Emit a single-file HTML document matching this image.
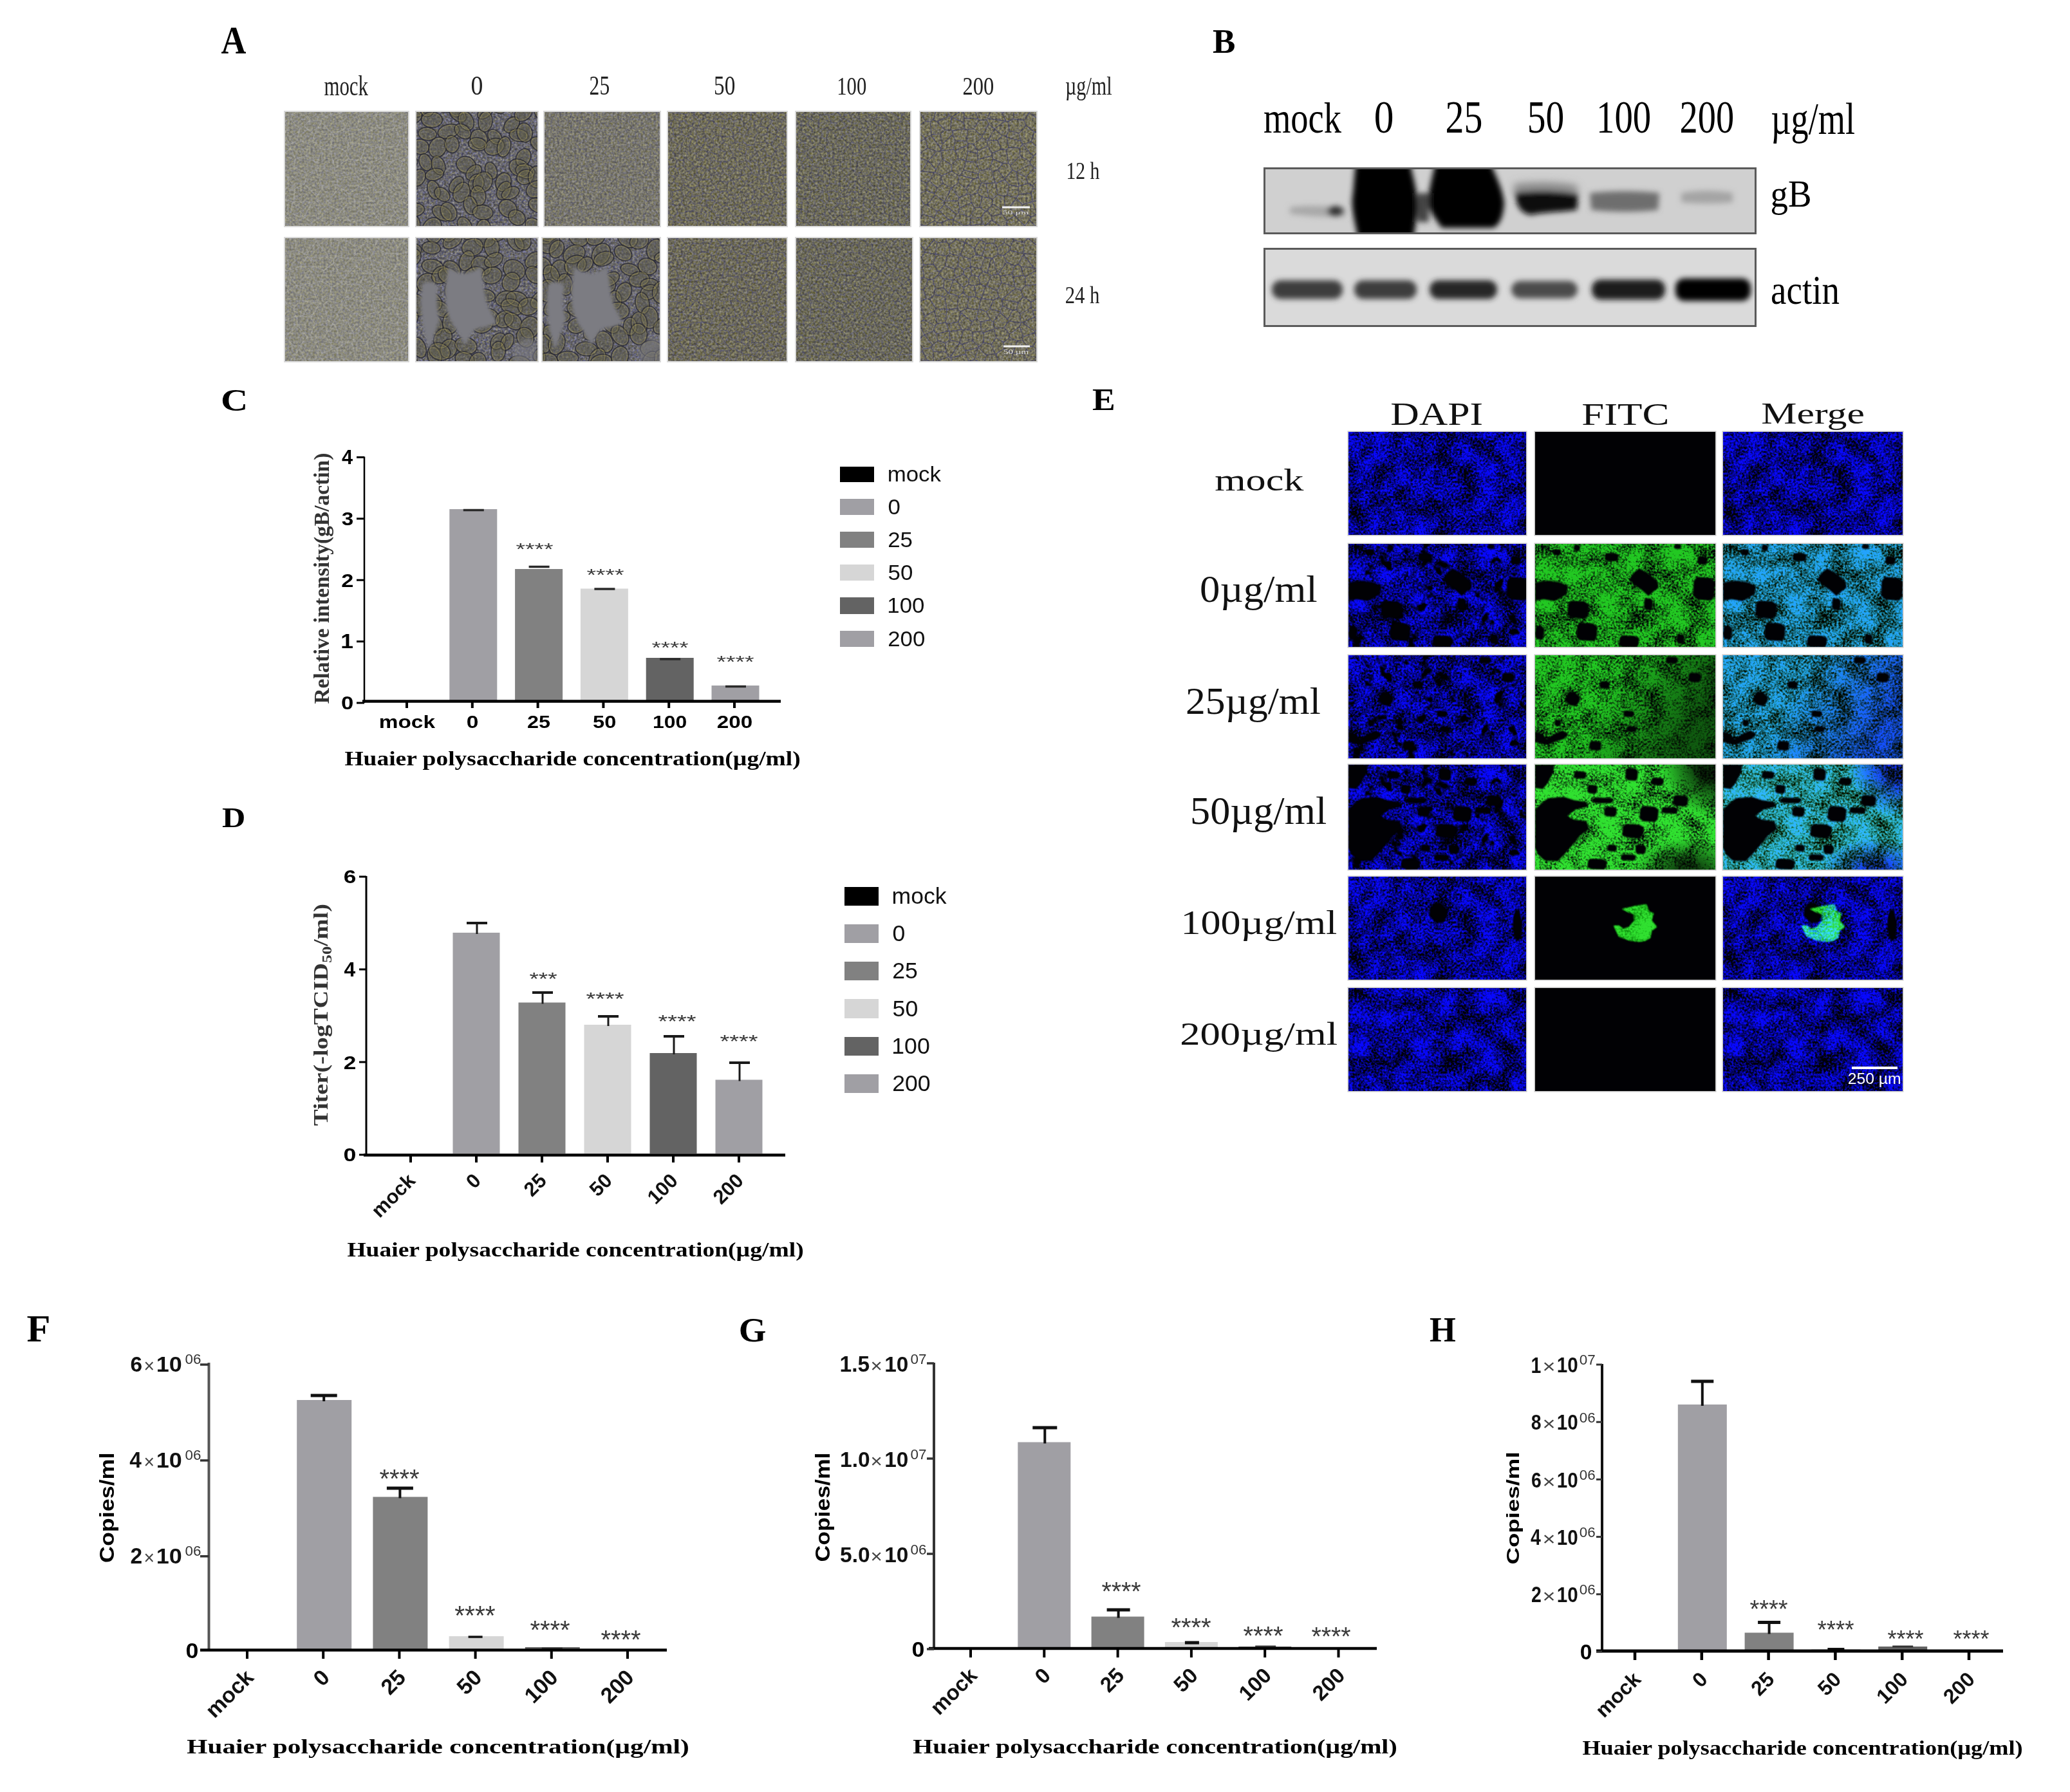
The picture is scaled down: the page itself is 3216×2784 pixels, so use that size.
<!DOCTYPE html><html><head><meta charset="utf-8"><title>Figure</title><style>html,body{margin:0;padding:0;background:#fff;overflow:hidden;width:3216px;height:2784px;}svg{display:block}</style></head><body>
<svg width="3216" height="2784" viewBox="0 0 3216 2784">
<defs><filter id="blur6" x="-20%" y="-50%" width="140%" height="200%"><feGaussianBlur stdDeviation="6"/></filter><filter id="blur2" x="-20%" y="-20%" width="140%" height="140%"><feGaussianBlur stdDeviation="2"/></filter>
<filter id="nz" x="0" y="0" width="1" height="1" color-interpolation-filters="sRGB"><feTurbulence type="fractalNoise" baseFrequency="0.3" numOctaves="2" seed="3" result="n"/><feColorMatrix in="n" type="matrix" values="1 0.32 0 0 -0.16  1 0.27 0 0 -0.135  1 -0.5 0 0 0.25  0 0 0 0 1" result="nc"/><feComposite in="SourceGraphic" in2="nc" operator="arithmetic" k1="0" k2="1" k3="0.5" k4="-0.25"/></filter>
<filter id="pa00" x="0" y="0" width="1" height="1" color-interpolation-filters="sRGB">
<feTurbulence type="fractalNoise" baseFrequency="0.3" numOctaves="2" seed="11" result="n"/>
<feColorMatrix in="n" type="matrix" values="1 0.32 0 0 -0.16  1 0.27 0 0 -0.135  1 -0.5 0 0 0.25  0 0 0 0 1" result="nc"/>
<feComposite in="SourceGraphic" in2="nc" operator="arithmetic" k1="0" k2="1" k3="0.32" k4="-0.160"/>
</filter>
<filter id="pa01" x="0" y="0" width="1" height="1" color-interpolation-filters="sRGB">
<feTurbulence type="fractalNoise" baseFrequency="0.3" numOctaves="2" seed="12" result="n"/>
<feColorMatrix in="n" type="matrix" values="1 0.32 0 0 -0.16  1 0.27 0 0 -0.135  1 -0.5 0 0 0.25  0 0 0 0 1" result="nc"/>
<feComposite in="SourceGraphic" in2="nc" operator="arithmetic" k1="0" k2="1" k3="0.5" k4="-0.250"/>
</filter>
<filter id="pa02" x="0" y="0" width="1" height="1" color-interpolation-filters="sRGB">
<feTurbulence type="fractalNoise" baseFrequency="0.3" numOctaves="2" seed="13" result="n"/>
<feColorMatrix in="n" type="matrix" values="1 0.32 0 0 -0.16  1 0.27 0 0 -0.135  1 -0.5 0 0 0.25  0 0 0 0 1" result="nc"/>
<feComposite in="SourceGraphic" in2="nc" operator="arithmetic" k1="0" k2="1" k3="0.4" k4="-0.200"/>
</filter>
<filter id="pa03" x="0" y="0" width="1" height="1" color-interpolation-filters="sRGB">
<feTurbulence type="fractalNoise" baseFrequency="0.3" numOctaves="2" seed="14" result="n"/>
<feColorMatrix in="n" type="matrix" values="1 0.32 0 0 -0.16  1 0.27 0 0 -0.135  1 -0.5 0 0 0.25  0 0 0 0 1" result="nc"/>
<feComposite in="SourceGraphic" in2="nc" operator="arithmetic" k1="0" k2="1" k3="0.45" k4="-0.225"/>
</filter>
<filter id="pa04" x="0" y="0" width="1" height="1" color-interpolation-filters="sRGB">
<feTurbulence type="fractalNoise" baseFrequency="0.3" numOctaves="2" seed="15" result="n"/>
<feColorMatrix in="n" type="matrix" values="1 0.32 0 0 -0.16  1 0.27 0 0 -0.135  1 -0.5 0 0 0.25  0 0 0 0 1" result="nc"/>
<feComposite in="SourceGraphic" in2="nc" operator="arithmetic" k1="0" k2="1" k3="0.45" k4="-0.225"/>
</filter>
<filter id="pa05" x="0" y="0" width="1" height="1" color-interpolation-filters="sRGB">
<feTurbulence type="fractalNoise" baseFrequency="0.3" numOctaves="2" seed="16" result="n"/>
<feColorMatrix in="n" type="matrix" values="1 0.32 0 0 -0.16  1 0.27 0 0 -0.135  1 -0.5 0 0 0.25  0 0 0 0 1" result="nc"/>
<feComposite in="SourceGraphic" in2="nc" operator="arithmetic" k1="0" k2="1" k3="0.45" k4="-0.225"/>
</filter>
<filter id="pa10" x="0" y="0" width="1" height="1" color-interpolation-filters="sRGB">
<feTurbulence type="fractalNoise" baseFrequency="0.3" numOctaves="2" seed="17" result="n"/>
<feColorMatrix in="n" type="matrix" values="1 0.32 0 0 -0.16  1 0.27 0 0 -0.135  1 -0.5 0 0 0.25  0 0 0 0 1" result="nc"/>
<feComposite in="SourceGraphic" in2="nc" operator="arithmetic" k1="0" k2="1" k3="0.32" k4="-0.160"/>
</filter>
<filter id="pa11" x="0" y="0" width="1" height="1" color-interpolation-filters="sRGB">
<feTurbulence type="fractalNoise" baseFrequency="0.3" numOctaves="2" seed="18" result="n"/>
<feColorMatrix in="n" type="matrix" values="1 0.32 0 0 -0.16  1 0.27 0 0 -0.135  1 -0.5 0 0 0.25  0 0 0 0 1" result="nc"/>
<feComposite in="SourceGraphic" in2="nc" operator="arithmetic" k1="0" k2="1" k3="0.5" k4="-0.250"/>
</filter>
<filter id="pa12" x="0" y="0" width="1" height="1" color-interpolation-filters="sRGB">
<feTurbulence type="fractalNoise" baseFrequency="0.3" numOctaves="2" seed="19" result="n"/>
<feColorMatrix in="n" type="matrix" values="1 0.32 0 0 -0.16  1 0.27 0 0 -0.135  1 -0.5 0 0 0.25  0 0 0 0 1" result="nc"/>
<feComposite in="SourceGraphic" in2="nc" operator="arithmetic" k1="0" k2="1" k3="0.5" k4="-0.250"/>
</filter>
<filter id="pa13" x="0" y="0" width="1" height="1" color-interpolation-filters="sRGB">
<feTurbulence type="fractalNoise" baseFrequency="0.3" numOctaves="2" seed="20" result="n"/>
<feColorMatrix in="n" type="matrix" values="1 0.32 0 0 -0.16  1 0.27 0 0 -0.135  1 -0.5 0 0 0.25  0 0 0 0 1" result="nc"/>
<feComposite in="SourceGraphic" in2="nc" operator="arithmetic" k1="0" k2="1" k3="0.45" k4="-0.225"/>
</filter>
<filter id="pa14" x="0" y="0" width="1" height="1" color-interpolation-filters="sRGB">
<feTurbulence type="fractalNoise" baseFrequency="0.3" numOctaves="2" seed="21" result="n"/>
<feColorMatrix in="n" type="matrix" values="1 0.32 0 0 -0.16  1 0.27 0 0 -0.135  1 -0.5 0 0 0.25  0 0 0 0 1" result="nc"/>
<feComposite in="SourceGraphic" in2="nc" operator="arithmetic" k1="0" k2="1" k3="0.45" k4="-0.225"/>
</filter>
<filter id="pa15" x="0" y="0" width="1" height="1" color-interpolation-filters="sRGB">
<feTurbulence type="fractalNoise" baseFrequency="0.3" numOctaves="2" seed="22" result="n"/>
<feColorMatrix in="n" type="matrix" values="1 0.32 0 0 -0.16  1 0.27 0 0 -0.135  1 -0.5 0 0 0.25  0 0 0 0 1" result="nc"/>
<feComposite in="SourceGraphic" in2="nc" operator="arithmetic" k1="0" k2="1" k3="0.45" k4="-0.225"/>
</filter>
<clipPath id="cgb"><rect x="1966" y="263" width="760" height="98"/></clipPath><clipPath id="cac"><rect x="1966" y="388" width="760" height="117"/></clipPath>
<filter id="blur4" x="-20%" y="-50%" width="140%" height="200%"><feGaussianBlur stdDeviation="4"/></filter>
<filter id="hb" x="-10%" y="-10%" width="120%" height="120%"><feGaussianBlur stdDeviation="1.2"/></filter>
<filter id="sblue" x="0" y="0" width="1" height="1" color-interpolation-filters="sRGB">
<feTurbulence type="fractalNoise" baseFrequency="0.3" numOctaves="2" seed="5" result="sp00"/>
<feColorMatrix in="sp00" type="matrix" values="1 0 0 0 0  0 1 0 0 0  0 0 1 0 0  0 0 0 0 1" result="sp0"/>
<feTurbulence type="fractalNoise" baseFrequency="0.03" numOctaves="2" seed="55" result="lo0"/>
<feColorMatrix in="lo0" type="matrix" values="1 0 0 0 0  0 1 0 0 0  0 0 1 0 0  0 0 0 0 1" result="lo"/>
<feComposite in="sp0" in2="lo" operator="arithmetic" k1="0" k2="1" k3="0.8" k4="-0.4" result="sp"/>
<feColorMatrix in="sp" type="matrix" values="0 0 0 0 0  0 0 0 0 0  0 0 0 0 0  2.0 0 0 0 -0.48" result="spA"/>
<feFlood flood-color="#0808ff"/>
<feComposite in2="spA" operator="in"/>
</filter>
<filter id="sblue2" x="0" y="0" width="1" height="1" color-interpolation-filters="sRGB">
<feTurbulence type="fractalNoise" baseFrequency="0.3" numOctaves="2" seed="6" result="sp00"/>
<feColorMatrix in="sp00" type="matrix" values="1 0 0 0 0  0 1 0 0 0  0 0 1 0 0  0 0 0 0 1" result="sp0"/>
<feTurbulence type="fractalNoise" baseFrequency="0.03" numOctaves="2" seed="56" result="lo0"/>
<feColorMatrix in="lo0" type="matrix" values="1 0 0 0 0  0 1 0 0 0  0 0 1 0 0  0 0 0 0 1" result="lo"/>
<feComposite in="sp0" in2="lo" operator="arithmetic" k1="0" k2="1" k3="0.8" k4="-0.4" result="sp"/>
<feColorMatrix in="sp" type="matrix" values="0 0 0 0 0  0 0 0 0 0  0 0 0 0 0  2.0 0 0 0 -0.48" result="spA"/>
<feFlood flood-color="#0808ff"/>
<feComposite in2="spA" operator="in"/>
</filter>
<filter id="sgreen1" x="0" y="0" width="1" height="1" color-interpolation-filters="sRGB">
<feTurbulence type="fractalNoise" baseFrequency="0.3" numOctaves="2" seed="6" result="sp00"/>
<feColorMatrix in="sp00" type="matrix" values="1 0 0 0 0  0 1 0 0 0  0 0 1 0 0  0 0 0 0 1" result="sp0"/>
<feTurbulence type="fractalNoise" baseFrequency="0.03" numOctaves="2" seed="56" result="lo0"/>
<feColorMatrix in="lo0" type="matrix" values="1 0 0 0 0  0 1 0 0 0  0 0 1 0 0  0 0 0 0 1" result="lo"/>
<feComposite in="sp0" in2="lo" operator="arithmetic" k1="0" k2="1" k3="0.8" k4="-0.4" result="sp"/>
<feColorMatrix in="sp" type="matrix" values="0 0 0 0 0  0 0 0 0 0  0 0 0 0 0  2.0 0 0 0 -0.3" result="spA"/>
<feFlood flood-color="#22c822"/>
<feComposite in2="spA" operator="in"/>
</filter>
<filter id="sgreen2" x="0" y="0" width="1" height="1" color-interpolation-filters="sRGB">
<feTurbulence type="fractalNoise" baseFrequency="0.3" numOctaves="2" seed="5" result="sp00"/>
<feColorMatrix in="sp00" type="matrix" values="1 0 0 0 0  0 1 0 0 0  0 0 1 0 0  0 0 0 0 1" result="sp0"/>
<feTurbulence type="fractalNoise" baseFrequency="0.03" numOctaves="2" seed="55" result="lo0"/>
<feColorMatrix in="lo0" type="matrix" values="1 0 0 0 0  0 1 0 0 0  0 0 1 0 0  0 0 0 0 1" result="lo"/>
<feComposite in="sp0" in2="lo" operator="arithmetic" k1="0" k2="1" k3="0.8" k4="-0.4" result="sp"/>
<feColorMatrix in="sp" type="matrix" values="0 0 0 0 0  0 0 0 0 0  0 0 0 0 0  2.0 0 0 0 -0.3" result="spA"/>
<feFlood flood-color="#22c822"/>
<feComposite in2="spA" operator="in"/>
</filter>
<filter id="sgreen3" x="0" y="0" width="1" height="1" color-interpolation-filters="sRGB">
<feTurbulence type="fractalNoise" baseFrequency="0.3" numOctaves="2" seed="6" result="sp00"/>
<feColorMatrix in="sp00" type="matrix" values="1 0 0 0 0  0 1 0 0 0  0 0 1 0 0  0 0 0 0 1" result="sp0"/>
<feTurbulence type="fractalNoise" baseFrequency="0.03" numOctaves="2" seed="56" result="lo0"/>
<feColorMatrix in="lo0" type="matrix" values="1 0 0 0 0  0 1 0 0 0  0 0 1 0 0  0 0 0 0 1" result="lo"/>
<feComposite in="sp0" in2="lo" operator="arithmetic" k1="0" k2="1" k3="0.8" k4="-0.4" result="sp"/>
<feColorMatrix in="sp" type="matrix" values="0 0 0 0 0  0 0 0 0 0  0 0 0 0 0  2.0 0 0 0 -0.2" result="spA"/>
<feFlood flood-color="#30e030"/>
<feComposite in2="spA" operator="in"/>
</filter>
<filter id="scyan" x="0" y="0" width="1" height="1" color-interpolation-filters="sRGB">
<feTurbulence type="fractalNoise" baseFrequency="0.22" numOctaves="2" seed="10" result="sp00"/>
<feColorMatrix in="sp00" type="matrix" values="1 0 0 0 0  0 1 0 0 0  0 0 1 0 0  0 0 0 0 1" result="sp0"/>
<feTurbulence type="fractalNoise" baseFrequency="0.03" numOctaves="2" seed="60" result="lo0"/>
<feColorMatrix in="lo0" type="matrix" values="1 0 0 0 0  0 1 0 0 0  0 0 1 0 0  0 0 0 0 1" result="lo"/>
<feComposite in="sp0" in2="lo" operator="arithmetic" k1="0" k2="1" k3="0.0" k4="-0.0" result="sp"/>
<feColorMatrix in="sp" type="matrix" values="0 0 0 0 0  0 0 0 0 0  0 0 0 0 0  2.6 0 0 0 -0.75" result="spA"/>
<feFlood flood-color="#00d0d0"/>
<feComposite in2="spA" operator="in"/>
</filter>
<filter id="dpatch" x="0" y="0" width="1" height="1" color-interpolation-filters="sRGB"><feTurbulence type="fractalNoise" baseFrequency="0.045" numOctaves="3" seed="21" result="h"/><feColorMatrix in="h" type="matrix" values="0 0 0 0 0  0 0 0 0 0  0 0 0 0 0.01  -7 0 0 0 2.9"/></filter>
<linearGradient id="g25" x1="0" y1="0" x2="1" y2="0.3"><stop offset="0.45" stop-color="#000" stop-opacity="0"/><stop offset="1" stop-color="#000" stop-opacity="0.55"/></linearGradient>
<radialGradient id="g50a" cx="1" cy="0" r="0.5" gradientTransform="scale(0.6,1) translate(0.66,0)"><stop offset="0.3" stop-color="#000" stop-opacity="0.8"/><stop offset="1" stop-color="#000" stop-opacity="0"/></radialGradient>
<radialGradient id="g50b" cx="0.85" cy="1" r="0.3"><stop offset="0.2" stop-color="#000" stop-opacity="0.7"/><stop offset="1" stop-color="#000" stop-opacity="0"/></radialGradient>
<mask id="blobm" maskUnits="userSpaceOnUse" x="0" y="0" width="290" height="170"><path d="M135,50 L150,47 L157,45 L173,43 L177,54 L184,57 L181,68 L189,78 L181,84 L179,95 L170,100 L160,101 L146,99 L130,93 L122,76 L130,76 L137,81 L146,78 L154,68 L153,58 L142,54 Z" fill="#fff" filter="url(#hb)"/></mask>
<mask id="hm1" maskUnits="userSpaceOnUse" x="0" y="0" width="280" height="164"><rect width="280" height="164" fill="#fff"/><g fill="#000" filter="url(#hb)"><path d="M0,60 L20,57 L40,60 L51,66 L49,78 L40,84 L30,89 L14,86 L0,88 Z"/><path d="M162,38 L176,46 L190,58 L192,68 L184,74 L176,81 L166,72 L155,64 L146,56 L152,46 Z"/><path d="M251.3,51 L272.44,52.85 L280,59.658 L278.25,81.34 L273.7,88 L251.93,86.52 L245,80.008 L246.4,57.66 Z"/><path d="M56.12,88 L76.656,89.4 L84,94.552 L82.3,110.96 L77.88,116 L56.732,114.88 L50,109.952 L51.36,93.04 Z"/><path d="M69.94,122 L89.872,123.45 L97,128.786 L95.35,145.78 L91.06,151 L70.534,149.84 L64,144.736 L65.32,127.22 Z"/><path d="M135.76,142 L155.088,142.95 L162,146.446 L160.4,157.58 L156.24,161 L136.336,160.24 L130,156.896 L131.28,145.42 Z"/><path d="M111.96,14 L125.248,14.65 L130,17.042 L128.9,24.66 L126.04,27 L112.356,26.48 L108,24.192 L108.88,16.34 Z"/><path d="M171.52,84 L179.976,84.95 L183,88.446 L182.3,99.58 L180.48,103 L171.772,102.24 L169,98.896 L169.56,87.42 Z"/><path d="M61.8,1 L67.84,1.5 L70,3.34 L69.5,9.2 L68.2,11 L61.98,10.6 L60,8.84 L60.4,2.8 Z"/><path d="M2.52,127 L10.975999999999999,128.1 L14,132.148 L13.3,145.04 L11.48,149 L2.7720000000000002,148.12 L0,144.248 L0.56,130.96 Z"/><path d="M217.98,0 L224.624,0.4 L227,1.8719999999999999 L226.45,6.5600000000000005 L225.02,8 L218.178,7.68 L216,6.272 L216.44,1.44 Z"/><path d="M254.88,19 L264.544,19.65 L268,22.042 L267.2,29.66 L265.12,32 L255.168,31.48 L252,29.192 L252.64,21.34 Z"/><path d="M30.16,8 L37.408,8.5 L40,10.34 L39.4,16.2 L37.84,18 L30.376,17.6 L28,15.84 L28.48,9.8 Z"/><path d="M222.16,140 L229.408,140.75 L232,143.51 L231.4,152.3 L229.84,155 L222.376,154.4 L220,151.76 L220.48,142.7 Z"/></g></mask>
<mask id="hm2" maskUnits="userSpaceOnUse" x="0" y="0" width="280" height="164"><rect width="280" height="164" fill="#fff"/><g fill="#000" filter="url(#hb)"><path d="M53.9,56 L61.72,57.15 L70,64.97 L68.85,72.1 L63.1,79 L54.59,78.08 L47,70.72 L47.92,62.9 Z"/><path d="M0,118 L10,122 L18,130 L30,122 L42,117 L52,122 L45,130 L32,134 L20,139 L8,137 L0,134 Z"/><path d="M87.42,133 L98.896,133.75 L103,136.51 L102.05,145.3 L99.58,148 L87.762,147.4 L84,144.76 L84.76,135.7 Z"/><path d="M140.06,86 L150.328,86.5 L154,88.34 L153.15,94.2 L150.94,96 L140.366,95.6 L137,93.84 L137.68,87.8 Z"/><path d="M241.6,27 L253.68,27.75 L258,30.509999999999998 L257.0,39.3 L254.4,42 L241.96,41.4 L238,38.76 L238.8,29.7 Z"/><path d="M206.42,2 L217.896,2.55 L222,4.574 L221.05,11.02 L218.58,13 L206.762,12.56 L203,10.624 L203.76,3.98 Z"/><path d="M144.88,110 L154.544,110.45 L158,112.106 L157.2,117.38 L155.12,119 L145.168,118.64 L142,117.056 L142.64,111.62 Z"/><path d="M102.88,40 L112.544,40.6 L116,42.808 L115.2,49.84 L113.12,52 L103.168,51.52 L100,49.408 L100.64,42.16 Z"/><path d="M31.8,100 L37.84,100.5 L40,102.34 L39.5,108.2 L38.2,110 L31.98,109.6 L30,107.84 L30.4,101.8 Z"/></g></mask>
<mask id="hm3" maskUnits="userSpaceOnUse" x="0" y="0" width="280" height="167"><rect width="280" height="167" fill="#fff"/><g fill="#000" filter="url(#hb)"><path d="M0,0 L30,0 L28,12 L20,28 L12,38 L0,36 Z"/><path d="M20,52 L45,50 L60,55 L80,58 L82,65 L62,70 L50,80 L60,85 L80,88 L84,100 L70,110 L58,125 L45,140 L35,150 L15,149 L5,140 L0,130 L0,70 L10,60 Z"/><path d="M83.88,31 L93.544,31.7 L97,34.276 L96.2,42.48 L94.12,45 L84.168,44.44 L81,41.976 L81.64,33.52 Z"/><path d="M94.12,51 L114.656,51.45 L122,53.106 L120.3,58.38 L115.88,60 L94.732,59.64 L88,58.056 L89.36,52.62 Z"/><path d="M110.6,65 L122.68,65.8 L127,68.744 L126.0,78.12 L123.4,81 L110.96,80.36 L107,77.544 L107.8,67.88 Z"/><path d="M141.12,92 L161.656,93.1 L169,97.148 L167.3,110.04 L162.88,114 L141.732,113.12 L135,109.248 L136.36,95.96 Z"/><path d="M167.4,64 L185.52,65.25 L192,69.85 L190.5,84.5 L186.6,89 L167.94,88.0 L162,83.6 L163.2,68.5 Z"/><path d="M200.68,66 L216.38400000000001,66.5 L222,68.34 L220.7,74.2 L217.32,76 L201.148,75.6 L196,73.84 L197.04,67.8 Z"/><path d="M218.32,47 L232.816,47.9 L238,51.212 L236.8,61.76 L233.68,65 L218.752,64.28 L214,61.112 L214.96,50.24 Z"/><path d="M158.88,124 L168.544,124.75 L172,127.51 L171.2,136.3 L169.12,139 L159.168,138.4 L156,135.76 L156.64,126.7 Z"/><path d="M114.7,124 L123.76,124.55 L127,126.574 L126.25,133.02 L124.3,135 L114.97,134.56 L112,132.624 L112.6,125.98 Z"/><path d="M86.58,146 L105.304,146.85 L112,149.978 L110.45,159.94 L106.42,163 L87.138,162.32 L81,159.328 L82.24,149.06 Z"/><path d="M137.32,139 L151.816,139.5 L157,141.34 L155.8,147.2 L152.68,149 L137.752,148.6 L133,146.84 L133.96,140.8 Z"/><path d="M143.6,5 L155.68,6.0 L160,9.68 L159.0,21.4 L156.4,25 L143.96,24.2 L140,20.68 L140.8,8.6 Z"/><path d="M63.6,10 L75.68,10.6 L80,12.808 L79.0,19.84 L76.4,22 L63.96,21.52 L60,19.408 L60.8,12.16 Z"/><path d="M183.6,20 L195.68,20.6 L200,22.808 L199.0,29.84 L196.4,32 L183.96,31.52 L180,29.408 L180.8,22.16 Z"/></g></mask>
<mask id="hm4" maskUnits="userSpaceOnUse" x="0" y="0" width="280" height="164"><rect width="280" height="164" fill="#fff"/><g fill="#000" filter="url(#hb)"><path d="M134.0,40 L144.2,41.6 L155,52.480000000000004 L153.5,62.4 L146.0,72 L134.9,70.72 L125,60.480000000000004 L126.2,49.6 Z"/><path d="M259.5,50 L264.6,52.5 L270,69.5 L269.25,85.0 L265.5,100 L259.95,98.0 L255,82.0 L255.6,65.0 Z"/></g></mask></defs>
<rect width="3216" height="2784" fill="#fff"/>
<text x="343.5" y="83.0" font-family='"Liberation Serif", serif' font-weight="bold" font-size="60.59" textLength="38.9" lengthAdjust="spacingAndGlyphs" fill="#000" >A</text>
<text x="1884.1" y="81.8" font-family='"Liberation Serif", serif' font-weight="bold" font-size="53.21" textLength="35.4" lengthAdjust="spacingAndGlyphs" fill="#000" >B</text>
<text x="343.1" y="637.5" font-family='"Liberation Serif", serif' font-weight="bold" font-size="47.63" textLength="42.3" lengthAdjust="spacingAndGlyphs" fill="#000" >C</text>
<text x="345.1" y="1284.9" font-family='"Liberation Serif", serif' font-weight="bold" font-size="44.16" textLength="36.3" lengthAdjust="spacingAndGlyphs" fill="#000" >D</text>
<text x="1697.1" y="637.0" font-family='"Liberation Serif", serif' font-weight="bold" font-size="48.87" textLength="35.7" lengthAdjust="spacingAndGlyphs" fill="#000" >E</text>
<text x="41.5" y="2084.0" font-family='"Liberation Serif", serif' font-weight="bold" font-size="58.80" textLength="36.9" lengthAdjust="spacingAndGlyphs" fill="#000" >F</text>
<text x="1147.8" y="2083.5" font-family='"Liberation Serif", serif' font-weight="bold" font-size="52.09" textLength="42.7" lengthAdjust="spacingAndGlyphs" fill="#000" >G</text>
<text x="2221.1" y="2084.0" font-family='"Liberation Serif", serif' font-weight="bold" font-size="54.98" textLength="40.8" lengthAdjust="spacingAndGlyphs" fill="#000" >H</text>
<rect x="441.0" y="172.0" width="195.0" height="181.0" fill="#dadada" />
<svg x="443" y="174" width="191" height="177" overflow="hidden"><rect width="191" height="177" fill="#8b8a80" filter="url(#pa00)"/>
<path d="M137,192L152,181M171,191L152,181M200,149L179,138M179,138L188,127M208,124L188,127M186,163L198,174M186,163L178,163M178,163L174,191M198,178L180,193M200,149L186,163M167,145L156,138M167,145L171,157M171,157L152,176M152,176L135,154M156,138L141,144M141,144L135,154M179,138L167,145M178,163L171,157M152,181L152,176M-1,34L-18,25M-1,34L8,12M8,12L-9,14M-1,34L6,49M6,49L-14,51M125,159L122,167M125,159L135,154M126,185L122,167M49,79L33,68M49,79L59,55M33,68L36,48M59,55L43,46M36,48L43,46M125,159L99,140M99,140L99,140M141,144L135,138M99,140L135,138M99,140L99,127M99,127L114,117M135,138L119,117M119,117L114,117M188,127L174,111M156,138L156,122M156,122L174,111M119,117L144,107M156,122L144,107M8,50L9,56M8,50L19,44M33,68L16,73M19,44L36,48M16,73L9,56M8,50L6,49M9,56L-12,74M-2,164L-30,175M-2,164L4,181M4,181L-17,200M9,185L4,181M63,142L52,141M63,142L85,117M49,131L58,118M49,131L49,138M52,141L49,138M58,118L81,112M85,117L81,112M99,140L86,154M86,154L63,142M99,127L85,117M8,12L9,12M19,44L22,26M22,26L9,12M-11,-14L11,5M9,12L11,5M113,101L114,117M113,101L109,95M81,112L81,100M109,95L81,100M51,87L48,90M51,87L76,89M48,90L58,118M76,89L81,100M159,79L149,72M159,79L158,88M158,88L144,106M149,72L132,79M144,106L132,91M132,91L132,79M144,107L144,106M174,111L176,106M176,106L158,88M125,50L118,73M125,50L147,56M118,73L132,79M147,56L149,72M113,101L132,91M118,73L108,76M109,95L108,76M147,56L148,55M174,73L174,53M174,73L159,79M174,53L148,55M-2,164L-2,164M-2,164L-23,140M9,185L21,179M38,186L21,179M63,186L68,175M68,175L52,165M52,165L41,172M38,186L41,172M52,165L52,141M49,138L42,140M41,172L29,163M42,140L29,163M-2,164L8,156M21,179L22,163M8,156L22,163M22,163L29,163M102,171L101,178M102,171L86,155M101,178L89,190M89,190L75,173M75,173L86,155M122,167L102,171M115,189L101,178M86,154L86,155M68,175L75,173M85,2L100,-9M85,2L79,0M79,0L72,-23M43,46L45,35M22,26L29,22M45,35L29,22M94,61L98,72M94,61L72,50M98,72L77,88M77,88L69,52M69,52L72,50M125,50L125,49M125,49L102,50M102,50L94,61M108,76L98,72M75,35L72,50M75,35L94,25M94,25L98,26M102,50L98,26M76,89L77,88M51,87L49,79M59,55L69,52M75,35L56,16M45,35L56,16M176,106L177,105M174,73L182,77M182,77L177,105M208,123L189,104M189,104L177,105M202,52L184,77M184,77L201,87M201,49L180,43M180,43L174,53M182,77L184,77M189,104L201,87M168,5L170,25M168,5L169,0M169,0L192,-1M172,26L170,25M172,26L191,17M191,17L192,-1M165,-15L169,0M143,3L147,-15M143,3L168,5M180,43L172,26M148,55L154,28M154,28L170,25M214,23L191,17M200,-12L192,-1M100,-9L118,0M118,0L128,-15M144,24L140,9M144,24L125,33M140,9L118,2M118,2L111,24M125,33L111,24M154,28L144,24M143,3L140,9M125,49L125,33M118,0L118,2M94,25L85,2M98,26L111,24M48,90L34,96M49,131L30,112M30,112L34,96M16,73L14,85M34,96L14,85M-5,93L-1,93M14,85L-1,93M13,139L12,140M13,139L15,119M12,140L-6,133M15,119L15,118M15,118L-8,119M42,140L13,139M8,156L12,140M30,112L15,119M-1,93L15,118M29,22L39,12M56,16L56,14M39,12L56,14M11,5L25,-6M39,12L25,-6M79,0L59,8M59,8L56,14M59,8L53,-9" fill="none" stroke="#d0d0d8" stroke-opacity="0.2" stroke-width="1.6"/>
</svg>
<rect x="645.0" y="172.0" width="192.0" height="181.0" fill="#dadada" />
<svg x="647" y="174" width="188" height="177" overflow="hidden"><rect width="188" height="177" fill="#74737a" filter="url(#pa01)"/>
<g fill="#66634f" fill-opacity="0.5" stroke="#2a2a36" stroke-width="1.7" stroke-opacity="0.7"><ellipse cx="1" cy="-9" rx="17.2" ry="12.8" transform="rotate(88 1 -9)"/><ellipse cx="17" cy="-8" rx="15.7" ry="12.2" transform="rotate(94 17 -8)"/><ellipse cx="48" cy="-10" rx="14.1" ry="10.5" transform="rotate(160 48 -10)"/><ellipse cx="63" cy="-9" rx="17.1" ry="12.6" transform="rotate(101 63 -9)"/><ellipse cx="107" cy="0" rx="14.1" ry="8.7" transform="rotate(141 107 0)"/><ellipse cx="125" cy="-9" rx="14.5" ry="9.3" transform="rotate(38 125 -9)"/><ellipse cx="144" cy="-21" rx="14.4" ry="10.3" transform="rotate(145 144 -21)"/><ellipse cx="185" cy="-16" rx="13.7" ry="9.1" transform="rotate(91 185 -16)"/><ellipse cx="-6" cy="7" rx="14.7" ry="11.1" transform="rotate(166 -6 7)"/><ellipse cx="24" cy="12" rx="16.4" ry="12.2" transform="rotate(1 24 12)"/><ellipse cx="64" cy="3" rx="15.8" ry="9.9" transform="rotate(42 64 3)"/><ellipse cx="77" cy="14" rx="15.7" ry="11.5" transform="rotate(66 77 14)"/><ellipse cx="107" cy="15" rx="16.3" ry="10.9" transform="rotate(98 107 15)"/><ellipse cx="148" cy="20" rx="14.2" ry="10.3" transform="rotate(132 148 20)"/><ellipse cx="166" cy="2" rx="14.9" ry="11.3" transform="rotate(143 166 2)"/><ellipse cx="195" cy="3" rx="15.3" ry="9.6" transform="rotate(50 195 3)"/><ellipse cx="-16" cy="39" rx="15.8" ry="10.6" transform="rotate(107 -16 39)"/><ellipse cx="17" cy="34" rx="14.4" ry="10.2" transform="rotate(7 17 34)"/><ellipse cx="50" cy="30" rx="17.1" ry="10.8" transform="rotate(165 50 30)"/><ellipse cx="72" cy="30" rx="14.4" ry="10.1" transform="rotate(38 72 30)"/><ellipse cx="97" cy="42" rx="15.5" ry="13.1" transform="rotate(68 97 42)"/><ellipse cx="122" cy="39" rx="13.6" ry="9.6" transform="rotate(49 122 39)"/><ellipse cx="159" cy="36" rx="14.8" ry="10.0" transform="rotate(9 159 36)"/><ellipse cx="168" cy="32" rx="15.2" ry="12.1" transform="rotate(78 168 32)"/><ellipse cx="6" cy="54" rx="13.9" ry="11.7" transform="rotate(16 6 54)"/><ellipse cx="33" cy="55" rx="16.5" ry="13.4" transform="rotate(114 33 55)"/><ellipse cx="55" cy="50" rx="13.7" ry="11.3" transform="rotate(84 55 50)"/><ellipse cx="95" cy="50" rx="14.5" ry="10.3" transform="rotate(10 95 50)"/><ellipse cx="121" cy="54" rx="16.2" ry="12.9" transform="rotate(157 121 54)"/><ellipse cx="136" cy="54" rx="16.1" ry="10.5" transform="rotate(102 136 54)"/><ellipse cx="166" cy="71" rx="14.8" ry="11.1" transform="rotate(116 166 71)"/><ellipse cx="190" cy="50" rx="14.3" ry="9.7" transform="rotate(37 190 50)"/><ellipse cx="-13" cy="79" rx="14.9" ry="10.4" transform="rotate(168 -13 79)"/><ellipse cx="14" cy="78" rx="13.7" ry="9.6" transform="rotate(68 14 78)"/><ellipse cx="34" cy="83" rx="15.2" ry="10.3" transform="rotate(71 34 83)"/><ellipse cx="77" cy="82" rx="15.3" ry="12.9" transform="rotate(18 77 82)"/><ellipse cx="89" cy="94" rx="14.4" ry="9.9" transform="rotate(135 89 94)"/><ellipse cx="116" cy="91" rx="13.6" ry="9.0" transform="rotate(72 116 91)"/><ellipse cx="160" cy="87" rx="17.0" ry="13.0" transform="rotate(31 160 87)"/><ellipse cx="169" cy="92" rx="15.4" ry="11.2" transform="rotate(18 169 92)"/><ellipse cx="3" cy="102" rx="14.0" ry="10.5" transform="rotate(118 3 102)"/><ellipse cx="28" cy="97" rx="14.6" ry="9.3" transform="rotate(167 28 97)"/><ellipse cx="62" cy="113" rx="14.6" ry="9.3" transform="rotate(128 62 113)"/><ellipse cx="93" cy="111" rx="14.9" ry="12.1" transform="rotate(104 93 111)"/><ellipse cx="103" cy="109" rx="17.0" ry="14.4" transform="rotate(125 103 109)"/><ellipse cx="135" cy="109" rx="15.0" ry="12.0" transform="rotate(107 135 109)"/><ellipse cx="169" cy="101" rx="13.6" ry="11.5" transform="rotate(154 169 101)"/><ellipse cx="187" cy="101" rx="17.2" ry="13.3" transform="rotate(92 187 101)"/><ellipse cx="-13" cy="127" rx="13.7" ry="8.7" transform="rotate(72 -13 127)"/><ellipse cx="27" cy="121" rx="15.3" ry="9.6" transform="rotate(71 27 121)"/><ellipse cx="40" cy="128" rx="13.6" ry="9.5" transform="rotate(39 40 128)"/><ellipse cx="70" cy="125" rx="16.5" ry="12.4" transform="rotate(118 70 125)"/><ellipse cx="96" cy="130" rx="15.8" ry="11.7" transform="rotate(80 96 130)"/><ellipse cx="136" cy="122" rx="15.4" ry="10.3" transform="rotate(118 136 122)"/><ellipse cx="146" cy="126" rx="14.6" ry="9.3" transform="rotate(156 146 126)"/><ellipse cx="185" cy="120" rx="15.4" ry="12.5" transform="rotate(146 185 120)"/><ellipse cx="-4" cy="152" rx="16.6" ry="10.6" transform="rotate(174 -4 152)"/><ellipse cx="40" cy="157" rx="16.7" ry="11.0" transform="rotate(30 40 157)"/><ellipse cx="50" cy="155" rx="15.4" ry="12.0" transform="rotate(61 50 155)"/><ellipse cx="84" cy="145" rx="15.0" ry="10.5" transform="rotate(75 84 145)"/><ellipse cx="103" cy="156" rx="16.0" ry="11.6" transform="rotate(6 103 156)"/><ellipse cx="142" cy="150" rx="15.3" ry="12.9" transform="rotate(42 142 150)"/><ellipse cx="156" cy="164" rx="13.9" ry="11.4" transform="rotate(33 156 164)"/><ellipse cx="188" cy="145" rx="14.7" ry="10.7" transform="rotate(25 188 145)"/><ellipse cx="-5" cy="175" rx="14.2" ry="10.8" transform="rotate(97 -5 175)"/><ellipse cx="24" cy="180" rx="17.2" ry="13.8" transform="rotate(126 24 180)"/><ellipse cx="54" cy="189" rx="14.9" ry="11.8" transform="rotate(158 54 189)"/><ellipse cx="75" cy="176" rx="14.3" ry="10.1" transform="rotate(59 75 176)"/><ellipse cx="104" cy="180" rx="13.7" ry="11.0" transform="rotate(96 104 180)"/><ellipse cx="114" cy="189" rx="14.4" ry="9.1" transform="rotate(14 114 189)"/><ellipse cx="160" cy="189" rx="13.5" ry="10.5" transform="rotate(29 160 189)"/><ellipse cx="183" cy="178" rx="15.9" ry="11.4" transform="rotate(43 183 178)"/></g>
<g fill="none" stroke="#bcae64" stroke-width="1.2" stroke-opacity="0.35"><ellipse cx="1" cy="-9" rx="15.2" ry="10.8" transform="rotate(88 1 -9)"/><ellipse cx="17" cy="-8" rx="13.7" ry="10.2" transform="rotate(94 17 -8)"/><ellipse cx="48" cy="-10" rx="12.1" ry="8.5" transform="rotate(160 48 -10)"/><ellipse cx="63" cy="-9" rx="15.1" ry="10.6" transform="rotate(101 63 -9)"/><ellipse cx="107" cy="0" rx="12.1" ry="6.7" transform="rotate(141 107 0)"/><ellipse cx="125" cy="-9" rx="12.5" ry="7.3" transform="rotate(38 125 -9)"/><ellipse cx="144" cy="-21" rx="12.4" ry="8.3" transform="rotate(145 144 -21)"/><ellipse cx="185" cy="-16" rx="11.7" ry="7.1" transform="rotate(91 185 -16)"/><ellipse cx="-6" cy="7" rx="12.7" ry="9.1" transform="rotate(166 -6 7)"/><ellipse cx="24" cy="12" rx="14.4" ry="10.2" transform="rotate(1 24 12)"/><ellipse cx="64" cy="3" rx="13.8" ry="7.9" transform="rotate(42 64 3)"/><ellipse cx="77" cy="14" rx="13.7" ry="9.5" transform="rotate(66 77 14)"/><ellipse cx="107" cy="15" rx="14.3" ry="8.9" transform="rotate(98 107 15)"/><ellipse cx="148" cy="20" rx="12.2" ry="8.3" transform="rotate(132 148 20)"/><ellipse cx="166" cy="2" rx="12.9" ry="9.3" transform="rotate(143 166 2)"/><ellipse cx="195" cy="3" rx="13.3" ry="7.6" transform="rotate(50 195 3)"/><ellipse cx="-16" cy="39" rx="13.8" ry="8.6" transform="rotate(107 -16 39)"/><ellipse cx="17" cy="34" rx="12.4" ry="8.2" transform="rotate(7 17 34)"/><ellipse cx="50" cy="30" rx="15.1" ry="8.8" transform="rotate(165 50 30)"/><ellipse cx="72" cy="30" rx="12.4" ry="8.1" transform="rotate(38 72 30)"/><ellipse cx="97" cy="42" rx="13.5" ry="11.1" transform="rotate(68 97 42)"/><ellipse cx="122" cy="39" rx="11.6" ry="7.6" transform="rotate(49 122 39)"/><ellipse cx="159" cy="36" rx="12.8" ry="8.0" transform="rotate(9 159 36)"/><ellipse cx="168" cy="32" rx="13.2" ry="10.1" transform="rotate(78 168 32)"/><ellipse cx="6" cy="54" rx="11.9" ry="9.7" transform="rotate(16 6 54)"/><ellipse cx="33" cy="55" rx="14.5" ry="11.4" transform="rotate(114 33 55)"/><ellipse cx="55" cy="50" rx="11.7" ry="9.3" transform="rotate(84 55 50)"/><ellipse cx="95" cy="50" rx="12.5" ry="8.3" transform="rotate(10 95 50)"/><ellipse cx="121" cy="54" rx="14.2" ry="10.9" transform="rotate(157 121 54)"/><ellipse cx="136" cy="54" rx="14.1" ry="8.5" transform="rotate(102 136 54)"/><ellipse cx="166" cy="71" rx="12.8" ry="9.1" transform="rotate(116 166 71)"/><ellipse cx="190" cy="50" rx="12.3" ry="7.7" transform="rotate(37 190 50)"/><ellipse cx="-13" cy="79" rx="12.9" ry="8.4" transform="rotate(168 -13 79)"/><ellipse cx="14" cy="78" rx="11.7" ry="7.6" transform="rotate(68 14 78)"/><ellipse cx="34" cy="83" rx="13.2" ry="8.3" transform="rotate(71 34 83)"/><ellipse cx="77" cy="82" rx="13.3" ry="10.9" transform="rotate(18 77 82)"/><ellipse cx="89" cy="94" rx="12.4" ry="7.9" transform="rotate(135 89 94)"/><ellipse cx="116" cy="91" rx="11.6" ry="7.0" transform="rotate(72 116 91)"/><ellipse cx="160" cy="87" rx="15.0" ry="11.0" transform="rotate(31 160 87)"/><ellipse cx="169" cy="92" rx="13.4" ry="9.2" transform="rotate(18 169 92)"/><ellipse cx="3" cy="102" rx="12.0" ry="8.5" transform="rotate(118 3 102)"/><ellipse cx="28" cy="97" rx="12.6" ry="7.3" transform="rotate(167 28 97)"/><ellipse cx="62" cy="113" rx="12.6" ry="7.3" transform="rotate(128 62 113)"/><ellipse cx="93" cy="111" rx="12.9" ry="10.1" transform="rotate(104 93 111)"/><ellipse cx="103" cy="109" rx="15.0" ry="12.4" transform="rotate(125 103 109)"/><ellipse cx="135" cy="109" rx="13.0" ry="10.0" transform="rotate(107 135 109)"/><ellipse cx="169" cy="101" rx="11.6" ry="9.5" transform="rotate(154 169 101)"/><ellipse cx="187" cy="101" rx="15.2" ry="11.3" transform="rotate(92 187 101)"/><ellipse cx="-13" cy="127" rx="11.7" ry="6.7" transform="rotate(72 -13 127)"/><ellipse cx="27" cy="121" rx="13.3" ry="7.6" transform="rotate(71 27 121)"/><ellipse cx="40" cy="128" rx="11.6" ry="7.5" transform="rotate(39 40 128)"/><ellipse cx="70" cy="125" rx="14.5" ry="10.4" transform="rotate(118 70 125)"/><ellipse cx="96" cy="130" rx="13.8" ry="9.7" transform="rotate(80 96 130)"/><ellipse cx="136" cy="122" rx="13.4" ry="8.3" transform="rotate(118 136 122)"/><ellipse cx="146" cy="126" rx="12.6" ry="7.3" transform="rotate(156 146 126)"/><ellipse cx="185" cy="120" rx="13.4" ry="10.5" transform="rotate(146 185 120)"/><ellipse cx="-4" cy="152" rx="14.6" ry="8.6" transform="rotate(174 -4 152)"/><ellipse cx="40" cy="157" rx="14.7" ry="9.0" transform="rotate(30 40 157)"/><ellipse cx="50" cy="155" rx="13.4" ry="10.0" transform="rotate(61 50 155)"/><ellipse cx="84" cy="145" rx="13.0" ry="8.5" transform="rotate(75 84 145)"/><ellipse cx="103" cy="156" rx="14.0" ry="9.6" transform="rotate(6 103 156)"/><ellipse cx="142" cy="150" rx="13.3" ry="10.9" transform="rotate(42 142 150)"/><ellipse cx="156" cy="164" rx="11.9" ry="9.4" transform="rotate(33 156 164)"/><ellipse cx="188" cy="145" rx="12.7" ry="8.7" transform="rotate(25 188 145)"/><ellipse cx="-5" cy="175" rx="12.2" ry="8.8" transform="rotate(97 -5 175)"/><ellipse cx="24" cy="180" rx="15.2" ry="11.8" transform="rotate(126 24 180)"/><ellipse cx="54" cy="189" rx="12.9" ry="9.8" transform="rotate(158 54 189)"/><ellipse cx="75" cy="176" rx="12.3" ry="8.1" transform="rotate(59 75 176)"/><ellipse cx="104" cy="180" rx="11.7" ry="9.0" transform="rotate(96 104 180)"/><ellipse cx="114" cy="189" rx="12.4" ry="7.1" transform="rotate(14 114 189)"/><ellipse cx="160" cy="189" rx="11.5" ry="8.5" transform="rotate(29 160 189)"/><ellipse cx="183" cy="178" rx="13.9" ry="9.4" transform="rotate(43 183 178)"/></g>
<rect width="188" height="177" fill="#000" fill-opacity="0.0001" filter="url(#nz)" style="mix-blend-mode:overlay" opacity="0.5"/>
</svg>
<rect x="844.0" y="172.0" width="183.0" height="181.0" fill="#dadada" />
<svg x="846" y="174" width="179" height="177" overflow="hidden"><rect width="179" height="177" fill="#7a786e" filter="url(#pa02)"/>
<path d="M-2,67L-9,81M-2,67L-18,61M3,58L-1,66M3,58L-10,47M-1,66L-2,67M22,72L20,66M22,72L22,74M20,66L5,71M5,71L13,79M22,74L13,79M4,87L12,81M4,87L-9,81M5,71L-1,66M13,79L12,81M184,174L190,177M184,174L173,178M184,189L173,179M173,178L173,179M184,174L186,162M181,66L184,62M181,66L194,79M204,76L184,62M184,62L184,62M191,55L184,62M-9,-0L-2,-12M21,92L12,81M21,92L24,94M22,74L33,82M24,94L31,88M31,88L33,82M22,72L33,66M33,66L39,72M39,72L33,82M33,82L33,82M4,87L5,93M-14,92L-1,99M-1,99L5,93M21,92L8,95M8,95L5,93M-17,186L-4,182M-4,182L-6,176M63,185L68,177M68,177L79,175M79,175L81,190M98,187L97,177M97,177L81,190M173,178L169,173M172,156L186,162M172,156L170,160M170,160L169,173M173,179L170,182M172,156L170,149M190,149L181,141M181,141L170,149M91,13L100,-0M91,13L94,17M100,-0L106,1M106,1L108,13M94,17L108,13M78,80L65,83M78,80L81,77M65,83L66,69M66,69L80,74M81,77L80,74M91,13L88,12M93,29L81,31M93,29L96,22M94,17L96,22M81,31L79,18M88,12L79,18M88,12L79,-1M79,18L70,17M70,17L74,1M79,-1L74,1M184,-4L193,11M184,-4L187,-11M19,60L6,57M19,60L22,57M22,57L21,46M21,46L9,44M6,57L9,44M20,66L19,60M3,58L6,57M33,66L34,56M34,56L22,57M44,59L49,49M44,59L49,67M49,49L59,65M49,67L52,68M52,68L59,65M39,72L49,67M34,56L34,56M34,56L44,59M52,82L52,68M52,82L49,86M49,86L33,82M93,29L98,39M98,39L81,41M81,31L78,36M81,41L78,36M87,57L88,65M87,57L99,51M107,68L105,57M107,68L96,70M96,70L88,65M99,51L105,57M-9,-0L-1,9M-2,-12L5,-3M5,-3L-1,9M-8,17L-1,11M-1,9L-1,11M34,134L30,148M34,134L23,131M20,146L17,139M20,146L28,148M23,131L17,139M28,148L30,148M78,80L74,91M74,91L69,94M64,84L65,83M64,84L67,92M67,92L69,94M-5,121L-1,137M-1,137L-1,137M-1,137L-19,131M11,154L20,146M11,154L4,152M4,152L-3,146M-3,146L-1,137M17,139L8,134M8,134L-1,137M-17,146L-4,147M-4,147L-10,162M-3,146L-4,147M-1,166L-2,166M-1,166L4,152M-2,166L-10,162M-2,166L-6,176M-4,182L4,185M-1,166L8,169M8,169L5,185M128,83L132,90M128,83L141,72M132,90L144,89M141,72L144,89M142,71L135,63M142,71L141,72M135,63L122,71M122,71L126,82M126,82L128,83M138,5L147,8M138,5L136,-6M147,8L154,1M154,1L153,-8M176,12L174,1M176,12L164,14M164,14L160,4M160,4L171,-0M174,1L171,-0M168,-12L171,-0M154,1L160,4M184,-4L174,1M125,5L119,7M125,5L127,-4M119,7L112,-1M112,-1L117,-9M127,-4L118,-9M133,9L133,10M133,9L125,5M133,10L123,17M118,13L119,7M118,13L123,17M138,5L133,9M136,-6L127,-4M106,1L112,-1M112,16L108,13M112,16L118,13M100,-0L97,-5M176,12L180,16M180,16L187,16M21,46L29,38M9,44L8,40M8,40L20,30M20,30L25,30M29,38L25,30M34,56L36,41M29,38L36,41M64,49L84,54M64,49L63,65M64,65L86,56M64,65L63,65M86,56L84,54M87,57L86,56M66,69L64,65M80,74L88,65M52,82L64,84M59,65L63,65M4,38L1,29M4,38L-10,44M-3,27L1,29M-3,27L-13,35M8,40L4,38M10,22L1,29M10,22L20,30M-8,17L-3,27M10,22L9,15M9,15L-1,11M98,39L99,41M96,22L109,26M99,41L109,26M81,41L84,54M99,51L100,43M99,41L100,43M112,16L110,26M110,26L109,26M80,-2L74,-15M80,-2L91,-8M79,-1L80,-2M74,1L69,1M65,-11L69,1M17,-1L12,12M17,-1L21,-3M22,-3L21,-3M22,-3L27,5M27,5L29,9M29,9L21,15M21,15L12,12M5,-3L17,-1M9,15L12,12M13,-15L21,-3M31,-12L22,-3M37,15L29,9M37,15L37,19M37,19L26,28M26,28L21,15M26,28L25,30M17,116L12,119M17,116L17,107M17,107L13,105M13,105L-2,106M12,119L-1,116M-1,116L-3,107M-3,107L-2,106M22,119L17,116M22,119L23,131M8,134L12,119M24,94L24,100M24,100L17,107M8,95L13,105M-1,99L-2,106M-5,121L-1,116M-18,105L-3,107M49,86L50,94M31,88L38,96M50,94L38,96M67,92L51,96M50,94L51,96M70,106L55,108M70,106L69,94M55,108L51,107M51,96L51,107M24,100L37,108M38,96L37,108M34,134L38,132M43,151L38,154M43,151L43,134M38,154L30,148M38,132L43,134M68,177L61,168M61,168L53,173M53,173L56,184M43,165L59,160M43,165L43,170M61,168L62,163M53,173L43,170M59,160L62,163M43,151L55,149M38,156L38,154M38,156L43,165M59,160L55,149M43,170L37,177M37,177L39,183M29,163L23,160M29,163L25,174M25,174L24,175M24,175L13,166M23,160L14,163M14,163L13,166M38,156L29,163M28,148L23,160M37,177L25,174M11,154L14,163M8,169L13,166M114,178L123,185M114,178L107,192M74,91L85,93M81,77L88,84M85,93L88,84M96,70L95,83M88,84L95,83M91,113L77,108M91,113L95,108M95,108L92,99M77,108L86,94M86,94L92,99M73,109L71,121M73,109L77,108M92,120L85,127M92,120L91,113M71,121L85,127M73,109L70,106M85,93L86,94M123,98L111,105M123,98L118,86M111,105L105,88M118,86L108,84M108,84L105,87M105,87L105,88M126,82L118,86M132,90L128,98M128,98L123,98M111,105L111,105M111,105L95,108M92,99L105,88M122,71L117,70M111,71L117,70M111,71L108,84M111,71L107,68M95,83L105,87M145,90L141,104M145,90L144,89M128,98L136,109M141,104L136,109M144,132L144,133M144,132L148,121M148,121L153,119M153,119L164,132M162,139L164,132M162,139L144,133M144,133L144,133M130,128L122,144M130,128L144,132M122,144L134,144M134,144L144,133M130,128L127,123M127,123L133,112M133,112L136,110M136,110L148,121M163,147L148,150M163,147L164,146M164,146L162,139M148,150L144,133M181,141L184,133M170,149L164,146M164,132L169,128M169,128L184,133M184,133L185,132M78,36L75,36M64,49L64,49M75,36L64,49M70,17L68,18M68,18L65,28M75,36L65,28M27,5L41,2M38,-10L41,2M142,71L153,71M135,59L135,63M135,59L139,56M153,71L158,57M158,57L139,56M147,8L148,12M164,14L159,22M159,22L155,21M148,12L155,21M133,10L137,23M148,12L137,23M159,22L165,31M180,16L174,28M174,28L165,31M173,50L164,55M173,50L176,46M164,55L161,54M156,41L161,54M156,41L164,33M164,33L176,46M79,175L81,173M70,160L62,163M70,160L77,160M81,173L77,160M55,149L58,146M70,160L65,147M65,147L58,146M44,111L39,109M44,111L44,115M44,115L38,127M39,109L25,119M25,119L38,127M51,107L44,111M37,108L39,109M22,119L25,119M38,132L38,127M16,186L20,181M20,181L33,190M24,175L20,181M170,160L154,163M169,173L154,172M154,172L154,163M163,147L153,162M154,163L153,162M148,150L143,156M153,162L143,156M134,144L142,156M142,156L143,156M152,186L134,175M134,175L129,184M154,172L153,173M153,173L152,186M177,75L165,83M177,75L178,68M178,68L171,66M171,66L159,76M165,83L160,80M159,76L160,80M181,66L178,68M192,81L181,82M181,82L177,75M184,62L173,50M164,55L171,66M153,71L159,76M158,57L161,54M145,90L148,90M148,90L160,80M92,120L102,126M102,136L106,132M102,136L91,135M85,127L85,129M91,135L85,129M102,126L106,132M141,104L153,104M136,110L136,109M153,119L154,118M154,118L153,104M148,90L157,99M157,99L153,104M49,29L44,39M49,29L59,31M59,31L61,47M44,39L50,46M50,46L61,47M37,19L49,29M36,41L44,39M49,29L49,29M65,28L59,31M64,49L61,47M49,49L50,46M39,14L42,3M39,14L56,13M42,3L56,3M56,13L58,11M58,11L57,4M57,4L56,3M37,15L39,14M41,2L42,3M49,29L56,13M56,-11L56,3M68,18L58,11M69,1L57,4M136,25L144,29M136,25L127,29M131,38L127,29M131,38L144,43M144,29L148,40M127,29L127,29M144,43L148,40M155,21L144,29M137,23L136,25M123,17L127,29M156,41L148,40M165,31L164,33M110,26L118,32M118,32L127,29M139,56L144,43M188,48L180,45M180,45L182,34M182,34L188,33M176,46L180,45M174,28L182,34M112,40L116,35M112,40L118,52M116,35L127,50M119,53L118,52M119,53L127,52M127,52L127,50M100,43L112,40M118,32L116,35M105,57L118,52M131,38L127,50M117,70L119,53M135,59L127,52M69,122L68,132M69,122L59,121M68,132L57,137M59,121L53,125M53,125L52,132M52,132L57,137M71,121L69,122M85,129L77,140M77,140L68,132M55,108L59,121M65,147L78,143M58,146L57,137M77,140L78,143M44,115L53,125M43,134L52,132M134,173L137,170M134,173L120,166M137,170L140,159M140,159L125,156M125,156L120,166M153,173L137,170M134,175L134,173M114,178L112,174M112,174L118,166M118,166L120,166M142,156L140,159M122,144L121,144M121,144L125,156M123,123L118,109M123,123L118,125M118,125L111,111M111,111L111,106M111,106L118,109M127,123L123,123M133,112L118,109M121,144L120,143M120,143L110,133M110,133L118,125M102,126L111,111M110,133L106,132M111,105L111,106M165,83L167,88M157,99L160,99M160,99L167,88M181,82L177,92M167,88L177,92M190,95L177,92M177,92L177,92M169,122L179,118M169,122L163,116M163,116L169,107M169,107L175,106M175,106L180,110M180,110L179,118M169,128L169,122M185,131L179,118M154,118L163,116M160,99L169,107M177,92L175,106M189,109L180,110M102,136L97,148M91,135L86,145M97,148L86,145M78,143L80,146M86,145L80,146M77,160L79,156M79,156L80,146M120,143L113,150M97,148L99,152M99,152L113,150M118,166L113,159M113,150L113,159M92,159L99,157M92,159L87,173M103,173L100,160M103,173L97,177M100,160L99,157M97,177L87,173M79,156L92,159M99,152L99,157M81,173L87,173M112,174L103,173M113,159L100,160M97,177L97,177" fill="none" stroke="#50506a" stroke-opacity="0.3" stroke-width="1.2"/>
</svg>
<rect x="1036.0" y="172.0" width="188.0" height="181.0" fill="#dadada" />
<svg x="1038" y="174" width="184" height="177" overflow="hidden"><rect width="184" height="177" fill="#716e5c" filter="url(#pa03)"/>
<path d="M44,181L31,182M44,181L46,184M167,174L168,183M167,174L175,169M175,169L185,179M186,181L185,179M186,181L174,189M78,66L82,60M78,66L64,62M71,54L80,54M71,54L66,59M82,60L80,54M64,62L66,59M166,63L178,73M166,63L160,69M161,72L177,77M161,72L160,69M177,77L178,73M190,66L187,65M187,65L178,73M178,82L190,84M178,82L177,77M190,112L179,108M190,97L179,98M179,98L179,108M172,88L174,94M172,88L161,86M161,86L158,87M170,100L174,94M170,100L157,97M158,87L156,92M157,97L156,92M178,82L172,88M179,98L174,94M161,72L161,86M179,108L173,111M166,109L173,111M166,109L170,100M160,110L157,110M160,110L166,109M157,110L157,97M88,191L96,179M96,179L106,183M40,3L49,13M40,3L38,23M49,13L46,25M38,23L40,25M40,25L42,25M46,25L42,25M57,9L64,14M57,9L49,13M46,25L55,27M55,27L59,24M64,14L59,24M57,9L57,6M60,0L57,6M60,0L71,4M64,14L69,13M69,13L71,11M71,11L71,4M60,-10L60,0M71,4L74,-5M78,66L83,76M82,60L90,62M83,76L84,76M90,62L84,76M86,47L96,53M86,47L83,39M83,39L101,38M101,38L104,46M104,46L96,53M86,47L80,54M90,62L96,59M96,53L96,59M101,71L91,77M101,71L101,65M84,76L91,77M101,65L96,59M111,31L102,36M111,31L111,25M111,25L102,21M102,36L97,27M97,27L102,21M121,36L125,25M121,36L119,37M125,25L119,20M119,37L111,31M119,20L111,25M149,37L152,47M149,37L139,33M152,47L135,47M139,33L134,40M135,47L134,40M155,31L168,36M155,31L149,37M153,48L160,49M153,48L152,47M160,49L169,38M169,38L168,36M149,57L137,61M149,57L153,48M133,51L136,60M133,51L135,47M137,61L136,60M62,66L55,73M62,66L62,63M62,63L53,58M44,64L53,58M44,64L44,70M55,73L44,70M185,-4L171,3M185,-4L184,-6M174,-12L170,1M170,1L171,3M195,3L186,-1M186,-1L185,-4M179,27L187,18M179,27L184,37M184,37L191,32M187,18L187,18M187,18L192,30M194,49L188,50M188,50L183,39M183,39L184,37M186,-1L180,13M198,12L187,18M180,13L187,18M170,10L162,14M170,10L178,13M178,13L172,28M161,16L170,30M161,16L162,14M170,30L172,28M180,13L178,13M171,3L170,10M179,27L172,28M154,25L155,31M154,25L161,16M168,36L170,30M169,38L176,40M176,40L183,39M55,-10L47,-1M47,-1L39,1M38,-17L36,-1M36,-1L39,1M57,6L47,-1M40,3L39,1M89,-1L99,2M89,-1L85,4M85,4L85,10M98,10L99,2M98,10L88,12M88,12L85,10M89,-7L89,-1M75,-6L85,4M71,11L85,10M86,25L97,27M86,25L88,12M102,13L102,21M102,13L98,10M99,2L103,-5M57,168L60,158M57,168L46,169M60,158L53,154M46,169L44,167M44,167L43,156M43,156L53,154M73,157L67,154M73,157L86,147M67,154L67,152M86,147L72,139M72,139L67,152M31,182L26,176M15,185L26,176M46,169L44,181M44,167L30,169M30,169L26,175M26,176L26,175M33,92L41,85M33,92L37,104M37,104L45,93M41,85L44,86M45,93L44,86M30,92L33,92M30,92L20,98M38,105L37,104M38,105L24,110M24,110L20,98M38,105L47,110M47,110L50,106M50,106L50,105M50,105L45,93M52,84L55,73M52,84L44,86M44,70L38,79M38,79L41,85M60,89L50,105M60,89L52,84M1,114L-5,106M1,114L9,108M-5,106L2,98M9,108L10,100M10,100L2,98M57,168L60,171M60,171L57,187M144,161L147,161M144,161L138,168M138,168L140,175M158,168L154,174M158,168L157,165M157,165L147,161M140,175L154,174M167,174L158,168M154,174L153,183M186,181L193,184M185,179L189,166M-16,81L-5,73M-7,62L-5,73M-3,56L-4,52M-3,56L-7,62M-4,52L-7,50M44,64L32,60M28,72L28,71M28,72L38,79M28,71L31,60M31,60L32,60M62,63L64,62M66,59L59,42M53,58L52,56M52,56L59,42M42,25L47,42M55,27L58,39M47,42L58,39M71,54L70,41M70,41L59,41M59,42L59,41M30,92L23,82M28,72L24,75M23,82L24,75M20,98L17,97M17,97L14,88M23,82L14,88M16,64L10,66M16,64L22,53M16,51L8,62M16,51L21,51M8,62L10,66M21,51L22,53M28,71L16,64M31,60L22,53M5,44L-4,52M5,44L16,51M-3,56L8,62M183,58L167,59M183,58L183,57M183,57L176,48M176,48L166,57M166,57L167,59M187,65L183,58M166,63L167,59M188,50L183,57M176,40L176,48M160,49L166,57M154,68L149,57M154,68L160,69M191,114L189,121M189,121L199,130M173,111L175,125M189,121L184,124M184,124L178,126M175,125L178,126M129,136L134,129M129,136L122,136M122,136L121,128M121,128L134,122M134,129L134,123M134,123L134,122M151,129L142,137M151,129L145,117M145,117L134,123M142,137L134,129M145,117L147,113M147,113L140,103M125,113L140,103M125,113L134,122M123,151L123,155M123,151L133,144M140,155L140,144M140,155L124,156M124,156L123,155M140,144L133,144M116,141L118,141M116,141L102,146M118,141L123,151M117,157L102,146M117,157L123,155M102,146L102,146M118,141L122,136M129,136L133,144M144,161L140,155M141,144L140,144M141,144L153,146M147,161L153,146M129,166L138,168M129,166L124,156M142,137L141,144M113,163L100,161M113,163L117,157M95,149L102,146M95,149L95,154M95,154L100,161M109,182L111,169M109,182L122,180M122,175L122,180M122,175L113,165M113,165L111,169M96,179L96,178M106,183L109,182M96,178L98,174M98,174L111,169M124,183L122,180M129,166L122,175M137,183L140,175M113,163L113,165M98,174L100,161M-8,13L-5,11M-8,13L-4,24M3,23L-4,24M3,23L7,13M-5,11L7,13M74,37L69,29M74,37L81,36M69,29L75,20M81,36L85,26M85,26L75,20M70,41L74,37M59,24L69,29M58,39L59,41M83,39L81,36M69,13L75,20M86,25L85,26M101,38L102,36M123,52L120,66M123,52L116,46M116,46L111,48M111,48L111,62M111,62L119,66M119,66L120,66M133,51L123,52M136,60L120,66M121,36L134,40M119,37L116,46M104,46L111,48M101,65L111,62M101,71L107,78M107,78L121,76M121,76L119,66M154,68L144,74M158,87L151,83M144,74L151,83M72,87L64,89M72,87L81,82M64,89L67,74M67,74L82,78M82,78L81,82M62,66L67,74M60,89L63,89M63,89L64,89M83,76L82,78M118,-7L124,-0M104,-5L114,7M124,-0L114,7M119,20L119,19M102,13L113,11M119,19L113,11M114,7L113,11M-8,124L2,121M-5,132L6,135M2,121L7,124M7,124L6,135M1,114L2,121M9,108L20,118M7,124L19,121M19,121L20,118M24,110L24,113M17,97L10,100M20,118L24,113M69,137L71,138M69,137L66,127M71,138L80,130M66,127L75,118M75,118L81,124M81,124L80,130M86,147L91,146M71,138L72,139M80,130L91,146M75,160L88,161M75,160L73,157M95,149L91,146M88,161L95,154M91,146L91,146M91,77L95,85M86,94L87,95M86,94L81,82M87,95L95,85M105,86L107,78M105,86L103,87M103,87L95,85M79,97L67,98M79,97L81,98M81,98L80,108M80,108L74,115M70,113L74,115M70,113L66,104M66,104L67,98M63,89L67,98M72,87L79,97M86,94L81,98M75,118L74,115M81,124L90,123M93,109L90,123M93,109L80,108M52,120L53,126M52,120L70,113M53,126L66,127M47,114L47,110M47,114L52,120M50,106L66,104M5,182L9,170M26,175L23,173M9,170L23,173M0,182L-4,169M-4,169L-8,165M9,170L9,167M-4,169L9,167M23,173L14,158M14,158L9,162M9,167L9,162M-7,161L1,158M1,158L1,145M-8,144L1,145M9,162L1,158M30,169L26,157M14,158L15,157M15,157L26,157M41,153L41,144M41,153L27,155M41,144L36,139M36,139L27,147M27,147L27,155M41,153L43,156M27,155L26,157M-5,106L-6,106M-10,89L-1,90M2,98L-1,90M75,181L73,180M75,181L89,174M73,180L70,173M70,173L75,167M75,167L87,171M89,174L87,171M88,191L75,181M70,185L73,180M96,178L89,174M60,171L70,173M60,158L67,154M75,160L75,167M88,161L87,171M-2,36L-5,25M-2,36L-13,39M-5,25L-16,29M5,44L5,42M5,42L-2,36M-4,24L-5,25M9,37L7,26M9,37L22,35M7,26L17,24M17,24L20,28M22,35L20,28M3,23L7,26M5,42L9,37M27,38L21,51M27,38L22,35M33,21L20,28M33,21L38,23M40,25L32,37M27,38L32,37M-5,11L-3,-0M-10,-2L-3,-0M36,42L32,59M36,42L44,45M32,59L45,50M44,45L45,50M32,60L32,59M32,37L36,42M47,42L44,45M52,56L45,50M2,86L11,85M2,86L-1,75M11,85L13,75M-1,75L9,71M9,71L13,75M-1,90L2,86M14,88L11,85M-5,73L-1,75M24,75L13,75M10,66L9,71M184,124L188,138M200,140L188,138M160,110L165,124M151,129L154,130M157,110L147,113M165,124L154,130M175,125L170,125M165,124L170,125M-3,-0L-0,-2M0,-6L-0,-2M137,61L138,63M144,74L143,73M138,63L143,73M170,1L161,-4M163,-13L161,-4M161,-4L154,2M148,-10L148,-4M148,-4L154,2M162,14L154,7M154,7L154,2M124,-0L129,1M119,19L129,10M129,1L129,10M134,-14L130,-0M129,1L130,-0M148,-4L135,1M130,-0L135,1M59,137L60,146M59,137L54,134M54,134L49,141M60,146L53,147M53,147L49,141M69,137L59,137M67,152L60,146M53,126L53,128M53,128L54,134M53,154L53,147M41,144L49,141M28,131L36,118M28,131L34,133M36,132L34,133M36,132L40,118M40,118L36,118M24,130L19,121M24,130L28,131M24,113L36,118M53,128L36,132M36,139L34,133M47,114L40,118M87,95L96,99M103,87L102,93M102,93L96,99M114,90L105,86M114,90L113,99M102,93L113,99M93,109L97,106M96,99L97,106M91,146L94,128M90,123L92,124M94,128L92,124M102,146L105,131M94,128L105,131M116,141L109,129M105,131L109,129M121,128L113,123M109,129L113,123M12,147L21,141M12,147L6,143M6,139L23,132M6,139L6,143M23,132L21,141M15,157L12,147M27,147L21,141M1,145L6,143M6,135L6,139M24,130L23,132M191,153L180,144M191,153L186,161M186,161L178,162M178,144L177,160M178,144L180,144M178,162L177,160M188,138L180,144M189,166L186,161M175,169L178,162M157,165L164,155M164,155L177,160M160,144L162,146M160,144L160,142M160,142L166,135M162,146L178,143M166,135L177,136M178,143L177,136M153,146L160,144M164,155L162,146M154,130L160,142M170,125L166,135M178,144L178,143M178,126L177,136M7,13L10,11M-0,-2L10,3M10,11L10,3M17,24L19,15M10,11L19,15M33,21L25,13M25,13L19,15M138,63L123,77M143,73L139,76M139,76L123,77M114,90L123,84M121,76L122,77M123,84L122,77M122,77L123,77M146,11L143,10M146,11L143,22M143,10L133,14M143,22L137,26M133,14L134,24M134,24L137,26M154,7L146,11M135,1L143,10M154,25L143,22M129,10L133,14M139,33L137,26M125,25L134,24M101,107L112,103M101,107L105,117M112,121L105,117M112,121L120,111M112,103L120,111M120,111L120,111M97,106L101,107M113,99L113,99M113,99L112,103M92,124L105,117M113,123L112,121M125,113L120,111M13,1L28,4M13,1L16,-12M19,-13L33,-0M33,-0L28,4M10,3L13,1M25,13L28,4M36,-1L33,-0M142,88L139,82M142,88L140,98M139,82L129,92M140,98L139,99M139,99L130,95M130,95L130,94M130,94L129,92M151,83L142,88M139,76L139,82M156,92L140,98M123,84L129,92M140,103L139,99M120,111L130,95M113,99L130,94" fill="none" stroke="#383878" stroke-opacity="0.35" stroke-width="1.3"/>
</svg>
<rect x="1235.0" y="172.0" width="181.0" height="181.0" fill="#dadada" />
<svg x="1237" y="174" width="177" height="177" overflow="hidden"><rect width="177" height="177" fill="#6e6c5c" filter="url(#pa04)"/>
<path d="M85,21L82,23M85,21L100,26M100,26L94,36M88,38L84,33M88,38L94,36M82,23L84,33M106,44L94,36M106,44L97,51M88,38L86,47M86,47L97,51M114,54L106,44M114,54L99,62M106,44L106,44M97,51L99,62M164,5L172,-2M164,5L157,-7M172,-2L171,-9M163,10L161,10M163,10L163,9M163,9L164,5M161,10L144,-2M144,-2L157,-7M184,85L179,77M186,71L179,77M165,37L165,28M165,37L156,41M156,41L152,32M160,27L152,30M160,27L165,28M152,32L152,30M163,10L160,27M161,10L146,17M146,17L147,23M147,23L152,30M163,9L174,15M174,15L178,24M178,24L165,28M188,95L176,98M184,85L170,85M170,85L176,98M144,-2L144,-2M144,-2L143,-5M96,98L91,92M96,98L109,82M109,82L93,89M91,92L93,89M147,23L135,30M143,38L152,32M143,38L134,31M134,31L135,30M95,9L100,14M95,9L89,11M89,11L86,16M86,16L85,21M100,26L103,24M103,24L100,14M66,26L63,17M66,26L70,27M70,27L78,23M78,23L69,12M69,12L63,17M58,32L51,29M58,32L66,26M51,29L49,26M54,16L49,26M54,16L63,17M72,36L84,33M72,36L70,27M82,23L78,23M86,16L71,9M71,9L69,12M89,11L81,2M71,9L71,8M81,2L71,8M37,41L37,48M37,41L39,40M39,40L47,41M37,48L45,53M47,41L51,48M45,53L51,48M51,29L47,41M49,26L40,26M40,26L39,40M50,5L48,3M50,5L52,11M52,11L35,18M48,3L37,5M37,5L35,18M47,-10L48,3M64,-0L66,-8M64,-0L50,5M54,16L52,11M71,8L64,-0M35,24L35,18M35,24L40,26M35,18L35,18M33,-7L32,1M32,1L37,5M35,18L21,10M32,1L26,3M21,10L26,3M57,49L56,61M57,49L51,48M56,61L49,63M45,53L44,59M44,59L49,63M37,48L28,55M34,65L44,59M34,65L33,65M33,65L28,55M-17,101L1,96M1,96L-15,86M-11,113L-3,111M-3,111L2,96M2,96L1,96M4,90L2,96M4,90L-3,81M2,96L2,96M-15,85L-3,81M174,15L183,5M178,25L178,24M178,25L180,25M180,25L191,12M180,151L185,148M180,151L180,157M180,157L183,159M181,53L173,42M181,53L189,49M189,44L177,38M177,38L174,41M174,41L173,42M165,51L173,42M165,51L173,62M173,62L176,61M176,61L181,53M186,66L176,61M178,25L177,38M195,28L180,25M165,37L174,41M156,50L156,41M156,50L165,51M129,107L115,100M129,107L134,104M134,101L134,104M134,101L116,95M116,95L114,99M114,99L115,100M126,116L116,114M126,116L129,120M129,120L124,129M124,129L112,120M112,120L116,114M126,116L129,107M115,100L114,107M116,114L114,107M94,107L96,100M94,107L99,113M96,100L114,99M114,107L99,113M150,179L145,184M150,179L162,182M162,182L160,192M172,145L180,135M172,145L180,151M180,135L185,138M178,112L184,111M178,112L175,101M175,101L176,98M179,77L167,76M170,85L168,84M168,84L167,76M171,66L166,75M171,66L173,62M167,76L166,75M114,54L122,43M114,54L116,57M116,57L135,50M122,43L132,47M135,50L132,47M137,55L138,51M137,55L149,65M156,50L138,51M156,50L155,60M138,51L138,51M149,65L154,62M155,60L154,62M119,64L134,63M119,64L116,57M134,63L137,55M135,50L138,51M134,63L136,72M137,74L136,72M137,74L147,71M147,71L149,65M156,50L156,50M143,38L138,51M171,66L155,60M132,32L134,31M132,32L132,47M147,71L155,77M155,77L163,75M163,75L154,62M166,75L163,75M109,82L106,75M109,82L118,88M118,88L121,87M121,87L122,73M107,73L106,75M107,73L118,66M118,66L122,73M96,78L93,89M96,78L106,75M109,82L109,82M96,100L96,98M116,95L118,88M135,100L134,101M135,100L132,86M132,86L121,87M136,83L132,86M136,83L137,74M136,72L122,73M114,54L114,54M99,62L99,62M99,62L107,73M119,64L118,66M106,44L113,34M103,24L109,26M113,34L109,26M122,43L118,35M113,34L118,35M132,32L125,31M118,35L125,31M81,2L81,-0M71,-12L81,-0M18,-5L26,3M83,49L81,54M83,49L70,40M81,54L66,52M70,40L63,42M66,52L61,47M63,42L61,47M72,36L70,40M86,47L83,49M58,32L63,42M57,49L61,47M60,65L56,61M60,65L66,65M66,65L66,52M89,65L81,55M89,65L86,72M81,55L71,67M84,74L86,72M84,74L74,74M74,74L71,67M99,62L89,65M81,54L81,55M96,78L86,72M66,65L71,67M85,88L90,92M85,88L84,74M90,92L91,92M57,70L70,79M57,70L60,65M70,79L74,74M-15,121L-2,131M-2,131L-7,139M-3,111L4,117M-2,131L-0,131M-0,131L4,117M138,184L136,173M151,169L145,164M151,169L150,179M136,173L145,164M112,120L111,121M99,113L100,115M100,115L111,121M42,83L42,72M42,83L55,81M42,72L49,71M49,71L54,73M55,81L54,73M34,65L42,72M49,63L49,71M57,70L54,73M4,90L10,85M2,96L9,100M9,100L23,101M23,101L24,85M10,85L24,85M-14,58L-1,65M-1,65L-12,73M-3,81L-3,79M-3,79L-12,73M10,85L9,78M25,74L16,69M25,74L25,84M24,85L25,84M9,78L16,69M-3,79L2,71M9,78L2,71M-1,65L2,65M2,71L2,65M20,40L27,55M20,40L13,45M27,55L14,61M13,45L14,61M16,69L12,63M2,65L4,63M4,63L12,63M33,65L25,74M28,55L27,55M14,61L12,63M172,-2L183,-0M151,169L157,169M162,182L165,179M157,169L165,179M105,134L100,132M105,134L111,121M100,115L96,125M96,125L100,132M77,143L75,132M77,143L83,150M89,136L82,128M89,136L85,148M85,148L83,150M75,132L82,128M148,87L144,99M148,87L148,87M148,87L159,94M149,104L144,99M149,104L159,97M159,97L159,94M135,100L144,99M136,83L148,87M155,77L148,87M168,84L159,94M164,102L175,101M164,102L159,97M117,-6L111,-1M111,-16L104,-3M111,-1L104,-3M98,-1L102,-4M98,-1L89,-6M102,-4L100,-19M95,9L98,-1M100,14L112,7M112,7L111,-1M104,-3L102,-4M81,-0L89,-6M140,3L144,-2M140,3L131,-2M131,-2L132,-14M120,-6L125,-1M125,-1L131,-2M118,13L119,16M118,13L125,8M119,16L124,20M124,20L131,20M125,8L139,10M131,20L140,11M140,11L139,10M112,7L118,13M109,26L119,16M125,-1L125,8M125,31L124,20M135,30L131,20M140,3L139,10M146,17L140,11M-17,4L-3,3M-10,-8L-3,3M19,20L8,21M19,20L26,28M26,28L22,37M8,31L8,21M8,31L20,39M20,39L22,37M35,24L26,28M21,10L21,10M21,10L19,20M37,41L22,37M20,40L20,39M8,151L-5,149M8,151L11,135M-0,131L11,135M59,186L57,170M59,186L73,181M73,181L74,179M62,167L57,170M62,167L73,177M73,177L74,179M85,148L98,149M98,149L102,160M83,151L83,150M83,151L88,166M88,166L101,162M102,160L101,162M98,149L104,144M114,155L102,160M114,155L113,152M113,152L104,144M105,134L106,136M89,136L100,132M104,144L106,136M136,173L128,170M128,170L134,158M144,160L145,164M144,160L138,157M138,157L134,158M124,133L135,136M124,133L120,137M120,137L121,140M121,140L126,148M126,148L135,145M135,136L137,142M137,142L135,145M129,120L142,120M142,120L140,130M124,129L124,133M140,130L135,136M106,136L120,137M113,152L121,140M114,155L119,159M119,159L125,154M125,154L126,148M125,154L134,158M138,157L135,145M148,134L140,130M148,134L142,144M142,144L137,142M152,150L144,160M152,150L142,144M41,177L40,183M41,177L31,168M27,182L36,186M27,182L26,171M26,171L31,168M23,101L24,103M24,103L32,99M25,84L37,87M32,99L37,87M42,83L39,87M39,87L37,87M9,46L2,50M9,46L0,34M2,50L-7,45M-8,38L-2,34M0,34L-2,34M13,45L9,46M4,63L2,50M8,31L0,34M-7,17L-2,19M-2,19L-2,34M8,21L7,20M7,20L-2,19M163,133L163,124M163,133L179,133M163,124L179,125M179,133L180,128M179,125L180,128M180,135L179,133M189,124L180,128M178,112L177,114M177,114L179,125M162,123L152,126M162,123L162,115M161,114L162,115M161,114L148,112M152,126L142,120M148,112L144,116M142,120L144,116M159,141L163,133M159,141L152,135M152,135L152,126M163,124L162,123M177,114L162,115M164,102L161,114M149,104L148,112M142,120L142,120M152,135L148,134M134,104L144,116M161,165L170,162M161,165L153,150M164,147L159,145M164,147L170,162M170,162L170,162M159,145L153,150M152,150L153,150M157,169L161,165M172,145L164,147M159,141L159,145M180,157L170,162M168,178L172,166M168,178L175,182M175,182L180,179M180,179L179,169M179,169L172,166M165,179L168,178M170,162L172,166M190,178L180,179M186,166L179,169M52,135L62,136M52,135L48,123M48,123L64,124M62,136L67,131M64,124L66,129M67,131L66,129M77,143L64,143M64,143L62,136M75,132L67,131M24,103L26,108M26,108L26,108M26,108L40,106M32,99L41,99M40,106L41,99M39,87L44,95M44,95L41,99M87,123L82,125M87,123L92,108M82,125L77,118M92,108L84,109M84,109L77,117M77,118L77,117M96,125L87,123M82,128L82,125M94,107L92,108M66,129L77,118M90,92L76,101M76,101L84,109M64,124L66,113M66,113L77,117M13,8L8,15M13,8L10,4M8,15L-3,4M10,4L1,1M1,1L-3,3M-3,3L-3,4M21,10L13,8M7,20L8,15M18,-5L10,4M-7,17L-3,4M6,-13L1,1M-3,3L-3,3M9,100L10,111M26,108L20,113M20,113L10,111M4,117L4,116M10,111L4,116M64,143L63,145M83,151L72,156M63,145L72,156M62,167L64,163M77,168L73,177M77,168L70,159M64,163L70,159M88,166L88,166M88,166L77,168M72,156L70,159M47,148L55,151M47,148L43,159M43,159L49,168M49,168L55,151M55,151L55,151M46,143L45,146M46,143L52,135M45,146L47,148M63,145L55,151M45,146L32,148M32,148L29,158M32,161L29,158M32,161L43,159M41,177L50,169M50,169L49,168M31,168L32,161M50,169L57,170M64,163L55,151M97,174L98,180M97,174L88,168M88,168L84,180M84,180L90,187M90,187L98,180M88,166L88,168M106,168L101,162M106,168L97,174M74,179L84,180M74,193L73,181M111,171L119,169M111,171L107,180M121,170L119,169M121,170L122,184M107,180L109,183M119,159L119,169M106,168L111,171M98,180L107,180M128,170L121,170M40,106L48,115M48,115L52,111M44,95L52,97M52,111L52,97M45,121L48,115M45,121L48,123M66,113L66,112M52,111L66,112M20,113L19,118M4,116L14,121M14,121L19,118M11,135L11,135M14,121L11,135M71,99L69,101M71,99L72,88M69,101L54,95M69,83L58,84M69,83L72,88M58,84L54,95M76,101L71,99M66,112L69,101M85,88L72,88M52,97L54,95M70,79L69,83M55,81L58,84M-7,155L-4,162M-4,162L-12,170M24,124L22,133M24,124L35,120M22,133L29,136M29,136L35,133M35,133L40,122M40,122L35,120M19,118L24,124M11,135L14,135M14,135L22,133M26,108L35,120M22,146L29,145M22,146L14,135M29,145L29,136M46,143L35,133M32,148L29,145M45,121L40,122M8,151L9,151M-4,162L2,164M2,164L9,151M22,146L16,155M9,151L16,155M29,158L17,156M16,155L17,156M-21,182L-4,180M-12,170L-4,179M-4,180L-4,179M2,164L5,170M-4,179L5,170M27,182L15,182M26,171L15,172M15,182L15,172M17,156L14,171M5,170L14,171M15,172L14,171M-4,180L-4,181M-13,192L-4,181M-4,181L1,186" fill="none" stroke="#383878" stroke-opacity="0.3" stroke-width="1.3"/>
</svg>
<rect x="1428.0" y="172.0" width="184.0" height="181.0" fill="#dadada" />
<svg x="1430" y="174" width="180" height="177" overflow="hidden"><rect width="180" height="177" fill="#75725e" filter="url(#pa05)"/>
<path d="M169,192L183,181M183,181L192,178M6,-8L0,-0M-12,-7L0,-0M196,152L181,158M192,178L181,159M181,159L181,158M202,110L183,105M183,105L174,114M174,114L175,118M175,118L197,128M196,151L184,137M184,137L197,128M153,115L167,111M153,115L149,93M167,111L164,101M164,101L149,93M149,93L149,93M131,105L131,104M131,105L138,113M138,113L152,116M152,116L153,115M143,90L131,104M143,90L149,93M131,105L117,111M138,113L135,129M120,128L117,111M120,128L130,131M135,129L130,131M183,105L182,93M182,93L205,95M120,90L128,80M120,90L112,93M107,88L112,93M107,88L113,73M113,73L128,80M143,90L140,83M131,104L120,90M140,83L137,80M137,80L128,80M117,111L116,110M116,110L112,93M175,118L172,126M184,137L174,139M172,126L174,139M174,114L167,111M152,116L152,128M172,126L152,128M181,158L174,139M174,139L174,139M183,181L169,168M181,159L172,163M169,168L172,163M164,190L161,178M146,193L139,180M139,180L161,178M121,189L126,179M126,179L133,175M139,180L133,175M169,168L162,177M161,178L162,177M126,179L111,168M100,185L100,177M111,168L100,177M48,118L38,138M48,118L60,133M38,138L58,138M60,133L58,138M71,76L67,90M71,76L86,78M67,90L90,96M86,78L92,91M92,91L90,96M89,74L86,78M89,74L88,64M71,76L74,61M71,76L71,76M88,64L74,61M62,98L67,90M62,98L82,104M90,102L82,104M90,102L90,96M89,74L111,68M111,68L113,73M107,88L92,91M102,111L116,110M102,111L95,110M90,102L95,110M0,-0L0,2M-19,12L0,2M71,76L59,72M59,72L54,60M74,61L73,52M73,52L54,60M7,177L14,187M7,177L-4,174M-4,174L-8,177M32,99L35,111M32,99L49,92M35,111L48,118M48,118L59,110M49,92L60,99M59,110L60,99M48,82L49,92M48,82L34,73M23,93L32,99M23,93L24,89M34,73L24,89M48,118L48,118M60,133L75,127M71,119L75,127M71,119L59,110M48,82L59,72M62,98L60,99M82,104L71,119M23,93L21,94M24,89L12,76M12,76L3,92M21,94L3,92M-9,126L-1,106M-1,106L-7,93M10,122L22,127M10,122L10,110M10,110L14,107M14,107L26,118M22,127L26,118M23,129L22,127M23,129L10,144M-4,128L6,144M-4,128L10,122M10,144L6,144M-4,128L-9,126M-1,106L10,110M21,94L14,107M3,92L-7,93M35,111L26,118M23,129L37,139M37,139L38,138M133,175L135,169M111,162L111,168M111,162L126,158M126,158L135,169M162,177L146,161M135,169L146,161M177,31L179,31M177,31L164,21M187,14L169,1M164,21L161,13M169,1L161,13M179,31L186,24M177,31L172,46M172,46L184,56M179,31L191,39M184,56L191,39M149,134L138,148M149,134L149,134M149,134L158,144M158,144L157,152M157,152L146,161M138,148L146,161M135,129L149,134M130,131L131,146M131,146L138,148M152,128L149,134M174,139L158,144M172,163L157,152M146,161L146,161M125,151L131,146M125,151L126,158M95,110L88,126M75,127L78,129M88,126L78,129M32,172L26,172M32,172L44,167M44,167L29,153M22,164L26,154M22,164L22,169M26,154L29,153M22,169L26,172M25,191L26,172M45,192L32,172M51,167L44,167M51,167L51,167M51,167L49,193M51,167L56,159M56,159L37,143M37,143L29,153M37,139L37,143M10,144L26,154M7,177L22,169M59,190L68,177M82,189L78,176M68,177L77,175M77,175L78,176M51,167L68,177M100,177L98,174M98,174L78,176M98,174L94,164M78,165L94,164M78,165L77,175M34,73L32,61M51,58L54,60M51,58L32,60M32,60L32,61M26,15L45,6M26,15L38,28M38,28L47,28M48,8L47,28M48,8L48,8M48,8L45,6M196,6L176,-9M169,1L169,-1M169,-1L176,-9M111,68L111,64M88,64L89,60M111,64L105,53M89,60L105,53M-17,149L2,151M-19,153L-4,172M2,151L3,159M3,159L-4,172M6,144L2,151M-4,174L-4,172M22,164L3,159M0,2L8,14M-9,27L8,14M6,-8L24,-2M24,-2L20,12M20,12L15,15M15,15L8,14M140,83L155,68M137,80L133,59M155,68L154,56M154,56L137,55M137,55L133,59M111,64L126,58M133,59L126,58M186,59L175,69M195,77L180,88M175,69L170,77M180,88L177,87M177,87L171,81M171,81L170,77M184,56L186,59M172,46L159,50M159,50L159,50M159,50L175,69M182,93L180,88M155,68L170,77M154,56L159,50M164,101L177,87M149,93L171,81M79,141L84,148M79,141L61,149M84,148L77,163M77,163L59,157M59,157L61,149M58,138L61,149M78,129L79,141M56,159L59,157M78,165L77,163M92,148L101,154M92,148L96,132M96,132L106,133M104,153L101,154M104,153L112,143M106,133L112,136M112,143L112,136M94,164L101,154M84,148L92,148M88,126L96,132M102,111L106,133M111,162L104,153M125,151L112,143M120,128L112,136M34,50L31,34M34,50L32,57M32,57L16,36M31,34L17,35M17,35L16,36M50,35L50,29M50,35L34,50M38,28L31,34M47,28L50,29M50,35L54,45M54,45L51,58M32,60L32,57M20,12L26,15M15,15L17,35M-9,28L8,41M8,41L16,36M8,41L8,41M8,41L-11,52M48,8L67,16M50,29L69,26M67,16L69,26M48,-13L41,-3M41,-3L27,-6M62,-1L48,-13M62,-1L48,8M45,6L41,-3M24,-2L27,-6M169,-1L161,-7M161,13L144,11M144,11L146,-10M65,-1L65,-17M65,-1L67,0M67,0L83,-5M83,-5L84,-6M62,-1L65,-1M67,16L68,9M68,9L67,0M68,9L90,11M90,11L83,-5M159,50L156,45M137,55L134,39M134,39L156,45M164,21L153,33M153,33L156,45M25,61L11,56M25,61L12,76M11,56L-2,65M12,76L-1,71M-1,71L-2,65M32,61L25,61M8,41L11,56M12,76L12,76M-12,55L-2,65M-7,79L-1,71M69,26L73,28M91,13L83,26M91,13L90,11M73,28L83,26M54,45L72,45M73,28L72,45M73,52L74,49M89,60L82,50M82,50L74,49M72,45L74,49M102,-13L110,-4M91,13L103,12M103,12L104,10M110,-4L104,10M144,11L136,15M153,33L138,29M136,15L138,29M134,39L133,37M138,29L133,37M127,2L119,-6M127,2L145,-12M110,-4L119,-6M104,10L132,14M133,14L132,14M133,14L127,2M136,15L133,14M126,58L120,44M133,37L127,37M120,44L127,37M104,45L96,40M104,45L105,44M105,44L115,26M96,38L96,40M96,38L106,19M106,19L115,26M115,26L115,26M105,53L104,45M82,50L96,40M120,44L105,44M127,37L115,26M83,26L96,38M103,12L106,19M132,14L115,26" fill="none" stroke="#30306e" stroke-opacity="0.5" stroke-width="1.4"/>
</svg>
<rect x="441.0" y="368.0" width="195.0" height="195.0" fill="#dadada" />
<svg x="443" y="370" width="191" height="191" overflow="hidden"><rect width="191" height="191" fill="#8b8a80" filter="url(#pa10)"/>
<path d="M-16,77L-2,50M-35,42L-2,50M-16,77L-4,88M-4,88L-4,98M-4,98L-12,104M215,195L183,203M168,104L177,124M168,104L147,119M149,130L147,119M149,130L174,133M174,133L177,124M192,97L209,92M192,97L191,120M201,123L191,120M183,203L181,176M181,176L212,186M34,193L54,214M34,193L54,184M54,184L68,205M139,146L122,131M139,146L149,130M140,115L119,122M140,115L147,119M122,131L119,122M163,204L152,190M152,190L133,211M80,172L76,171M80,172L86,202M54,184L57,179M57,179L76,171M23,74L24,97M23,74L17,73M17,73L-4,88M-4,98L13,109M13,109L24,97M23,74L35,70M50,99L41,100M50,99L41,72M35,70L41,72M24,97L41,100M50,99L54,101M54,101L40,124M41,100L27,121M40,124L27,121M3,198L22,172M20,209L34,193M34,193L22,172M34,193L34,193M122,131L106,147M119,122L111,116M111,116L106,117M106,147L97,130M106,117L97,130M15,-33L18,-4M-9,-7L16,-2M18,-4L16,-2M168,104L169,95M192,97L170,94M177,124L191,120M169,95L170,94M197,65L181,69M170,94L181,69M35,70L35,63M41,72L55,66M35,63L44,43M44,43L60,50M60,50L55,66M54,101L59,102M68,97L59,102M68,97L72,76M55,66L72,76M3,198L-15,185M21,168L12,166M21,168L22,172M-15,185L12,166M44,-9L18,-4M111,192L120,195M111,192L104,162M120,195L134,179M134,179L126,161M126,161L106,160M106,160L104,162M86,202L111,192M127,212L120,195M91,164L80,172M91,164L104,162M152,190L152,184M152,184L134,179M139,147L126,161M139,147L149,153M152,184L154,182M149,153L154,182M139,146L139,147M106,147L106,160M91,164L76,134M97,130L76,134M180,175L197,162M180,175L176,173M176,173L170,154M200,147L177,142M177,142L170,154M181,176L180,175M154,182L176,173M149,153L170,154M174,133L177,142M62,152L40,154M62,152L74,133M67,128L74,133M67,128L46,133M46,133L38,154M74,133L74,133M40,154L38,154M57,179L40,154M76,171L62,152M76,134L74,133M89,103L89,103M89,103L68,97M59,102L67,128M89,103L74,133M40,124L46,133M89,103L106,117M21,168L35,154M35,154L38,154M13,109L16,121M27,121L17,122M16,121L17,122M16,121L-5,130M35,154L20,136M17,122L20,136M16,18L33,26M16,18L2,25M2,25L-1,49M25,43L34,29M25,43L3,51M3,51L-1,49M33,26L34,29M-13,15L2,25M16,-2L16,18M-2,50L-1,49M35,63L25,43M44,43L37,30M37,30L34,29M17,73L3,51M140,115L136,96M169,95L167,94M136,96L167,94M111,116L119,98M136,96L128,89M119,98L128,89M89,103L95,91M119,98L95,91M167,94L151,72M151,72L143,74M143,74L128,85M128,89L128,85M129,7L140,11M129,7L114,-15M140,11L156,-17M110,35L107,33M110,35L132,31M111,15L107,33M111,15L129,7M132,31L141,14M141,14L140,11M93,2L111,15M93,2L114,-15M150,50L156,23M150,50L159,57M164,57L159,57M164,57L175,38M175,38L173,25M156,23L172,24M173,25L172,24M137,48L150,50M137,48L132,31M141,14L156,23M132,53L143,74M132,53L137,48M151,72L159,57M181,69L164,57M197,49L175,38M196,22L173,25M190,-2L174,15M190,-2L182,-15M174,15L160,-18M197,1L190,-2M172,24L174,15M-24,166L3,156M-12,137L2,151M3,156L2,151M12,166L3,156M20,136L2,151M48,0L48,5M48,0L84,3M48,5L68,29M84,3L84,3M84,3L79,29M79,29L76,32M76,32L68,29M44,-9L48,0M33,26L48,5M78,-23L84,3M37,30L68,29M93,2L84,3M107,33L79,29M60,50L75,39M75,39L76,32M116,72L96,72M116,72L123,56M110,42L90,64M110,42L123,56M96,72L91,67M91,67L90,64M95,91L96,72M128,85L116,72M132,53L123,56M75,39L90,64M110,35L110,42M72,76L91,67" fill="none" stroke="#d0d0d8" stroke-opacity="0.2" stroke-width="1.6"/>
</svg>
<rect x="645.0" y="368.0" width="192.0" height="195.0" fill="#dadada" />
<svg x="647" y="370" width="188" height="191" overflow="hidden"><rect width="188" height="191" fill="#74737a" filter="url(#pa11)"/>
<g fill="#66634f" fill-opacity="0.5" stroke="#2a2a36" stroke-width="1.7" stroke-opacity="0.7"><ellipse cx="-15" cy="-10" rx="15.1" ry="11.1" transform="rotate(159 -15 -10)"/><ellipse cx="27" cy="-8" rx="16.3" ry="13.1" transform="rotate(86 27 -8)"/><ellipse cx="53" cy="-10" rx="17.3" ry="11.9" transform="rotate(119 53 -10)"/><ellipse cx="82" cy="-15" rx="17.9" ry="13.1" transform="rotate(106 82 -15)"/><ellipse cx="106" cy="2" rx="16.4" ry="12.2" transform="rotate(11 106 2)"/><ellipse cx="130" cy="-8" rx="15.3" ry="9.5" transform="rotate(131 130 -8)"/><ellipse cx="160" cy="-9" rx="14.5" ry="10.7" transform="rotate(60 160 -9)"/><ellipse cx="176" cy="-14" rx="14.3" ry="10.3" transform="rotate(87 176 -14)"/><ellipse cx="-8" cy="20" rx="16.1" ry="11.7" transform="rotate(168 -8 20)"/><ellipse cx="23" cy="15" rx="14.6" ry="9.7" transform="rotate(9 23 15)"/><ellipse cx="56" cy="4" rx="16.4" ry="10.7" transform="rotate(146 56 4)"/><ellipse cx="87" cy="14" rx="16.8" ry="13.9" transform="rotate(163 87 14)"/><ellipse cx="117" cy="14" rx="16.7" ry="11.6" transform="rotate(80 117 14)"/><ellipse cx="154" cy="6" rx="16.6" ry="10.6" transform="rotate(50 154 6)"/><ellipse cx="165" cy="4" rx="14.9" ry="12.5" transform="rotate(62 165 4)"/><ellipse cx="-7" cy="30" rx="15.2" ry="12.8" transform="rotate(138 -7 30)"/><ellipse cx="25" cy="44" rx="17.0" ry="11.4" transform="rotate(11 25 44)"/><ellipse cx="55" cy="48" rx="15.2" ry="11.5" transform="rotate(41 55 48)"/><ellipse cx="78" cy="35" rx="16.2" ry="11.1" transform="rotate(112 78 35)"/><ellipse cx="101" cy="43" rx="16.8" ry="14.2" transform="rotate(40 101 43)"/><ellipse cx="120" cy="34" rx="15.5" ry="10.4" transform="rotate(151 120 34)"/><ellipse cx="152" cy="49" rx="17.9" ry="14.9" transform="rotate(34 152 49)"/><ellipse cx="182" cy="34" rx="15.4" ry="10.7" transform="rotate(139 182 34)"/><ellipse cx="15" cy="69" rx="16.2" ry="13.4" transform="rotate(140 15 69)"/><ellipse cx="38" cy="57" rx="15.6" ry="12.6" transform="rotate(138 38 57)"/><ellipse cx="50" cy="59" rx="17.3" ry="12.4" transform="rotate(28 50 59)"/><ellipse cx="90" cy="57" rx="17.0" ry="12.1" transform="rotate(159 90 57)"/><ellipse cx="117" cy="58" rx="16.1" ry="13.1" transform="rotate(165 117 58)"/><ellipse cx="147" cy="68" rx="15.7" ry="13.3" transform="rotate(120 147 68)"/><ellipse cx="183" cy="57" rx="15.2" ry="11.5" transform="rotate(44 183 57)"/><ellipse cx="-13" cy="81" rx="16.0" ry="10.2" transform="rotate(175 -13 81)"/><ellipse cx="26" cy="99" rx="15.8" ry="12.7" transform="rotate(53 26 99)"/><ellipse cx="56" cy="80" rx="17.8" ry="11.9" transform="rotate(97 56 80)"/><ellipse cx="71" cy="83" rx="15.8" ry="12.7" transform="rotate(12 71 83)"/><ellipse cx="108" cy="89" rx="14.6" ry="9.8" transform="rotate(13 108 89)"/><ellipse cx="139" cy="94" rx="16.4" ry="12.1" transform="rotate(165 139 94)"/><ellipse cx="156" cy="95" rx="17.5" ry="12.1" transform="rotate(17 156 95)"/><ellipse cx="192" cy="95" rx="17.8" ry="11.1" transform="rotate(137 192 95)"/><ellipse cx="2" cy="104" rx="17.8" ry="13.1" transform="rotate(68 2 104)"/><ellipse cx="38" cy="110" rx="16.1" ry="11.3" transform="rotate(37 38 110)"/><ellipse cx="69" cy="113" rx="15.0" ry="12.0" transform="rotate(167 69 113)"/><ellipse cx="96" cy="122" rx="15.6" ry="10.0" transform="rotate(26 96 122)"/><ellipse cx="115" cy="123" rx="16.1" ry="12.3" transform="rotate(38 115 123)"/><ellipse cx="148" cy="107" rx="17.3" ry="12.3" transform="rotate(21 148 107)"/><ellipse cx="174" cy="106" rx="16.4" ry="13.7" transform="rotate(168 174 106)"/><ellipse cx="-10" cy="126" rx="15.1" ry="11.0" transform="rotate(132 -10 126)"/><ellipse cx="29" cy="135" rx="16.2" ry="11.7" transform="rotate(75 29 135)"/><ellipse cx="53" cy="131" rx="17.7" ry="12.3" transform="rotate(93 53 131)"/><ellipse cx="85" cy="129" rx="16.1" ry="10.6" transform="rotate(32 85 129)"/><ellipse cx="103" cy="135" rx="16.3" ry="12.3" transform="rotate(163 103 135)"/><ellipse cx="137" cy="126" rx="15.3" ry="12.8" transform="rotate(150 137 126)"/><ellipse cx="150" cy="129" rx="15.8" ry="11.4" transform="rotate(41 150 129)"/><ellipse cx="176" cy="139" rx="17.8" ry="15.0" transform="rotate(109 176 139)"/><ellipse cx="4" cy="170" rx="16.6" ry="10.4" transform="rotate(70 4 170)"/><ellipse cx="41" cy="156" rx="17.0" ry="13.7" transform="rotate(117 41 156)"/><ellipse cx="50" cy="172" rx="15.8" ry="12.9" transform="rotate(115 50 172)"/><ellipse cx="77" cy="167" rx="17.4" ry="13.0" transform="rotate(16 77 167)"/><ellipse cx="127" cy="160" rx="14.3" ry="10.6" transform="rotate(129 127 160)"/><ellipse cx="141" cy="161" rx="14.1" ry="9.5" transform="rotate(116 141 161)"/><ellipse cx="169" cy="154" rx="16.0" ry="13.2" transform="rotate(71 169 154)"/><ellipse cx="-16" cy="192" rx="16.8" ry="14.1" transform="rotate(18 -16 192)"/><ellipse cx="28" cy="183" rx="15.5" ry="10.8" transform="rotate(74 28 183)"/><ellipse cx="36" cy="176" rx="17.3" ry="13.3" transform="rotate(21 36 176)"/><ellipse cx="75" cy="188" rx="15.3" ry="11.5" transform="rotate(18 75 188)"/><ellipse cx="95" cy="193" rx="15.8" ry="13.2" transform="rotate(109 95 193)"/><ellipse cx="127" cy="176" rx="16.0" ry="11.3" transform="rotate(95 127 176)"/><ellipse cx="161" cy="195" rx="17.8" ry="12.1" transform="rotate(12 161 195)"/><ellipse cx="196" cy="180" rx="16.2" ry="11.3" transform="rotate(149 196 180)"/></g>
<g fill="none" stroke="#bcae64" stroke-width="1.2" stroke-opacity="0.35"><ellipse cx="-15" cy="-10" rx="13.1" ry="9.1" transform="rotate(159 -15 -10)"/><ellipse cx="27" cy="-8" rx="14.3" ry="11.1" transform="rotate(86 27 -8)"/><ellipse cx="53" cy="-10" rx="15.3" ry="9.9" transform="rotate(119 53 -10)"/><ellipse cx="82" cy="-15" rx="15.9" ry="11.1" transform="rotate(106 82 -15)"/><ellipse cx="106" cy="2" rx="14.4" ry="10.2" transform="rotate(11 106 2)"/><ellipse cx="130" cy="-8" rx="13.3" ry="7.5" transform="rotate(131 130 -8)"/><ellipse cx="160" cy="-9" rx="12.5" ry="8.7" transform="rotate(60 160 -9)"/><ellipse cx="176" cy="-14" rx="12.3" ry="8.3" transform="rotate(87 176 -14)"/><ellipse cx="-8" cy="20" rx="14.1" ry="9.7" transform="rotate(168 -8 20)"/><ellipse cx="23" cy="15" rx="12.6" ry="7.7" transform="rotate(9 23 15)"/><ellipse cx="56" cy="4" rx="14.4" ry="8.7" transform="rotate(146 56 4)"/><ellipse cx="87" cy="14" rx="14.8" ry="11.9" transform="rotate(163 87 14)"/><ellipse cx="117" cy="14" rx="14.7" ry="9.6" transform="rotate(80 117 14)"/><ellipse cx="154" cy="6" rx="14.6" ry="8.6" transform="rotate(50 154 6)"/><ellipse cx="165" cy="4" rx="12.9" ry="10.5" transform="rotate(62 165 4)"/><ellipse cx="-7" cy="30" rx="13.2" ry="10.8" transform="rotate(138 -7 30)"/><ellipse cx="25" cy="44" rx="15.0" ry="9.4" transform="rotate(11 25 44)"/><ellipse cx="55" cy="48" rx="13.2" ry="9.5" transform="rotate(41 55 48)"/><ellipse cx="78" cy="35" rx="14.2" ry="9.1" transform="rotate(112 78 35)"/><ellipse cx="101" cy="43" rx="14.8" ry="12.2" transform="rotate(40 101 43)"/><ellipse cx="120" cy="34" rx="13.5" ry="8.4" transform="rotate(151 120 34)"/><ellipse cx="152" cy="49" rx="15.9" ry="12.9" transform="rotate(34 152 49)"/><ellipse cx="182" cy="34" rx="13.4" ry="8.7" transform="rotate(139 182 34)"/><ellipse cx="15" cy="69" rx="14.2" ry="11.4" transform="rotate(140 15 69)"/><ellipse cx="38" cy="57" rx="13.6" ry="10.6" transform="rotate(138 38 57)"/><ellipse cx="50" cy="59" rx="15.3" ry="10.4" transform="rotate(28 50 59)"/><ellipse cx="90" cy="57" rx="15.0" ry="10.1" transform="rotate(159 90 57)"/><ellipse cx="117" cy="58" rx="14.1" ry="11.1" transform="rotate(165 117 58)"/><ellipse cx="147" cy="68" rx="13.7" ry="11.3" transform="rotate(120 147 68)"/><ellipse cx="183" cy="57" rx="13.2" ry="9.5" transform="rotate(44 183 57)"/><ellipse cx="-13" cy="81" rx="14.0" ry="8.2" transform="rotate(175 -13 81)"/><ellipse cx="26" cy="99" rx="13.8" ry="10.7" transform="rotate(53 26 99)"/><ellipse cx="56" cy="80" rx="15.8" ry="9.9" transform="rotate(97 56 80)"/><ellipse cx="71" cy="83" rx="13.8" ry="10.7" transform="rotate(12 71 83)"/><ellipse cx="108" cy="89" rx="12.6" ry="7.8" transform="rotate(13 108 89)"/><ellipse cx="139" cy="94" rx="14.4" ry="10.1" transform="rotate(165 139 94)"/><ellipse cx="156" cy="95" rx="15.5" ry="10.1" transform="rotate(17 156 95)"/><ellipse cx="192" cy="95" rx="15.8" ry="9.1" transform="rotate(137 192 95)"/><ellipse cx="2" cy="104" rx="15.8" ry="11.1" transform="rotate(68 2 104)"/><ellipse cx="38" cy="110" rx="14.1" ry="9.3" transform="rotate(37 38 110)"/><ellipse cx="69" cy="113" rx="13.0" ry="10.0" transform="rotate(167 69 113)"/><ellipse cx="96" cy="122" rx="13.6" ry="8.0" transform="rotate(26 96 122)"/><ellipse cx="115" cy="123" rx="14.1" ry="10.3" transform="rotate(38 115 123)"/><ellipse cx="148" cy="107" rx="15.3" ry="10.3" transform="rotate(21 148 107)"/><ellipse cx="174" cy="106" rx="14.4" ry="11.7" transform="rotate(168 174 106)"/><ellipse cx="-10" cy="126" rx="13.1" ry="9.0" transform="rotate(132 -10 126)"/><ellipse cx="29" cy="135" rx="14.2" ry="9.7" transform="rotate(75 29 135)"/><ellipse cx="53" cy="131" rx="15.7" ry="10.3" transform="rotate(93 53 131)"/><ellipse cx="85" cy="129" rx="14.1" ry="8.6" transform="rotate(32 85 129)"/><ellipse cx="103" cy="135" rx="14.3" ry="10.3" transform="rotate(163 103 135)"/><ellipse cx="137" cy="126" rx="13.3" ry="10.8" transform="rotate(150 137 126)"/><ellipse cx="150" cy="129" rx="13.8" ry="9.4" transform="rotate(41 150 129)"/><ellipse cx="176" cy="139" rx="15.8" ry="13.0" transform="rotate(109 176 139)"/><ellipse cx="4" cy="170" rx="14.6" ry="8.4" transform="rotate(70 4 170)"/><ellipse cx="41" cy="156" rx="15.0" ry="11.7" transform="rotate(117 41 156)"/><ellipse cx="50" cy="172" rx="13.8" ry="10.9" transform="rotate(115 50 172)"/><ellipse cx="77" cy="167" rx="15.4" ry="11.0" transform="rotate(16 77 167)"/><ellipse cx="127" cy="160" rx="12.3" ry="8.6" transform="rotate(129 127 160)"/><ellipse cx="141" cy="161" rx="12.1" ry="7.5" transform="rotate(116 141 161)"/><ellipse cx="169" cy="154" rx="14.0" ry="11.2" transform="rotate(71 169 154)"/><ellipse cx="-16" cy="192" rx="14.8" ry="12.1" transform="rotate(18 -16 192)"/><ellipse cx="28" cy="183" rx="13.5" ry="8.8" transform="rotate(74 28 183)"/><ellipse cx="36" cy="176" rx="15.3" ry="11.3" transform="rotate(21 36 176)"/><ellipse cx="75" cy="188" rx="13.3" ry="9.5" transform="rotate(18 75 188)"/><ellipse cx="95" cy="193" rx="13.8" ry="11.2" transform="rotate(109 95 193)"/><ellipse cx="127" cy="176" rx="14.0" ry="9.3" transform="rotate(95 127 176)"/><ellipse cx="161" cy="195" rx="15.8" ry="10.1" transform="rotate(12 161 195)"/><ellipse cx="196" cy="180" rx="14.2" ry="9.3" transform="rotate(149 196 180)"/></g>
<rect width="188" height="191" fill="#000" fill-opacity="0.0001" filter="url(#nz)" style="mix-blend-mode:overlay" opacity="0.5"/>
<g fill="#7c7c82" filter="url(#blur2)"><path d="M50,44 C58,52 70,56 80,54 C90,52 96,46 100,44 C104,60 104,80 108,95 C112,110 120,120 124,132 C114,138 100,138 92,142 C84,148 80,160 76,166 C70,158 66,148 60,140 C54,130 48,120 46,105 C44,90 44,70 50,44 Z"/><path d="M10,70 C20,66 30,68 34,76 C30,92 32,110 36,126 C30,140 26,160 20,172 C14,160 10,140 8,120 C6,100 6,84 10,70 Z"/><path d="M150,168 L175,152 L187,165 L187,192 L150,192 Z" opacity="0.6"/></g>
</svg>
<rect x="841.0" y="368.0" width="186.0" height="195.0" fill="#dadada" />
<svg x="843" y="370" width="182" height="191" overflow="hidden"><rect width="182" height="191" fill="#74737a" filter="url(#pa12)"/>
<g fill="#66634f" fill-opacity="0.5" stroke="#2a2a36" stroke-width="1.7" stroke-opacity="0.7"><ellipse cx="1" cy="-6" rx="17.7" ry="13.8" transform="rotate(37 1 -6)"/><ellipse cx="11" cy="-9" rx="16.1" ry="13.5" transform="rotate(142 11 -9)"/><ellipse cx="56" cy="-3" rx="17.3" ry="14.5" transform="rotate(49 56 -3)"/><ellipse cx="82" cy="0" rx="14.6" ry="11.1" transform="rotate(164 82 0)"/><ellipse cx="97" cy="-18" rx="14.2" ry="9.6" transform="rotate(170 97 -18)"/><ellipse cx="132" cy="-0" rx="16.9" ry="13.5" transform="rotate(38 132 -0)"/><ellipse cx="147" cy="-16" rx="14.4" ry="11.0" transform="rotate(7 147 -16)"/><ellipse cx="196" cy="-4" rx="17.7" ry="13.6" transform="rotate(172 196 -4)"/><ellipse cx="11" cy="8" rx="17.4" ry="14.2" transform="rotate(135 11 8)"/><ellipse cx="22" cy="17" rx="14.3" ry="11.0" transform="rotate(115 22 17)"/><ellipse cx="49" cy="25" rx="17.8" ry="13.9" transform="rotate(153 49 25)"/><ellipse cx="91" cy="25" rx="17.8" ry="13.9" transform="rotate(116 91 25)"/><ellipse cx="125" cy="23" rx="14.6" ry="11.1" transform="rotate(35 125 23)"/><ellipse cx="150" cy="5" rx="14.9" ry="11.8" transform="rotate(165 150 5)"/><ellipse cx="175" cy="18" rx="16.8" ry="13.2" transform="rotate(105 175 18)"/><ellipse cx="1" cy="43" rx="14.6" ry="12.1" transform="rotate(51 1 43)"/><ellipse cx="26" cy="50" rx="16.5" ry="13.5" transform="rotate(102 26 50)"/><ellipse cx="51" cy="42" rx="17.7" ry="14.9" transform="rotate(150 51 42)"/><ellipse cx="66" cy="41" rx="14.1" ry="10.5" transform="rotate(139 66 41)"/><ellipse cx="95" cy="32" rx="16.2" ry="10.9" transform="rotate(159 95 32)"/><ellipse cx="136" cy="49" rx="15.1" ry="9.4" transform="rotate(15 136 49)"/><ellipse cx="163" cy="44" rx="15.1" ry="12.7" transform="rotate(19 163 44)"/><ellipse cx="188" cy="30" rx="14.3" ry="9.1" transform="rotate(176 188 30)"/><ellipse cx="14" cy="58" rx="17.3" ry="12.0" transform="rotate(66 14 58)"/><ellipse cx="35" cy="72" rx="17.1" ry="12.0" transform="rotate(82 35 72)"/><ellipse cx="62" cy="73" rx="15.4" ry="13.0" transform="rotate(49 62 73)"/><ellipse cx="99" cy="71" rx="15.5" ry="13.0" transform="rotate(41 99 71)"/><ellipse cx="105" cy="64" rx="15.7" ry="9.9" transform="rotate(148 105 64)"/><ellipse cx="150" cy="64" rx="16.1" ry="12.1" transform="rotate(171 150 64)"/><ellipse cx="166" cy="72" rx="14.2" ry="9.6" transform="rotate(179 166 72)"/><ellipse cx="-15" cy="76" rx="15.6" ry="11.5" transform="rotate(63 -15 76)"/><ellipse cx="8" cy="82" rx="17.9" ry="14.4" transform="rotate(91 8 82)"/><ellipse cx="57" cy="78" rx="16.2" ry="13.3" transform="rotate(118 57 78)"/><ellipse cx="64" cy="77" rx="15.6" ry="12.5" transform="rotate(94 64 77)"/><ellipse cx="113" cy="96" rx="14.6" ry="10.1" transform="rotate(84 113 96)"/><ellipse cx="126" cy="84" rx="16.0" ry="11.6" transform="rotate(114 126 84)"/><ellipse cx="165" cy="84" rx="14.3" ry="11.1" transform="rotate(148 165 84)"/><ellipse cx="185" cy="84" rx="17.8" ry="14.5" transform="rotate(96 185 84)"/><ellipse cx="15" cy="106" rx="16.7" ry="10.7" transform="rotate(128 15 106)"/><ellipse cx="29" cy="122" rx="14.1" ry="9.9" transform="rotate(177 29 122)"/><ellipse cx="54" cy="110" rx="16.7" ry="12.9" transform="rotate(22 54 110)"/><ellipse cx="78" cy="119" rx="16.6" ry="11.1" transform="rotate(96 78 119)"/><ellipse cx="117" cy="113" rx="17.7" ry="13.6" transform="rotate(5 117 113)"/><ellipse cx="155" cy="101" rx="17.1" ry="10.9" transform="rotate(80 155 101)"/><ellipse cx="166" cy="123" rx="17.5" ry="13.5" transform="rotate(86 166 123)"/><ellipse cx="-12" cy="136" rx="16.7" ry="13.7" transform="rotate(39 -12 136)"/><ellipse cx="14" cy="148" rx="15.0" ry="11.2" transform="rotate(44 14 148)"/><ellipse cx="53" cy="136" rx="14.1" ry="11.9" transform="rotate(164 53 136)"/><ellipse cx="76" cy="145" rx="14.9" ry="11.1" transform="rotate(128 76 145)"/><ellipse cx="106" cy="134" rx="15.4" ry="11.2" transform="rotate(54 106 134)"/><ellipse cx="136" cy="137" rx="14.2" ry="10.8" transform="rotate(91 136 137)"/><ellipse cx="150" cy="132" rx="17.6" ry="12.6" transform="rotate(84 150 132)"/><ellipse cx="185" cy="136" rx="15.1" ry="10.6" transform="rotate(136 185 136)"/><ellipse cx="3" cy="164" rx="14.9" ry="10.4" transform="rotate(89 3 164)"/><ellipse cx="22" cy="164" rx="17.4" ry="12.5" transform="rotate(108 22 164)"/><ellipse cx="68" cy="172" rx="17.0" ry="11.0" transform="rotate(4 68 172)"/><ellipse cx="96" cy="161" rx="17.3" ry="13.0" transform="rotate(68 96 161)"/><ellipse cx="120" cy="151" rx="17.4" ry="12.2" transform="rotate(56 120 151)"/><ellipse cx="149" cy="149" rx="16.8" ry="13.5" transform="rotate(83 149 149)"/><ellipse cx="169" cy="172" rx="17.1" ry="13.4" transform="rotate(5 169 172)"/><ellipse cx="-6" cy="189" rx="15.1" ry="10.2" transform="rotate(111 -6 189)"/><ellipse cx="9" cy="189" rx="14.7" ry="10.7" transform="rotate(9 9 189)"/><ellipse cx="39" cy="186" rx="16.8" ry="10.5" transform="rotate(1 39 186)"/><ellipse cx="85" cy="188" rx="17.9" ry="12.6" transform="rotate(113 85 188)"/><ellipse cx="91" cy="192" rx="17.0" ry="11.6" transform="rotate(169 91 192)"/><ellipse cx="120" cy="184" rx="16.4" ry="13.3" transform="rotate(104 120 184)"/><ellipse cx="167" cy="188" rx="14.1" ry="10.0" transform="rotate(132 167 188)"/><ellipse cx="185" cy="189" rx="16.4" ry="10.9" transform="rotate(76 185 189)"/></g>
<g fill="none" stroke="#bcae64" stroke-width="1.2" stroke-opacity="0.35"><ellipse cx="1" cy="-6" rx="15.7" ry="11.8" transform="rotate(37 1 -6)"/><ellipse cx="11" cy="-9" rx="14.1" ry="11.5" transform="rotate(142 11 -9)"/><ellipse cx="56" cy="-3" rx="15.3" ry="12.5" transform="rotate(49 56 -3)"/><ellipse cx="82" cy="0" rx="12.6" ry="9.1" transform="rotate(164 82 0)"/><ellipse cx="97" cy="-18" rx="12.2" ry="7.6" transform="rotate(170 97 -18)"/><ellipse cx="132" cy="-0" rx="14.9" ry="11.5" transform="rotate(38 132 -0)"/><ellipse cx="147" cy="-16" rx="12.4" ry="9.0" transform="rotate(7 147 -16)"/><ellipse cx="196" cy="-4" rx="15.7" ry="11.6" transform="rotate(172 196 -4)"/><ellipse cx="11" cy="8" rx="15.4" ry="12.2" transform="rotate(135 11 8)"/><ellipse cx="22" cy="17" rx="12.3" ry="9.0" transform="rotate(115 22 17)"/><ellipse cx="49" cy="25" rx="15.8" ry="11.9" transform="rotate(153 49 25)"/><ellipse cx="91" cy="25" rx="15.8" ry="11.9" transform="rotate(116 91 25)"/><ellipse cx="125" cy="23" rx="12.6" ry="9.1" transform="rotate(35 125 23)"/><ellipse cx="150" cy="5" rx="12.9" ry="9.8" transform="rotate(165 150 5)"/><ellipse cx="175" cy="18" rx="14.8" ry="11.2" transform="rotate(105 175 18)"/><ellipse cx="1" cy="43" rx="12.6" ry="10.1" transform="rotate(51 1 43)"/><ellipse cx="26" cy="50" rx="14.5" ry="11.5" transform="rotate(102 26 50)"/><ellipse cx="51" cy="42" rx="15.7" ry="12.9" transform="rotate(150 51 42)"/><ellipse cx="66" cy="41" rx="12.1" ry="8.5" transform="rotate(139 66 41)"/><ellipse cx="95" cy="32" rx="14.2" ry="8.9" transform="rotate(159 95 32)"/><ellipse cx="136" cy="49" rx="13.1" ry="7.4" transform="rotate(15 136 49)"/><ellipse cx="163" cy="44" rx="13.1" ry="10.7" transform="rotate(19 163 44)"/><ellipse cx="188" cy="30" rx="12.3" ry="7.1" transform="rotate(176 188 30)"/><ellipse cx="14" cy="58" rx="15.3" ry="10.0" transform="rotate(66 14 58)"/><ellipse cx="35" cy="72" rx="15.1" ry="10.0" transform="rotate(82 35 72)"/><ellipse cx="62" cy="73" rx="13.4" ry="11.0" transform="rotate(49 62 73)"/><ellipse cx="99" cy="71" rx="13.5" ry="11.0" transform="rotate(41 99 71)"/><ellipse cx="105" cy="64" rx="13.7" ry="7.9" transform="rotate(148 105 64)"/><ellipse cx="150" cy="64" rx="14.1" ry="10.1" transform="rotate(171 150 64)"/><ellipse cx="166" cy="72" rx="12.2" ry="7.6" transform="rotate(179 166 72)"/><ellipse cx="-15" cy="76" rx="13.6" ry="9.5" transform="rotate(63 -15 76)"/><ellipse cx="8" cy="82" rx="15.9" ry="12.4" transform="rotate(91 8 82)"/><ellipse cx="57" cy="78" rx="14.2" ry="11.3" transform="rotate(118 57 78)"/><ellipse cx="64" cy="77" rx="13.6" ry="10.5" transform="rotate(94 64 77)"/><ellipse cx="113" cy="96" rx="12.6" ry="8.1" transform="rotate(84 113 96)"/><ellipse cx="126" cy="84" rx="14.0" ry="9.6" transform="rotate(114 126 84)"/><ellipse cx="165" cy="84" rx="12.3" ry="9.1" transform="rotate(148 165 84)"/><ellipse cx="185" cy="84" rx="15.8" ry="12.5" transform="rotate(96 185 84)"/><ellipse cx="15" cy="106" rx="14.7" ry="8.7" transform="rotate(128 15 106)"/><ellipse cx="29" cy="122" rx="12.1" ry="7.9" transform="rotate(177 29 122)"/><ellipse cx="54" cy="110" rx="14.7" ry="10.9" transform="rotate(22 54 110)"/><ellipse cx="78" cy="119" rx="14.6" ry="9.1" transform="rotate(96 78 119)"/><ellipse cx="117" cy="113" rx="15.7" ry="11.6" transform="rotate(5 117 113)"/><ellipse cx="155" cy="101" rx="15.1" ry="8.9" transform="rotate(80 155 101)"/><ellipse cx="166" cy="123" rx="15.5" ry="11.5" transform="rotate(86 166 123)"/><ellipse cx="-12" cy="136" rx="14.7" ry="11.7" transform="rotate(39 -12 136)"/><ellipse cx="14" cy="148" rx="13.0" ry="9.2" transform="rotate(44 14 148)"/><ellipse cx="53" cy="136" rx="12.1" ry="9.9" transform="rotate(164 53 136)"/><ellipse cx="76" cy="145" rx="12.9" ry="9.1" transform="rotate(128 76 145)"/><ellipse cx="106" cy="134" rx="13.4" ry="9.2" transform="rotate(54 106 134)"/><ellipse cx="136" cy="137" rx="12.2" ry="8.8" transform="rotate(91 136 137)"/><ellipse cx="150" cy="132" rx="15.6" ry="10.6" transform="rotate(84 150 132)"/><ellipse cx="185" cy="136" rx="13.1" ry="8.6" transform="rotate(136 185 136)"/><ellipse cx="3" cy="164" rx="12.9" ry="8.4" transform="rotate(89 3 164)"/><ellipse cx="22" cy="164" rx="15.4" ry="10.5" transform="rotate(108 22 164)"/><ellipse cx="68" cy="172" rx="15.0" ry="9.0" transform="rotate(4 68 172)"/><ellipse cx="96" cy="161" rx="15.3" ry="11.0" transform="rotate(68 96 161)"/><ellipse cx="120" cy="151" rx="15.4" ry="10.2" transform="rotate(56 120 151)"/><ellipse cx="149" cy="149" rx="14.8" ry="11.5" transform="rotate(83 149 149)"/><ellipse cx="169" cy="172" rx="15.1" ry="11.4" transform="rotate(5 169 172)"/><ellipse cx="-6" cy="189" rx="13.1" ry="8.2" transform="rotate(111 -6 189)"/><ellipse cx="9" cy="189" rx="12.7" ry="8.7" transform="rotate(9 9 189)"/><ellipse cx="39" cy="186" rx="14.8" ry="8.5" transform="rotate(1 39 186)"/><ellipse cx="85" cy="188" rx="15.9" ry="10.6" transform="rotate(113 85 188)"/><ellipse cx="91" cy="192" rx="15.0" ry="9.6" transform="rotate(169 91 192)"/><ellipse cx="120" cy="184" rx="14.4" ry="11.3" transform="rotate(104 120 184)"/><ellipse cx="167" cy="188" rx="12.1" ry="8.0" transform="rotate(132 167 188)"/><ellipse cx="185" cy="189" rx="14.4" ry="8.9" transform="rotate(76 185 189)"/></g>
<rect width="182" height="191" fill="#000" fill-opacity="0.0001" filter="url(#nz)" style="mix-blend-mode:overlay" opacity="0.5"/>
<g fill="#7c7c82" filter="url(#blur2)"><path d="M50,44 C58,52 70,56 80,54 C90,52 96,46 100,44 C104,60 104,80 108,95 C112,110 120,120 124,132 C114,138 100,138 92,142 C84,148 80,160 76,166 C70,158 66,148 60,140 C54,130 48,120 46,105 C44,90 44,70 50,44 Z"/><path d="M10,70 C20,66 30,68 34,76 C30,92 32,110 36,126 C30,140 26,160 20,172 C14,160 10,140 8,120 C6,100 6,84 10,70 Z"/><path d="M150,168 L175,152 L187,165 L187,192 L150,192 Z" opacity="0.6"/></g>
</svg>
<rect x="1036.0" y="368.0" width="188.0" height="195.0" fill="#dadada" />
<svg x="1038" y="370" width="184" height="191" overflow="hidden"><rect width="184" height="191" fill="#6f6c5b" filter="url(#pa13)"/>
<path d="M194,51L186,49M185,49L186,49M185,49L184,57M184,57L189,63M189,63L193,61M168,180L165,173M168,180L157,185M165,173L153,176M157,185L153,176M127,194L123,211M127,194L135,200M-9,0L-4,-13M173,66L184,57M173,66L169,57M173,46L168,52M173,46L185,49M169,57L168,52M62,94L54,104M62,94L72,97M72,97L69,109M69,109L60,110M60,110L54,104M112,104L118,117M112,104L103,109M118,120L118,117M118,120L110,125M103,109L105,122M110,125L105,122M59,165L71,173M59,165L59,164M59,164L68,156M68,156L78,166M71,173L78,169M78,166L78,169M173,66L173,67M189,63L185,73M173,67L185,73M185,73L185,73M185,73L190,74M140,175L149,172M140,175L135,182M135,182L143,188M143,188L152,176M152,176L149,172M149,163L149,172M149,163L132,162M132,162L140,175M147,194L140,201M147,194L143,188M127,194L126,194M126,194L132,183M132,183L135,182M157,185L156,194M153,176L152,176M147,194L156,194M175,188L190,188M175,188L174,186M174,186L182,173M189,175L192,180M189,175L182,173M196,169L189,175M175,188L173,192M173,192L182,199M156,195L153,209M156,195L167,197M156,194L156,195M168,180L174,186M173,192L167,197M-8,21L-3,24M-3,24L-4,36M-4,36L-14,35M169,57L154,65M173,67L168,73M168,73L159,70M159,70L154,65M62,94L54,86M54,104L51,104M54,86L52,85M52,85L45,97M51,104L45,97M32,89L46,82M32,89L42,98M46,82L51,83M51,83L52,85M42,98L45,97M89,119L90,111M89,119L84,123M84,123L74,120M87,107L90,111M87,107L72,113M72,113L74,120M103,109L99,107M97,122L105,122M97,122L89,119M99,107L90,111M72,97L75,94M69,109L72,113M75,94L86,99M86,99L87,107M60,110L55,119M69,126L55,119M69,126L74,120M84,128L78,138M84,128L93,137M93,137L91,143M91,143L81,144M78,138L81,144M69,126L67,132M67,132L78,138M84,123L84,128M93,137L97,122M93,137L93,137M68,152L64,147M68,152L78,148M64,147L66,133M78,148L81,144M66,133L67,132M120,121L127,134M120,121L118,120M121,141L127,134M121,141L120,142M110,125L110,128M120,142L110,128M93,137L105,134M110,128L105,134M132,162L130,162M132,183L131,182M131,182L126,167M130,162L126,167M78,166L88,161M78,169L82,175M82,175L95,175M95,175L97,172M88,161L97,172M68,156L68,152M78,148L88,161M88,161L88,161M52,159L50,146M52,159L44,160M44,160L38,152M50,146L50,146M50,146L40,148M38,152L40,148M59,164L52,159M64,147L50,146M43,167L44,160M43,167L46,171M46,171L55,171M55,171L59,165M43,167L34,166M34,166L34,155M34,155L38,152M34,155L24,154M34,139L40,148M34,139L31,139M31,139L24,154M51,121L52,130M51,121L43,116M42,116L43,116M42,116L35,129M35,129L36,132M36,132L51,131M51,131L52,130M55,119L51,121M66,133L52,130M51,104L43,116M34,139L36,132M50,146L51,131M31,139L20,138M20,138L19,144M24,154L23,154M23,154L19,144M42,98L34,108M42,116L38,113M34,108L38,113M4,187L-8,182M4,187L5,195M-10,194L-2,202M5,195L4,197M-20,167L-5,170M-5,170L-8,182M22,195L25,198M22,195L5,195M22,195L21,187M4,187L9,181M9,181L21,187M31,196L35,180M35,180L28,176M21,187L28,176M35,180L39,180M34,166L27,173M46,171L39,180M27,173L28,176M4,136L5,134M4,136L-8,140M-10,123L-1,125M-1,125L5,134M4,109L-3,99M4,109L-10,118M-8,99L-3,99M4,109L4,109M4,109L4,120M-1,125L4,120M32,89L30,89M29,108L34,108M29,108L25,101M25,101L30,89M37,77L46,82M37,77L32,75M32,75L29,88M30,89L29,88M-4,36L-3,38M-10,48L-3,38M185,73L182,85M192,89L182,85M168,73L167,80M182,85L174,90M167,80L174,90M152,81L159,70M152,81L156,84M167,80L156,84M181,138L181,123M181,138L172,137M172,137L168,132M168,132L173,122M173,122L181,123M172,137L170,148M170,148L163,150M159,133L160,146M159,133L168,132M160,146L163,150M-6,7L8,12M-3,24L6,22M8,12L9,16M6,22L9,16M-7,2L12,0M7,-11L12,0M8,12L13,1M12,0L13,1M34,67L25,60M34,67L31,74M31,74L17,73M17,73L17,61M25,60L17,61M145,76L148,80M145,76L135,85M148,80L144,91M135,85L141,93M141,93L144,91M153,94L144,91M153,94L157,92M152,81L148,80M157,92L156,84M79,184L81,182M79,184L79,192M81,182L91,185M91,185L83,195M79,192L83,195M67,181L71,173M67,181L79,184M82,175L81,182M95,175L94,184M94,184L91,185M86,199L83,195M94,184L100,192M100,192L93,199M79,192L68,196M67,181L63,183M68,196L63,183M55,171L59,182M63,183L59,182M39,180L48,190M59,182L48,190M52,198L48,192M48,192L37,198M48,190L48,192M126,194L118,194M131,182L116,180M118,194L116,180M118,194L111,197M100,192L105,192M111,197L105,192M144,136L137,134M144,136L144,146M137,134L130,144M144,146L144,146M144,146L135,151M135,151L130,144M151,129L144,136M151,129L159,133M160,146L144,146M121,141L130,144M127,134L136,133M136,133L137,134M120,142L118,147M118,147L120,152M120,152L130,159M130,159L135,151M120,121L130,120M136,133L134,125M130,120L134,125M118,117L126,108M126,108L135,114M130,120L135,114M99,107L97,97M86,99L93,96M93,96L97,97M112,104L113,101M113,101L105,94M97,97L105,94M106,145L111,147M106,145L95,148M111,147L105,159M105,159L95,153M95,148L95,153M118,147L111,147M105,134L106,145M91,143L95,148M88,161L95,153M113,161L122,168M113,161L106,161M106,161L103,171M103,171L109,176M122,168L113,176M109,176L113,176M120,152L113,161M130,159L130,162M126,167L122,168M105,159L106,161M97,172L103,171M105,192L109,176M116,180L113,176M19,116L16,122M19,116L21,115M21,115L29,123M16,122L16,131M31,127L29,123M31,127L17,132M17,132L16,131M4,109L12,109M12,109L19,116M4,120L16,122M12,109L15,99M29,108L21,115M15,99L25,101M38,113L29,123M5,134L16,131M35,129L31,127M20,138L17,132M4,136L7,147M19,144L7,147M-5,170L-2,168M-2,168L-4,158M-4,158L-18,156M2,90L-2,99M2,90L14,86M-2,99L15,98M15,98L15,87M14,86L15,87M-3,99L-2,99M-3,82L-12,83M-3,82L2,90M15,99L15,98M29,88L15,87M31,74L32,75M13,77L17,73M13,77L14,86M172,97L172,97M172,97L166,107M172,97L179,100M166,107L171,115M171,115L186,109M179,100L186,109M157,92L172,97M174,90L172,97M192,95L179,100M195,99L187,109M187,109L186,109M191,129L184,123M184,123L189,113M171,119L171,115M171,119L173,122M181,123L184,123M187,109L189,113M181,138L185,141M185,141L192,131M162,153L151,160M162,153L171,165M167,169L171,165M167,169L151,161M151,161L151,160M163,150L162,153M144,146L151,160M165,173L167,169M182,173L182,172M182,172L173,165M173,165L171,165M149,163L151,161M9,16L21,17M13,1L21,1M21,17L28,11M28,11L21,1M25,-12L22,-0M21,1L22,-0M23,28L22,28M23,28L37,20M22,28L21,17M28,11L34,13M37,20L34,13M47,42L47,52M47,42L53,37M53,37L62,39M48,52L47,52M48,52L64,49M64,49L62,39M23,28L29,35M40,24L37,20M40,24L35,36M29,35L35,36M40,56L47,52M40,56L32,49M47,42L36,38M32,49L36,38M34,67L39,64M25,60L29,49M39,64L40,56M32,49L29,49M40,24L47,25M47,25L53,37M35,36L36,38M-0,39L9,49M-0,39L13,30M16,44L16,45M16,44L14,31M16,45L12,48M9,49L12,48M13,30L14,31M-10,48L-1,56M-3,38L-0,39M-1,56L9,49M6,22L13,30M29,35L16,44M29,49L16,45M22,28L14,31M17,61L17,61M17,61L12,48M194,9L187,11M187,11L187,18M187,18L195,24M186,49L190,34M142,106L140,112M142,106L153,105M140,112L145,120M153,105L158,108M158,108L153,122M145,120L151,125M153,122L151,125M138,99L142,106M138,99L141,93M153,94L153,105M134,125L145,120M135,114L140,112M166,107L158,108M171,119L153,122M151,129L151,125M138,99L128,99M135,85L132,84M132,84L128,99M126,108L127,99M113,101L122,97M122,97L127,99M127,99L128,99M93,96L92,87M106,91L105,94M106,91L96,85M96,85L92,87M145,50L152,50M145,50L138,56M138,56L150,66M152,50L153,64M153,64L150,66M136,56L138,56M136,56L133,63M144,73L150,66M144,73L133,69M133,69L133,63M168,52L153,49M154,65L153,64M153,49L152,50M145,76L144,73M136,56L130,50M133,63L115,57M130,50L115,57M52,80L60,69M52,80L45,72M45,72L43,66M43,66L56,64M60,69L59,66M59,66L56,64M51,83L52,80M54,86L70,81M70,81L62,70M62,70L60,69M37,77L45,72M39,64L43,66M48,52L56,64M64,49L64,57M64,49L64,49M64,57L59,66M9,181L9,177M27,173L21,169M9,177L21,169M-2,168L0,168M9,177L0,168M23,154L18,161M21,169L18,161M-1,152L-1,153M-1,152L6,149M-1,153L8,163M6,149L14,160M14,160L8,163M-9,145L-1,152M-4,158L-1,153M7,147L6,149M0,168L8,163M18,161L14,160M-11,66L-2,62M-11,71L1,77M-2,62L1,65M1,65L5,74M5,74L1,77M-1,56L-2,62M-3,82L1,77M17,61L1,65M13,77L5,74M170,148L174,150M185,141L185,142M185,142L174,150M173,165L177,157M174,150L177,157M185,142L191,148M182,172L192,156M177,157L192,155M62,22L68,28M62,22L65,9M78,13L74,25M78,13L66,9M74,25L68,28M66,9L65,9M47,25L52,21M52,21L62,22M62,39L67,33M67,33L68,28M38,8L51,9M38,8L39,-3M41,-5L54,4M41,-5L39,-3M51,9L55,5M39,-3L39,-3M54,4L55,5M52,21L51,9M34,13L38,8M22,-0L39,-3M65,9L55,5M26,-12L39,-3M187,11L183,7M187,18L179,23M183,7L182,7M171,18L182,7M171,18L173,22M173,22L179,23M190,34L185,33M179,23L185,33M173,46L172,41M185,33L172,41M121,91L125,78M121,91L108,86M108,86L109,78M109,78L125,78M125,78L125,78M132,84L125,78M122,97L121,91M106,91L108,86M126,74L125,78M126,74L133,69M70,81L75,83M62,70L74,69M74,69L75,83M64,57L80,63M74,69L80,63M75,94L76,84M92,87L84,81M84,81L76,84M76,84L75,83M153,49L154,36M145,50L138,38M154,36L138,38M130,50L129,43M129,43L136,37M138,38L136,37M126,74L112,59M115,57L114,57M112,59L114,57M129,43L128,42M128,42L114,49M114,57L114,49M94,30L94,23M94,30L87,37M80,27L87,37M80,27L91,21M91,21L94,23M120,35L123,26M120,35L109,38M123,26L113,24M106,34L109,26M106,34L108,38M109,26L113,24M108,38L109,38M128,23L123,26M128,23L136,27M128,42L120,35M136,27L136,37M114,49L109,38M94,30L106,34M94,23L100,17M100,17L109,26M66,9L69,-2M54,4L59,-8M69,-2L59,-8M88,40L84,60M88,40L87,39M87,39L81,41M81,41L76,49M76,49L84,60M67,33L81,41M80,27L74,25M87,37L87,39M64,49L76,49M80,63L85,62M85,62L84,60M128,23L128,21M143,23L136,27M143,23L143,10M143,10L137,4M137,4L128,21M113,17L113,24M113,17L122,14M122,14L128,21M84,81L89,71M85,62L86,62M86,62L89,71M96,85L101,75M89,71L101,75M109,78L106,75M112,59L109,60M109,60L106,75M106,75L101,75M153,24L152,25M153,24L171,25M152,25L155,35M155,35L169,35M169,35L171,25M160,12L153,24M160,12L152,8M143,23L152,25M152,8L143,10M160,12L164,10M164,10L171,18M173,22L171,25M154,36L155,35M172,41L169,35M78,13L81,11M91,21L83,12M81,11L83,12M69,-2L72,-3M72,-3L82,8M81,11L82,8M41,-5L45,-12M72,-3L76,-8M82,8L90,-2M90,-2L90,-5M148,-3L137,4M148,-3L149,-13M138,-10L131,-0M131,-0L137,4M151,-0L148,-3M151,-0L152,8M137,4L137,4M131,-0L122,7M131,-0L131,-0M122,7L122,14M186,-2L181,-8M186,-2L195,-3M183,7L186,-2M182,7L171,2M177,-9L171,2M164,10L166,4M151,-0L162,-1M162,-1L166,4M166,4L171,2M131,-0L122,-11M92,59L108,60M92,59L96,45M108,60L99,45M96,45L99,45M86,62L92,59M109,60L108,60M88,40L96,45M108,38L99,45M101,13L109,12M101,13L99,10M99,10L98,4M98,4L105,-1M109,12L113,4M105,-1L113,4M113,4L113,4M113,17L109,12M100,17L101,13M83,12L99,10M90,-2L98,4M122,7L113,4M119,-11L113,4M105,-1L106,-12M162,-1L161,-11" fill="none" stroke="#383878" stroke-opacity="0.35" stroke-width="1.3"/>
</svg>
<rect x="1235.0" y="368.0" width="184.0" height="195.0" fill="#dadada" />
<svg x="1237" y="370" width="180" height="191" overflow="hidden"><rect width="180" height="191" fill="#6d6b5b" filter="url(#pa14)"/>
<path d="M41,130L31,141M41,130L38,124M38,124L26,124M26,124L30,140M30,140L31,141M14,141L11,132M14,141L28,148M12,131L11,132M12,131L30,140M28,148L31,145M31,145L31,141M12,131L15,126M26,124L22,122M15,126L22,122M-4,124L-11,120M-4,124L-2,132M-13,138L-2,132M5,69L-6,62M5,69L6,71M-7,78L6,71M135,70L136,73M135,70L140,57M136,73L144,73M140,57L149,60M149,60L150,63M144,73L150,63M31,145L46,147M41,130L48,134M46,147L48,146M48,134L48,146M55,121L59,118M55,121L56,130M59,118L73,119M56,130L57,130M57,130L70,129M70,129L73,122M73,122L73,119M73,119L73,119M48,134L56,130M48,146L59,148M63,147L57,130M63,147L59,148M90,131L89,132M90,131L104,138M89,132L87,135M104,138L103,142M103,142L94,147M94,147L90,145M87,135L90,145M89,132L73,122M70,129L74,141M87,135L74,141M14,141L10,151M11,132L4,133M4,133L1,149M10,151L1,149M-15,159L-3,156M-12,143L-1,150M-3,156L-1,150M-2,132L4,133M-1,150L1,149M3,168L-3,156M3,168L-10,167M3,168L3,168M3,168L3,170M3,170L-6,183M90,145L80,154M74,141L72,146M80,154L72,146M63,147L67,147M67,147L72,146M38,124L40,118M55,121L48,117M48,117L40,118M35,109L23,111M35,109L38,112M23,111L22,122M38,112L40,118M28,148L27,152M10,151L14,156M27,152L14,156M13,179L21,169M13,179L17,183M17,183L27,180M27,180L24,169M24,169L21,169M3,168L13,162M13,179L3,170M13,179L13,179M21,169L13,162M14,156L13,162M-7,78L-1,89M10,73L6,88M10,73L6,71M6,88L-1,89M-7,94L-1,89M9,17L0,24M9,17L7,11M-7,14L3,8M0,24L-7,23M3,8L7,11M185,118L197,123M185,118L192,105M136,73L134,76M144,73L152,83M148,91L152,83M148,91L133,84M134,76L133,84M137,53L140,57M137,53L129,52M135,70L126,61M126,61L129,52M5,69L11,51M10,73L18,72M18,72L20,59M20,59L11,51M-6,62L5,50M5,50L11,51M11,51L11,51M7,89L10,96M7,89L19,85M10,96L22,97M22,97L19,85M90,131L92,126M73,119L89,116M92,126L89,116M104,138L108,134M92,126L102,124M102,124L108,129M108,134L108,129M102,124L104,114M104,114L117,115M108,129L118,118M118,118L118,117M118,117L117,115M94,147L95,156M80,154L81,156M81,156L95,156M103,142L110,153M110,153L99,159M95,156L99,159M126,204L119,194M119,194L118,193M118,193L113,196M113,196L113,202M143,195L139,196M143,195L141,184M126,185L136,180M126,185L136,194M136,194L139,196M141,184L136,180M119,194L136,194M148,196L143,195M166,206L165,194M148,196L161,191M165,194L161,191M148,176L161,182M148,176L141,184M161,191L161,182M13,179L1,189M-6,183L1,189M1,189L1,189M1,189L-2,202M27,152L31,159M24,169L30,165M30,165L31,159M35,183L27,180M35,183L37,181M37,181L37,170M30,165L37,170M46,147L46,158M31,159L46,158M10,108L8,100M10,108L5,114M8,100L-4,102M5,114L-4,108M5,114L5,114M-4,108L-4,102M22,109L10,108M22,109L23,97M10,96L8,100M23,97L22,97M23,111L22,109M15,126L5,114M7,89L6,88M-7,94L-4,102M-4,124L5,114M-13,113L-4,108M-10,47L-0,45M-6,33L-0,38M-0,38L-0,45M5,50L-0,45M8,32L-0,38M8,32L0,24M16,-13L18,-3M18,-3L3,-1M-0,-9L3,-1M3,-1L3,-1M3,8L3,-1M7,11L23,2M23,2L18,-3M-15,3L3,-1M26,-17L31,-3M42,-12L31,-3M23,2L26,3M26,3L26,3M26,3L31,-3M146,120L144,113M146,120L135,126M135,126L128,118M128,118L138,109M144,113L138,109M128,118L118,117M122,109L117,114M122,109L137,108M117,114L117,115M137,108L138,109M150,123L159,119M150,123L146,120M159,119L165,108M144,113L154,103M165,108L154,103M182,100L173,97M182,100L178,113M178,113L170,112M170,112L166,108M166,108L173,97M150,63L156,64M152,83L154,82M156,64L164,72M154,82L164,72M133,97L131,88M133,97L124,99M131,88L121,87M121,87L119,96M124,99L119,96M148,91L148,92M133,84L131,88M148,92L136,99M136,99L133,97M122,109L124,99M136,99L137,108M110,98L117,114M110,98L119,96M133,38L128,49M133,38L119,33M128,49L117,46M117,46L116,44M119,33L116,44M65,6L58,-5M65,6L76,2M76,2L72,-7M99,-8L97,-3M97,-3L85,-0M85,-0L86,-14M8,32L14,33M11,51L18,40M14,33L18,40M126,61L118,64M129,52L128,49M117,46L110,52M110,52L110,54M110,54L118,64M35,109L36,99M23,97L29,95M36,99L29,95M89,116L92,110M104,114L98,109M98,109L92,110M110,98L104,95M98,109L104,95M108,134L119,137M118,118L124,134M119,137L124,134M135,126L132,132M132,132L128,135M128,135L124,134M133,-5L142,3M133,-5L125,1M125,1L125,6M125,6L132,13M132,13L139,8M139,8L142,3M135,-12L133,-5M150,-9L147,2M147,2L142,3M116,-5L125,1M119,25L118,24M119,25L131,21M131,21L132,13M119,10L118,24M119,10L125,6M113,196L104,194M104,194L98,202M118,166L112,173M118,166L126,171M126,171L123,185M112,173L114,181M114,181L119,187M119,187L123,185M132,171L136,180M132,171L126,171M126,185L123,185M95,181L96,183M95,181L96,173M96,173L97,173M97,173L112,173M96,183L101,188M101,188L114,181M118,193L119,187M104,194L101,188M35,183L35,188M35,188L46,197M37,181L52,180M53,196L52,180M53,196L50,197M78,192L76,201M78,192L88,194M88,194L92,202M95,181L78,184M78,184L76,188M76,188L78,192M96,183L88,194M93,172L80,161M93,172L77,176M77,176L74,171M74,171L78,163M78,163L80,161M96,173L93,172M97,173L99,159M81,156L80,161M78,184L77,176M65,160L78,163M65,160L67,147M196,129L184,131M184,118L185,118M184,118L180,125M180,125L184,131M184,118L178,113M170,112L172,126M180,125L172,126M150,123L152,130M159,119L171,127M152,130L169,131M169,131L171,127M196,147L184,135M184,131L184,135M165,108L166,108M172,126L171,127M132,132L148,139M152,130L151,135M148,139L151,135M187,180L176,179M187,192L185,195M176,179L175,180M175,180L178,193M178,193L184,196M184,196L185,195M189,172L176,172M176,172L176,179M201,206L185,195M165,194L178,193M161,182L162,181M162,181L175,180M182,206L184,196M171,164L177,161M171,164L171,164M171,164L168,159M168,159L166,146M177,161L180,150M180,150L173,143M173,143L170,143M170,143L167,145M166,146L167,145M176,172L171,164M186,164L177,161M162,181L164,170M164,170L171,164M195,148L180,150M184,135L173,143M169,131L170,143M151,135L167,145M148,139L146,145M166,146L152,153M146,145L152,153M132,147L128,135M132,147L134,149M146,145L134,149M59,148L55,158M46,158L46,159M55,158L46,159M65,160L61,166M55,158L61,166M37,170L46,166M46,159L46,166M1,189L17,196M17,183L18,196M35,188L25,197M188,-4L179,-10M178,83L189,90M178,83L183,75M194,74L183,75M182,100L191,99M189,54L177,53M191,64L174,65M177,53L174,62M174,62L174,65M174,65L174,65M183,75L174,65M161,49L174,45M161,49L161,57M174,45L177,53M161,57L174,62M156,64L161,57M166,72L164,72M166,72L174,65M178,83L173,84M166,72L173,84M153,100L153,102M153,100L164,90M153,102L170,92M164,90L170,91M170,92L170,91M148,92L153,100M154,103L153,102M154,82L164,90M173,97L170,92M173,84L170,91M109,8L107,20M109,8L108,4M108,4L102,3M102,3L95,11M95,11L101,22M107,20L101,22M119,10L109,8M118,24L107,20M116,-5L108,4M97,-3L102,3M26,10L32,15M26,10L19,21M32,15L34,25M19,21L19,21M19,21L30,28M34,25L30,28M9,17L19,21M26,3L26,10M14,33L19,21M88,86L84,99M88,86L92,84M84,99L103,94M92,84L103,94M104,95L104,95M92,110L82,101M82,101L84,99M104,95L103,94M130,148L117,146M130,148L116,158M117,146L111,154M116,158L111,154M119,137L117,146M132,147L130,148M110,153L111,154M118,164L118,166M118,164L116,158M133,38L139,35M137,53L144,47M139,35L144,47M119,25L118,29M131,21L135,24M119,33L118,29M135,24L139,35M139,35L139,35M149,60L151,49M144,47L151,49M161,49L156,46M151,49L156,46M135,24L145,20M139,8L145,16M145,16L145,20M147,2L152,6M154,-10L162,-1M162,-1L152,6M145,16L153,9M152,6L153,9M180,35L177,26M180,35L184,36M193,35L184,36M177,26L185,18M185,18L185,18M174,45L175,42M191,51L184,36M175,42L180,35M61,199L56,196M61,199L74,188M56,196L66,183M74,188L66,183M53,196L56,196M76,188L74,188M118,164L132,157M132,171L134,169M134,169L132,157M134,149L134,153M132,157L134,153M153,157L158,166M153,157L152,156M152,156L144,162M158,166L148,173M144,162L143,166M148,173L143,166M164,170L158,166M168,159L153,157M152,153L152,156M134,153L144,162M148,176L148,173M134,169L143,166M66,182L55,176M66,182L72,171M72,171L61,168M61,168L55,173M55,176L55,173M52,180L55,176M66,183L66,182M74,171L72,171M61,166L61,168M46,166L55,173M53,6L45,7M53,6L56,-6M45,7L45,7M45,7L45,-11M26,3L45,7M32,15L45,17M45,7L45,16M45,17L45,16M34,25L47,25M47,25L48,25M45,17L48,25M53,6L61,10M45,16L61,10M65,6L61,10M61,10L61,10M118,29L105,35M100,23L101,22M100,23L99,30M99,30L105,35M116,44L105,37M105,35L105,37M110,52L101,47M105,37L101,47M48,117L51,108M38,112L49,104M51,108L49,104M59,118L59,111M51,108L59,111M73,119L73,113M73,113L63,106M59,111L63,106M36,99L44,97M44,97L49,100M49,104L49,100M81,101L74,88M81,101L80,102M80,102L62,97M74,88L69,88M69,88L61,92M62,97L60,95M61,92L60,95M88,86L81,83M82,101L81,101M81,83L74,88M73,113L80,102M63,106L62,97M49,100L60,95M107,74L111,82M107,74L118,65M123,76L117,82M123,76L118,65M117,82L111,82M101,72L107,74M101,72L96,76M96,76L92,84M104,95L111,82M100,63L101,72M100,63L110,54M118,64L118,65M134,76L123,76M121,87L117,82M18,40L19,40M30,28L31,33M19,40L31,33M47,25L35,36M31,33L35,36M139,35L147,33M156,46L156,40M156,40L147,33M175,42L161,34M156,40L161,34M145,20L154,23M147,33L154,23M188,-4L179,7M185,18L179,8M179,7L179,8M171,-8L168,-2M179,7L168,-2M162,-1L167,-1M168,-2L167,-1M48,25L48,25M61,10L63,21M63,21L62,23M48,25L62,23M100,23L86,22M95,11L88,9M86,22L88,9M76,2L78,3M63,21L76,15M76,15L78,3M85,-0L82,3M88,9L82,3M78,3L82,3M81,83L77,71M69,88L69,72M77,71L69,72M44,97L43,88M61,92L56,84M56,84L43,88M161,29L155,23M161,29L174,25M155,23L159,15M174,25L167,14M159,15L166,13M167,14L166,13M161,34L161,29M154,23L155,23M177,26L174,25M153,9L159,15M179,8L167,14M167,-1L166,13M85,34L72,37M85,34L84,23M84,23L81,22M81,22L68,32M72,37L68,34M68,34L68,32M99,30L91,38M91,38L85,34M86,22L84,23M76,15L81,22M62,23L68,32M100,63L94,60M96,76L85,70M85,70L94,60M77,71L78,70M85,70L78,70M69,72L62,70M56,84L56,77M56,77L61,71M61,71L62,70M20,59L29,56M19,40L31,48M31,48L29,56M18,72L21,74M19,85L23,79M21,74L23,79M29,95L32,84M23,79L32,84M43,88L38,82M32,84L38,82M78,70L79,58M94,60L93,58M79,58L93,58M101,47L93,46M93,58L93,46M91,38L91,44M93,46L91,44M49,46L50,41M49,46L43,52M43,52L35,46M49,40L50,41M49,40L38,42M38,42L35,46M59,42L50,41M59,42L62,51M62,51L55,55M55,55L49,46M51,61L55,55M51,61L45,61M45,61L43,52M48,25L49,40M68,34L59,42M35,36L38,42M31,48L35,46M43,62L34,61M43,62L41,76M41,76L41,76M41,76L30,70M34,61L30,70M29,56L34,61M45,61L43,62M56,77L41,76M61,71L51,61M38,82L41,76M21,74L30,70M78,56L79,49M78,56L67,56M63,52L67,56M63,52L74,44M74,44L79,49M79,58L78,56M91,44L79,49M62,70L67,56M62,51L63,52M72,37L74,44" fill="none" stroke="#383878" stroke-opacity="0.3" stroke-width="1.3"/>
</svg>
<rect x="1428.0" y="368.0" width="184.0" height="195.0" fill="#dadada" />
<svg x="1430" y="370" width="180" height="191" overflow="hidden"><rect width="180" height="191" fill="#74715e" filter="url(#pa15)"/>
<path d="M180,189L187,191M180,189L168,192M168,192L165,203M183,49L203,50M183,49L187,28M180,189L180,173M193,172L180,173M187,81L185,71M185,71L185,71M182,94L195,102M182,94L187,81M183,49L183,49M183,49L185,71M182,94L172,99M174,112L195,111M174,112L172,108M172,99L172,108M144,179L161,180M144,179L150,160M161,180L167,169M167,169L158,158M150,160L158,158M168,192L166,191M166,191L161,180M175,168L180,173M175,168L167,169M139,154L138,149M139,154L150,160M160,153L154,138M160,153L158,158M138,149L154,138M131,198L141,192M131,198L121,192M141,192L143,179M143,179L129,172M121,192L117,180M129,172L117,180M166,191L143,194M143,194L141,192M144,179L143,179M139,154L129,162M129,162L129,172M143,194L156,208M5,127L7,121M5,127L22,136M7,121L22,113M22,113L26,133M22,136L26,133M41,111L39,131M41,111L41,110M41,110L24,110M22,113L24,110M26,133L39,131M183,49L182,49M163,74L163,60M163,74L185,71M182,49L163,60M98,147L114,141M98,147L98,162M98,162L110,165M110,165L118,155M118,155L114,141M129,162L118,155M116,179L117,180M116,179L110,165M138,149L130,139M115,140L130,139M115,140L114,141M87,125L93,130M87,125L80,130M93,130L95,145M80,130L76,142M95,145L81,146M81,146L76,142M62,114L57,109M62,114L73,109M57,109L59,90M59,90L66,85M66,85L75,91M75,91L73,109M63,116L80,130M63,116L62,114M87,125L90,111M73,109L90,111M182,156L192,158M182,156L177,147M178,145L177,147M178,145L188,131M175,168L182,156M160,153L177,147M158,131L156,131M158,131L178,145M156,131L154,138M177,123L188,131M177,123L158,131M177,123L174,112M163,74L156,81M172,99L160,91M156,81L160,91M156,131L155,131M130,139L137,129M155,131L137,129M172,108L155,118M155,131L155,118M116,179L103,182M121,192L116,195M116,195L99,192M99,192L103,182M10,189L20,193M10,189L3,175M20,193L20,176M20,176L17,170M17,170L5,172M3,175L5,172M-9,186L3,175M-6,193L10,189M20,193L20,193M20,193L20,201M40,177L20,176M40,177L44,184M20,193L44,184M39,163L27,159M39,163L40,177M17,170L19,166M19,166L27,159M182,49L176,46M160,58L156,44M160,58L163,60M176,46L156,44M192,2L184,14M187,28L184,25M184,25L184,14M39,163L46,158M46,158L61,162M61,162L61,163M44,184L46,185M61,163L46,185M81,159L65,165M81,159L91,169M90,170L90,170M90,170L70,175M70,175L65,165M91,169L90,170M67,143L61,162M67,143L76,142M81,146L81,159M61,163L65,165M98,147L95,145M98,162L91,169M84,189L90,170M84,189L97,194M99,192L97,194M103,182L90,170M44,144L41,133M44,144L45,145M45,145L64,142M41,133L59,130M59,130L64,142M22,136L21,144M39,131L41,133M21,144L25,149M25,149L44,144M46,158L45,145M27,159L25,149M67,143L64,142M41,111L57,109M63,116L59,130M115,140L113,130M93,130L109,127M109,127L113,130M136,126L137,129M136,126L124,116M113,130L124,116M37,63L36,77M37,63L51,65M51,65L44,85M36,77L43,85M44,85L43,85M59,90L44,85M66,85L67,77M53,64L67,77M53,64L51,65M41,110L38,91M38,91L43,85M113,96L108,110M113,96L95,94M95,94L93,95M93,95L91,110M91,110L102,114M102,114L108,110M75,91L86,91M90,111L91,110M86,91L93,95M109,127L102,114M124,114L108,110M124,114L124,116M38,91L21,88M36,77L23,79M23,79L21,88M28,57L19,64M28,57L37,63M23,79L19,64M24,110L15,95M21,88L15,95M128,105L126,95M128,105L143,112M126,95L152,100M152,100L149,111M143,112L149,111M136,126L143,112M124,114L128,105M160,91L152,100M155,118L149,111M122,92L126,95M122,92L119,82M126,95L148,78M119,82L126,69M126,69L147,76M147,76L148,78M113,96L122,92M126,95L126,95M103,74L101,75M103,74L119,82M101,75L95,94M156,81L148,78M144,60L142,56M144,60L147,76M142,56L124,59M124,59L126,69M144,60L160,58M-5,160L6,150M-17,149L-3,131M-2,131L-3,131M-2,131L6,150M6,150L6,150M5,172L-5,160M19,166L6,150M-14,123L-3,131M5,127L-2,131M21,144L6,150M98,206L97,194M116,195L109,207M7,121L-2,101M-13,116L-2,101M9,94L15,95M9,94L-2,99M-2,99L-2,101M-20,45L3,46M5,42L3,46M5,42L2,29M-10,29L2,29M10,-9L-3,1M-3,1L-17,-12M-14,10L-4,4M-4,4L-3,1M160,24L161,7M160,24L184,25M184,14L167,-0M167,-0L161,7M176,46L160,25M160,24L160,24M160,24L160,25M156,44L152,41M160,25L152,41M142,56L146,43M152,41L146,43M104,54L97,52M104,54L110,31M97,52L94,47M94,47L100,30M110,31L100,30M70,180L47,186M70,180L75,191M75,191L74,194M74,194L56,203M56,203L49,193M49,193L47,186M46,185L47,186M70,175L70,180M84,189L75,191M81,206L74,194M26,208L49,193M93,71L84,74M93,71L90,60M90,60L80,57M84,74L75,72M80,57L75,63M75,72L75,63M101,75L93,71M86,91L84,74M104,54L110,58M110,58L103,74M97,52L90,60M78,45L80,57M78,45L78,44M78,44L94,47M67,77L75,72M54,62L66,56M54,62L53,48M58,43L53,48M58,43L68,49M68,49L66,56M53,64L54,62M75,63L66,56M28,57L29,53M39,43L29,53M39,43L53,48M78,45L68,49M12,64L5,81M12,64L6,61M3,62L-4,77M3,62L6,61M-4,77L5,81M19,64L12,64M9,94L5,81M5,42L20,40M3,46L6,61M29,53L20,40M-15,62L3,62M-2,99L-13,92M-4,77L-15,82M39,43L41,28M20,40L24,25M24,25L41,28M139,-4L133,-23M139,-4L131,-1M131,-1L118,-5M119,-15L118,-5M172,-4L181,-20M172,-4L168,-2M168,-2L157,-17M193,-1L172,-4M167,-0L168,-2M161,7L145,3M145,3L142,-2M142,-2L157,-17M139,-4L142,-2M145,3L140,13M160,24L139,19M140,13L139,19M131,-1L130,7M140,13L130,7M114,8L119,15M114,8L117,-3M117,-3L118,-5M130,7L119,15M117,-3L100,-7M102,8L96,27M102,8L95,3M95,3L93,3M93,3L84,16M84,16L86,26M86,26L96,27M114,8L102,8M100,-7L95,3M79,-7L93,3M77,32L86,26M77,32L78,44M100,30L96,27M2,29L7,22M24,25L23,25M23,25L7,22M-4,4L7,19M7,22L7,19M23,25L26,7M7,19L21,3M26,7L21,3M18,-5L21,3M58,43L60,28M41,28L46,24M46,24L60,28M77,32L62,27M60,28L62,27M112,31L121,25M112,31L120,56M121,25L129,27M129,27L134,37M134,37L121,56M120,56L121,56M110,31L112,31M119,15L121,25M110,58L120,56M139,19L129,27M146,43L134,37M124,59L121,56M26,7L40,6M40,6L39,-8M46,24L45,10M40,6L45,10M55,2L54,-10M55,2L69,7M75,-5L69,6M75,-5L58,-14M69,6L69,7M45,10L55,2M62,27L69,7M79,-7L75,-5M84,16L69,6" fill="none" stroke="#30306e" stroke-opacity="0.5" stroke-width="1.4"/>
</svg>
<line x1="1557.0" y1="322.0" x2="1600.0" y2="322.0" stroke="#f4f4f4" stroke-width="3"/>
<line x1="1559.0" y1="538.0" x2="1600.0" y2="538.0" stroke="#f4f4f4" stroke-width="3"/>
<text x="1558.1" y="333.1" font-family='"Liberation Serif", serif' font-weight="normal" font-size="9.11" textLength="40.1" lengthAdjust="spacingAndGlyphs" fill="#ddd" >50 µm</text>
<text x="1559.1" y="549.8" font-family='"Liberation Serif", serif' font-weight="normal" font-size="10.25" textLength="39.1" lengthAdjust="spacingAndGlyphs" fill="#ddd" >50 µm</text>
<text x="503.4" y="147.6" font-family='"Liberation Serif", serif' font-weight="normal" font-size="44.06" textLength="68.6" lengthAdjust="spacingAndGlyphs" fill="#222" >mock</text>
<text x="731.6" y="146.6" font-family='"Liberation Serif", serif' font-weight="normal" font-size="41.49" textLength="18.9" lengthAdjust="spacingAndGlyphs" fill="#222" >0</text>
<text x="915.6" y="146.6" font-family='"Liberation Serif", serif' font-weight="normal" font-size="41.67" textLength="31.6" lengthAdjust="spacingAndGlyphs" fill="#222" >25</text>
<text x="1109.1" y="146.6" font-family='"Liberation Serif", serif' font-weight="normal" font-size="41.49" textLength="33.2" lengthAdjust="spacingAndGlyphs" fill="#222" >50</text>
<text x="1300.3" y="146.6" font-family='"Liberation Serif", serif' font-weight="normal" font-size="40.01" textLength="45.9" lengthAdjust="spacingAndGlyphs" fill="#222" >100</text>
<text x="1495.6" y="146.6" font-family='"Liberation Serif", serif' font-weight="normal" font-size="40.01" textLength="48.7" lengthAdjust="spacingAndGlyphs" fill="#222" >200</text>
<text x="1655.0" y="146.5" font-family='"Liberation Serif", serif' font-weight="normal" font-size="39.57" textLength="72.6" lengthAdjust="spacingAndGlyphs" fill="#222" >µg/ml</text>
<text x="1656.4" y="278.0" font-family='"Liberation Serif", serif' font-weight="normal" font-size="38.91" textLength="52.0" lengthAdjust="spacingAndGlyphs" fill="#222" >12 h</text>
<text x="1654.7" y="471.0" font-family='"Liberation Serif", serif' font-weight="normal" font-size="38.91" textLength="53.8" lengthAdjust="spacingAndGlyphs" fill="#222" >24 h</text>
<text x="1962.9" y="206.3" font-family='"Liberation Serif", serif' font-weight="normal" font-size="68.22" textLength="121.1" lengthAdjust="spacingAndGlyphs" fill="#000" >mock</text>
<text x="2134.7" y="206.3" font-family='"Liberation Serif", serif' font-weight="normal" font-size="71.13" textLength="30.7" lengthAdjust="spacingAndGlyphs" fill="#000" >0</text>
<text x="2245.5" y="206.3" font-family='"Liberation Serif", serif' font-weight="normal" font-size="71.44" textLength="57.8" lengthAdjust="spacingAndGlyphs" fill="#000" >25</text>
<text x="2372.7" y="206.3" font-family='"Liberation Serif", serif' font-weight="normal" font-size="71.13" textLength="57.5" lengthAdjust="spacingAndGlyphs" fill="#000" >50</text>
<text x="2480.0" y="206.3" font-family='"Liberation Serif", serif' font-weight="normal" font-size="71.13" textLength="85.2" lengthAdjust="spacingAndGlyphs" fill="#000" >100</text>
<text x="2609.5" y="206.3" font-family='"Liberation Serif", serif' font-weight="normal" font-size="71.13" textLength="84.6" lengthAdjust="spacingAndGlyphs" fill="#000" >200</text>
<text x="2751.3" y="207.8" font-family='"Liberation Serif", serif' font-weight="normal" font-size="70.36" textLength="130.8" lengthAdjust="spacingAndGlyphs" fill="#000" >µg/ml</text>
<text x="2750.6" y="321.1" font-family='"Liberation Serif", serif' font-weight="normal" font-size="59.73" textLength="64.0" lengthAdjust="spacingAndGlyphs" fill="#000" >gB</text>
<text x="2751.1" y="472.4" font-family='"Liberation Serif", serif' font-weight="normal" font-size="64.00" textLength="106.8" lengthAdjust="spacingAndGlyphs" fill="#000" >actin</text>
<rect x="1963.0" y="260.0" width="766.0" height="104.0" fill="#5a5a5a" />
<rect x="1966.0" y="263.0" width="760.0" height="98.0" fill="#d0d0d0" />
<rect x="1963.0" y="385.0" width="766.0" height="123.0" fill="#5a5a5a" />
<rect x="1966.0" y="388.0" width="760.0" height="117.0" fill="#dadada" />
<g clip-path="url(#cgb)"><g filter="url(#blur4)">
<path d="M2004,322 C2030,318 2060,320 2088,322 L2090,336 C2060,338 2030,336 2004,332 Z" fill="#a8a8a8"/>
<ellipse cx="2075" cy="328" rx="13" ry="8" fill="#333"/>
<path d="M2107,250 L2190,250 C2196,280 2204,300 2202,330 L2196,370 L2110,370 C2104,340 2098,320 2102,300 C2104,280 2104,270 2107,250 Z" fill="#000"/>
<path d="M2231,250 L2314,250 C2322,270 2334,290 2337,315 C2336,335 2330,350 2320,354 L2240,354 C2230,340 2222,330 2218,315 C2220,295 2226,270 2231,250 Z" fill="#020202"/>
<path d="M2202,300 L2220,300 L2220,345 L2202,345 Z" fill="#444"/>
<path d="M2352,286 C2380,282 2420,282 2450,288 L2452,304 C2420,302 2380,302 2352,304 Z" fill="#888" filter="url(#blur4)"/>
<path d="M2354,300 C2380,296 2420,296 2452,302 L2450,326 C2420,330 2390,330 2380,334 C2365,332 2356,324 2354,300 Z" fill="#080808"/>
<path d="M2470,300 C2500,296 2550,296 2578,300 L2576,326 C2550,330 2500,330 2472,326 Z" fill="#6e6e6e"/>
<path d="M2612,300 C2635,295 2670,295 2692,300 L2692,314 C2670,317 2635,317 2612,314 Z" fill="#a4a4a4"/>
</g></g>
<g clip-path="url(#cac)"><g filter="url(#blur4)">
<rect x="1976" y="435.5" width="110" height="29" rx="14" fill="#3c3c3c"/>
<rect x="2104" y="435.5" width="97" height="29" rx="14" fill="#3c3c3c"/>
<rect x="2221" y="435.5" width="105" height="29" rx="14" fill="#262626"/>
<rect x="2348" y="436.5" width="103" height="27" rx="14" fill="#4c4c4c"/>
<rect x="2473" y="434.5" width="114" height="31" rx="14" fill="#1c1c1c"/>
<rect x="2603" y="432.5" width="117" height="35" rx="14" fill="#060606"/>
</g></g>
<text x="2160.2" y="659.9" font-family='"Liberation Serif", serif' font-weight="normal" font-size="49.84" textLength="143.9" lengthAdjust="spacingAndGlyphs" fill="#111" >DAPI</text>
<text x="2457.2" y="659.5" font-family='"Liberation Serif", serif' font-weight="normal" font-size="49.12" textLength="136.3" lengthAdjust="spacingAndGlyphs" fill="#111" >FITC</text>
<text x="2736.2" y="657.8" font-family='"Liberation Serif", serif' font-weight="normal" font-size="47.09" textLength="160.9" lengthAdjust="spacingAndGlyphs" fill="#111" >Merge</text>
<text x="1887.2" y="761.5" font-family='"Liberation Serif", serif' font-weight="normal" font-size="48.32" textLength="138.3" lengthAdjust="spacingAndGlyphs" fill="#111" >mock</text>
<text x="1864.1" y="934.8" font-family='"Liberation Serif", serif' font-weight="normal" font-size="58.81" textLength="182.7" lengthAdjust="spacingAndGlyphs" fill="#111" >0µg/ml</text>
<text x="1841.9" y="1108.6" font-family='"Liberation Serif", serif' font-weight="normal" font-size="59.91" textLength="209.9" lengthAdjust="spacingAndGlyphs" fill="#111" >25µg/ml</text>
<text x="1849.1" y="1279.7" font-family='"Liberation Serif", serif' font-weight="normal" font-size="61.56" textLength="212.2" lengthAdjust="spacingAndGlyphs" fill="#111" >50µg/ml</text>
<text x="1834.5" y="1450.6" font-family='"Liberation Serif", serif' font-weight="normal" font-size="52.77" textLength="242.7" lengthAdjust="spacingAndGlyphs" fill="#111" >100µg/ml</text>
<text x="1833.2" y="1623.1" font-family='"Liberation Serif", serif' font-weight="normal" font-size="50.57" textLength="245.0" lengthAdjust="spacingAndGlyphs" fill="#111" >200µg/ml</text>
<rect x="2093.5" y="669.5" width="279.0" height="163.0" fill="#c8c8c8" />
<g transform="translate(2095,671)"><rect width="276" height="160" fill="#010104"/>
<g>
<rect width="276" height="160" fill="#000" filter="url(#sblue)"/>
</g>
</g>
<rect x="2383.5" y="669.5" width="283.0" height="163.0" fill="#c8c8c8" />
<g transform="translate(2385,671)"><rect width="280" height="160" fill="#010104"/>
<g>
</g>
</g>
<rect x="2675.5" y="669.5" width="282.0" height="163.0" fill="#c8c8c8" />
<g transform="translate(2677,671)"><rect width="279" height="160" fill="#010104"/>
<g>
<rect width="279" height="160" fill="#000" filter="url(#sblue)"/>
</g>
</g>
<rect x="2093.5" y="843.5" width="279.0" height="163.0" fill="#c8c8c8" />
<g transform="translate(2095,845)"><rect width="276" height="160" fill="#010104"/>
<g mask="url(#hm1)">
<rect width="276" height="160" fill="#000" filter="url(#sblue2)"/>
<rect width="276" height="160" fill="#000" filter="url(#dpatch)"/>
</g>
</g>
<rect x="2383.5" y="843.5" width="283.0" height="163.0" fill="#c8c8c8" />
<g transform="translate(2385,845)"><rect width="280" height="160" fill="#010104"/>
<g mask="url(#hm1)">
<g><rect width="280" height="160" fill="#000" filter="url(#sgreen1)"/>
</g>
</g>
</g>
<rect x="2675.5" y="843.5" width="282.0" height="163.0" fill="#c8c8c8" />
<g transform="translate(2677,845)"><rect width="279" height="160" fill="#010104"/>
<g mask="url(#hm1)">
<rect width="279" height="160" fill="#000" filter="url(#sblue2)"/>
<g style="mix-blend-mode:screen" opacity="0.8"><rect width="279" height="160" fill="#000" filter="url(#sgreen1)"/>
</g>
</g>
</g>
<rect x="2093.5" y="1016.5" width="279.0" height="163.0" fill="#c8c8c8" />
<g transform="translate(2095,1018)"><rect width="276" height="160" fill="#010104"/>
<g mask="url(#hm2)">
<rect width="276" height="160" fill="#000" filter="url(#sblue)"/>
<rect width="276" height="160" fill="#000" filter="url(#dpatch)"/>
</g>
</g>
<rect x="2383.5" y="1016.5" width="283.0" height="163.0" fill="#c8c8c8" />
<g transform="translate(2385,1018)"><rect width="280" height="160" fill="#010104"/>
<g mask="url(#hm2)">
<g><rect width="280" height="160" fill="#000" filter="url(#sgreen2)"/>
<rect width="280" height="160" fill="url(#g25)"/>
</g>
</g>
</g>
<rect x="2675.5" y="1016.5" width="282.0" height="163.0" fill="#c8c8c8" />
<g transform="translate(2677,1018)"><rect width="279" height="160" fill="#010104"/>
<g mask="url(#hm2)">
<rect width="279" height="160" fill="#000" filter="url(#sblue)"/>
<g style="mix-blend-mode:screen" opacity="0.8"><rect width="279" height="160" fill="#000" filter="url(#sgreen2)"/>
<rect width="279" height="160" fill="url(#g25)"/>
</g>
</g>
</g>
<rect x="2093.5" y="1186.5" width="279.0" height="166.0" fill="#c8c8c8" />
<g transform="translate(2095,1188)"><rect width="276" height="163" fill="#010104"/>
<g mask="url(#hm3)">
<rect width="276" height="163" fill="#000" filter="url(#sblue2)"/>
<rect width="276" height="163" fill="#000" filter="url(#dpatch)"/>
</g>
</g>
<rect x="2383.5" y="1186.5" width="283.0" height="166.0" fill="#c8c8c8" />
<g transform="translate(2385,1188)"><rect width="280" height="163" fill="#010104"/>
<g mask="url(#hm3)">
<g><rect width="280" height="163" fill="#000" filter="url(#sgreen3)"/>
<rect width="280" height="163" fill="url(#g50a)"/><rect width="280" height="163" fill="url(#g50b)"/>
</g>
</g>
</g>
<rect x="2675.5" y="1186.5" width="282.0" height="166.0" fill="#c8c8c8" />
<g transform="translate(2677,1188)"><rect width="279" height="163" fill="#010104"/>
<g mask="url(#hm3)">
<rect width="279" height="163" fill="#000" filter="url(#sblue2)"/>
<g style="mix-blend-mode:screen" opacity="0.8"><rect width="279" height="163" fill="#000" filter="url(#sgreen3)"/>
<rect width="279" height="163" fill="url(#g50a)"/><rect width="279" height="163" fill="url(#g50b)"/>
</g>
</g>
</g>
<rect x="2093.5" y="1360.5" width="279.0" height="163.0" fill="#c8c8c8" />
<g transform="translate(2095,1362)"><rect width="276" height="160" fill="#010104"/>
<g>
<rect width="276" height="160" fill="#000" filter="url(#sblue)" mask="url(#hm4)"/>
</g>
</g>
<rect x="2383.5" y="1360.5" width="283.0" height="163.0" fill="#c8c8c8" />
<g transform="translate(2385,1362)"><rect width="280" height="160" fill="#010104"/>
<g>
</g>
<g><path d="M135,50 L150,47 L157,45 L173,43 L177,54 L184,57 L181,68 L189,78 L181,84 L179,95 L170,100 L160,101 L146,99 L130,93 L122,76 L130,76 L137,81 L146,78 L154,68 L153,58 L142,54 Z" fill="#0a8a0a" filter="url(#hb)"/><rect width="280" height="160" fill="#000" filter="url(#sgreen3)" mask="url(#blobm)"/></g>
</g>
<rect x="2675.5" y="1360.5" width="282.0" height="163.0" fill="#c8c8c8" />
<g transform="translate(2677,1362)"><rect width="279" height="160" fill="#010104"/>
<g>
<rect width="279" height="160" fill="#000" filter="url(#sblue)" mask="url(#hm4)"/>
</g>
<g style="mix-blend-mode:screen"><path d="M135,50 L150,47 L157,45 L173,43 L177,54 L184,57 L181,68 L189,78 L181,84 L179,95 L170,100 L160,101 L146,99 L130,93 L122,76 L130,76 L137,81 L146,78 L154,68 L153,58 L142,54 Z" fill="#0a8a0a" filter="url(#hb)"/><rect width="279" height="160" fill="#000" filter="url(#sgreen3)" mask="url(#blobm)"/></g>
</g>
<rect x="2093.5" y="1533.5" width="279.0" height="163.0" fill="#c8c8c8" />
<g transform="translate(2095,1535)"><rect width="276" height="160" fill="#010104"/>
<g>
<rect width="276" height="160" fill="#000" filter="url(#sblue2)"/>
</g>
</g>
<rect x="2383.5" y="1533.5" width="283.0" height="163.0" fill="#c8c8c8" />
<g transform="translate(2385,1535)"><rect width="280" height="160" fill="#010104"/>
<g>
</g>
</g>
<rect x="2675.5" y="1533.5" width="282.0" height="163.0" fill="#c8c8c8" />
<g transform="translate(2677,1535)"><rect width="279" height="160" fill="#010104"/>
<g>
<rect width="279" height="160" fill="#000" filter="url(#sblue2)"/>
</g>
</g>
<line x1="2877.0" y1="1659.0" x2="2948.0" y2="1659.0" stroke="#fff" stroke-width="4"/>
<text x="2870.8" y="1684.2" font-family='"Liberation Sans", sans-serif' font-weight="normal" font-size="23.18" textLength="82.9" lengthAdjust="spacingAndGlyphs" fill="#fff" >250 µm</text>
<rect x="698.3" y="791.0" width="74.0" height="299.0" fill="#a09fa4" />
<rect x="800.1" y="884.0" width="74.0" height="206.0" fill="#818181" />
<rect x="901.9" y="914.5" width="74.0" height="175.5" fill="#d6d6d6" />
<rect x="1003.7" y="1022.0" width="74.0" height="68.0" fill="#636363" />
<rect x="1105.5" y="1065.0" width="74.0" height="25.0" fill="#a09fa4" />
<line x1="719.8" y1="792.5" x2="751.8" y2="792.5" stroke="#2a2a2a" stroke-width="3.5"/>
<line x1="821.6" y1="880.5" x2="853.6" y2="880.5" stroke="#2a2a2a" stroke-width="3.5"/>
<line x1="923.4" y1="915.0" x2="955.4" y2="915.0" stroke="#2a2a2a" stroke-width="3.5"/>
<line x1="1025.2" y1="1024.0" x2="1057.2" y2="1024.0" stroke="#2a2a2a" stroke-width="3.5"/>
<line x1="1127.0" y1="1066.5" x2="1159.0" y2="1066.5" stroke="#2a2a2a" stroke-width="3.5"/>
<line x1="566.0" y1="709.4" x2="566.0" y2="1092.0" stroke="#000" stroke-width="2.5"/>
<line x1="563.0" y1="1089.5" x2="1213.0" y2="1089.5" stroke="#000" stroke-width="4.5"/>
<line x1="554.0" y1="710.4" x2="566.0" y2="710.4" stroke="#000" stroke-width="3"/>
<line x1="554.0" y1="805.8" x2="566.0" y2="805.8" stroke="#000" stroke-width="3"/>
<line x1="554.0" y1="901.2" x2="566.0" y2="901.2" stroke="#000" stroke-width="3"/>
<line x1="554.0" y1="996.6" x2="566.0" y2="996.6" stroke="#000" stroke-width="3"/>
<line x1="554.0" y1="1092.0" x2="566.0" y2="1092.0" stroke="#000" stroke-width="3"/>
<line x1="632.0" y1="1091.0" x2="632.0" y2="1100.0" stroke="#000" stroke-width="4"/>
<line x1="733.8" y1="1091.0" x2="733.8" y2="1100.0" stroke="#000" stroke-width="4"/>
<line x1="835.6" y1="1091.0" x2="835.6" y2="1100.0" stroke="#000" stroke-width="4"/>
<line x1="937.4" y1="1091.0" x2="937.4" y2="1100.0" stroke="#000" stroke-width="4"/>
<line x1="1039.2" y1="1091.0" x2="1039.2" y2="1100.0" stroke="#000" stroke-width="4"/>
<line x1="1141.0" y1="1091.0" x2="1141.0" y2="1100.0" stroke="#000" stroke-width="4"/>
<text x="531.0" y="720.9" font-family='"Liberation Sans", sans-serif' font-weight="bold" font-size="30.52" textLength="17.1" lengthAdjust="spacingAndGlyphs" fill="#000" >4</text>
<text x="530.7" y="816.0" font-family='"Liberation Sans", sans-serif' font-weight="bold" font-size="29.60" textLength="18.5" lengthAdjust="spacingAndGlyphs" fill="#000" >3</text>
<text x="530.3" y="911.7" font-family='"Liberation Sans", sans-serif' font-weight="bold" font-size="30.08" textLength="19.1" lengthAdjust="spacingAndGlyphs" fill="#000" >2</text>
<text x="529.3" y="1007.1" font-family='"Liberation Sans", sans-serif' font-weight="bold" font-size="30.52" textLength="19.7" lengthAdjust="spacingAndGlyphs" fill="#000" >1</text>
<text x="530.1" y="1102.2" font-family='"Liberation Sans", sans-serif' font-weight="bold" font-size="29.66" textLength="19.3" lengthAdjust="spacingAndGlyphs" fill="#000" >0</text>
<text x="588.8" y="1130.7" font-family='"Liberation Sans", sans-serif' font-weight="bold" font-size="27.23" textLength="87.2" lengthAdjust="spacingAndGlyphs" fill="#000" >mock</text>
<text x="724.7" y="1130.7" font-family='"Liberation Sans", sans-serif' font-weight="bold" font-size="26.84" textLength="18.7" lengthAdjust="spacingAndGlyphs" fill="#000" >0</text>
<text x="818.9" y="1130.7" font-family='"Liberation Sans", sans-serif' font-weight="bold" font-size="26.84" textLength="36.0" lengthAdjust="spacingAndGlyphs" fill="#000" >25</text>
<text x="921.0" y="1130.7" font-family='"Liberation Sans", sans-serif' font-weight="bold" font-size="26.84" textLength="36.3" lengthAdjust="spacingAndGlyphs" fill="#000" >50</text>
<text x="1014.0" y="1130.7" font-family='"Liberation Sans", sans-serif' font-weight="bold" font-size="26.84" textLength="53.3" lengthAdjust="spacingAndGlyphs" fill="#000" >100</text>
<text x="1113.8" y="1130.7" font-family='"Liberation Sans", sans-serif' font-weight="bold" font-size="26.84" textLength="55.5" lengthAdjust="spacingAndGlyphs" fill="#000" >200</text>
<text x="801.4" y="862.1" font-family='"Liberation Sans", sans-serif' font-weight="normal" font-size="25.64" textLength="58.2" lengthAdjust="spacingAndGlyphs" fill="#3a3a3a" >****</text>
<text x="911.4" y="902.1" font-family='"Liberation Sans", sans-serif' font-weight="normal" font-size="25.64" textLength="58.2" lengthAdjust="spacingAndGlyphs" fill="#3a3a3a" >****</text>
<text x="1012.4" y="1015.1" font-family='"Liberation Sans", sans-serif' font-weight="normal" font-size="25.64" textLength="57.2" lengthAdjust="spacingAndGlyphs" fill="#3a3a3a" >****</text>
<text x="1113.4" y="1037.1" font-family='"Liberation Sans", sans-serif' font-weight="normal" font-size="25.64" textLength="58.2" lengthAdjust="spacingAndGlyphs" fill="#3a3a3a" >****</text>
<text x="535.4" y="1189.2" font-family='"Liberation Serif", serif' font-weight="bold" font-size="30.62" textLength="708.3" lengthAdjust="spacingAndGlyphs" fill="#000" >Huaier polysaccharide concentration(µg/ml)</text>
<text transform="rotate(-90)" x="-1093.6" y="510.8" font-family='"Liberation Serif", serif' font-weight="bold" font-size="32.80" textLength="390.0" lengthAdjust="spacingAndGlyphs" fill="#333">Relative intensity(gB/actin)</text>
<rect x="1305.0" y="725.0" width="53.0" height="24.0" fill="#000" />
<text x="1378.7" y="748.2" font-family='"Liberation Sans", sans-serif' font-size="32.70" textLength="83.3" lengthAdjust="spacingAndGlyphs" fill="#111">mock</text>
<rect x="1305.0" y="775.0" width="53.0" height="25.0" fill="#a09fa4" />
<text x="1379.6" y="798.8" font-family='"Liberation Sans", sans-serif' font-size="32.70" textLength="19.4" lengthAdjust="spacingAndGlyphs" fill="#111">0</text>
<rect x="1305.0" y="826.0" width="53.0" height="25.0" fill="#818181" />
<text x="1379.2" y="849.8" font-family='"Liberation Sans", sans-serif' font-size="32.70" textLength="38.8" lengthAdjust="spacingAndGlyphs" fill="#111">25</text>
<rect x="1305.0" y="877.0" width="53.0" height="25.0" fill="#d6d6d6" />
<text x="1379.6" y="900.8" font-family='"Liberation Sans", sans-serif' font-size="32.70" textLength="38.8" lengthAdjust="spacingAndGlyphs" fill="#111">50</text>
<rect x="1305.0" y="928.0" width="53.0" height="26.0" fill="#636363" />
<text x="1378.3" y="952.2" font-family='"Liberation Sans", sans-serif' font-size="32.70" textLength="58.1" lengthAdjust="spacingAndGlyphs" fill="#111">100</text>
<rect x="1305.0" y="980.0" width="53.0" height="25.0" fill="#a09fa4" />
<text x="1379.2" y="1003.8" font-family='"Liberation Sans", sans-serif' font-size="32.70" textLength="58.1" lengthAdjust="spacingAndGlyphs" fill="#111">200</text>
<rect x="703.5" y="1449.0" width="73.0" height="343.0" fill="#a09fa4" />
<rect x="805.5" y="1557.5" width="73.0" height="234.5" fill="#818181" />
<rect x="907.5" y="1592.0" width="73.0" height="200.0" fill="#d6d6d6" />
<rect x="1009.5" y="1636.0" width="73.0" height="156.0" fill="#636363" />
<rect x="1111.5" y="1677.5" width="73.0" height="114.5" fill="#a09fa4" />
<line x1="725.0" y1="1434.0" x2="757.0" y2="1434.0" stroke="#1a1a1a" stroke-width="4"/>
<line x1="741.0" y1="1434.0" x2="741.0" y2="1451.0" stroke="#1a1a1a" stroke-width="3"/>
<line x1="827.0" y1="1542.0" x2="859.0" y2="1542.0" stroke="#1a1a1a" stroke-width="4"/>
<line x1="843.0" y1="1542.0" x2="843.0" y2="1559.5" stroke="#1a1a1a" stroke-width="3"/>
<line x1="929.0" y1="1579.0" x2="961.0" y2="1579.0" stroke="#1a1a1a" stroke-width="4"/>
<line x1="945.0" y1="1579.0" x2="945.0" y2="1594.0" stroke="#1a1a1a" stroke-width="3"/>
<line x1="1031.0" y1="1610.0" x2="1063.0" y2="1610.0" stroke="#1a1a1a" stroke-width="4"/>
<line x1="1047.0" y1="1610.0" x2="1047.0" y2="1638.0" stroke="#1a1a1a" stroke-width="3"/>
<line x1="1133.0" y1="1651.0" x2="1165.0" y2="1651.0" stroke="#1a1a1a" stroke-width="4"/>
<line x1="1149.0" y1="1651.0" x2="1149.0" y2="1679.5" stroke="#1a1a1a" stroke-width="3"/>
<line x1="569.0" y1="1361.0" x2="569.0" y2="1794.0" stroke="#000" stroke-width="3"/>
<line x1="565.0" y1="1794.5" x2="1220.0" y2="1794.5" stroke="#000" stroke-width="4.5"/>
<line x1="558.0" y1="1362.0" x2="569.0" y2="1362.0" stroke="#000" stroke-width="3"/>
<line x1="558.0" y1="1506.0" x2="569.0" y2="1506.0" stroke="#000" stroke-width="3"/>
<line x1="558.0" y1="1650.0" x2="569.0" y2="1650.0" stroke="#000" stroke-width="3"/>
<line x1="558.0" y1="1794.0" x2="569.0" y2="1794.0" stroke="#000" stroke-width="3"/>
<line x1="638.0" y1="1795.0" x2="638.0" y2="1806.0" stroke="#000" stroke-width="4"/>
<line x1="740.0" y1="1795.0" x2="740.0" y2="1806.0" stroke="#000" stroke-width="4"/>
<line x1="842.0" y1="1795.0" x2="842.0" y2="1806.0" stroke="#000" stroke-width="4"/>
<line x1="944.0" y1="1795.0" x2="944.0" y2="1806.0" stroke="#000" stroke-width="4"/>
<line x1="1046.0" y1="1795.0" x2="1046.0" y2="1806.0" stroke="#000" stroke-width="4"/>
<line x1="1148.0" y1="1795.0" x2="1148.0" y2="1806.0" stroke="#000" stroke-width="4"/>
<text x="533.7" y="1372.2" font-family='"Liberation Sans", sans-serif' font-weight="bold" font-size="29.66" textLength="19.6" lengthAdjust="spacingAndGlyphs" fill="#000" >6</text>
<text x="534.5" y="1516.5" font-family='"Liberation Sans", sans-serif' font-weight="bold" font-size="30.52" textLength="17.7" lengthAdjust="spacingAndGlyphs" fill="#000" >4</text>
<text x="533.8" y="1660.5" font-family='"Liberation Sans", sans-serif' font-weight="bold" font-size="30.08" textLength="19.6" lengthAdjust="spacingAndGlyphs" fill="#000" >2</text>
<text x="533.6" y="1804.2" font-family='"Liberation Sans", sans-serif' font-weight="bold" font-size="29.66" textLength="19.9" lengthAdjust="spacingAndGlyphs" fill="#000" >0</text>
<text x="822.4" y="1530.1" font-family='"Liberation Sans", sans-serif' font-weight="normal" font-size="28.48" textLength="43.2" lengthAdjust="spacingAndGlyphs" fill="#3a3a3a" >***</text>
<text x="910.4" y="1560.6" font-family='"Liberation Sans", sans-serif' font-weight="normal" font-size="28.48" textLength="59.2" lengthAdjust="spacingAndGlyphs" fill="#3a3a3a" >****</text>
<text x="1022.4" y="1595.6" font-family='"Liberation Sans", sans-serif' font-weight="normal" font-size="28.48" textLength="59.2" lengthAdjust="spacingAndGlyphs" fill="#3a3a3a" >****</text>
<text x="1118.4" y="1627.2" font-family='"Liberation Sans", sans-serif' font-weight="normal" font-size="28.48" textLength="59.2" lengthAdjust="spacingAndGlyphs" fill="#3a3a3a" >****</text>
<text x="539.4" y="1952.2" font-family='"Liberation Serif", serif' font-weight="bold" font-size="30.62" textLength="709.3" lengthAdjust="spacingAndGlyphs" fill="#000" >Huaier polysaccharide concentration(µg/ml)</text>
<rect x="1312.0" y="1378.0" width="53.0" height="29.0" fill="#000" />
<text x="1385.6" y="1404.2" font-family='"Liberation Sans", sans-serif' font-size="34.16" textLength="85.0" lengthAdjust="spacingAndGlyphs" fill="#111">mock</text>
<rect x="1312.0" y="1436.0" width="53.0" height="29.0" fill="#a09fa4" />
<text x="1386.6" y="1462.2" font-family='"Liberation Sans", sans-serif' font-size="34.16" textLength="19.8" lengthAdjust="spacingAndGlyphs" fill="#111">0</text>
<rect x="1312.0" y="1494.0" width="53.0" height="29.0" fill="#818181" />
<text x="1386.2" y="1520.2" font-family='"Liberation Sans", sans-serif' font-size="34.16" textLength="39.6" lengthAdjust="spacingAndGlyphs" fill="#111">25</text>
<rect x="1312.0" y="1552.0" width="53.0" height="30.0" fill="#d6d6d6" />
<text x="1386.6" y="1578.8" font-family='"Liberation Sans", sans-serif' font-size="34.16" textLength="39.6" lengthAdjust="spacingAndGlyphs" fill="#111">50</text>
<rect x="1312.0" y="1611.0" width="53.0" height="29.0" fill="#636363" />
<text x="1385.3" y="1637.2" font-family='"Liberation Sans", sans-serif' font-size="34.16" textLength="59.4" lengthAdjust="spacingAndGlyphs" fill="#111">100</text>
<rect x="1312.0" y="1669.0" width="53.0" height="29.0" fill="#a09fa4" />
<text x="1386.2" y="1695.2" font-family='"Liberation Sans", sans-serif' font-size="34.16" textLength="59.4" lengthAdjust="spacingAndGlyphs" fill="#111">200</text>
<text text-anchor="end" transform="translate(647.0,1836.0) rotate(-45)" font-family='"Liberation Sans", sans-serif' font-weight="bold" font-size="31" fill="#111">mock</text>
<text text-anchor="end" transform="translate(749.0,1836.0) rotate(-45)" font-family='"Liberation Sans", sans-serif' font-weight="bold" font-size="31" fill="#111">0</text>
<text text-anchor="end" transform="translate(851.0,1836.0) rotate(-45)" font-family='"Liberation Sans", sans-serif' font-weight="bold" font-size="31" fill="#111">25</text>
<text text-anchor="end" transform="translate(953.0,1836.0) rotate(-45)" font-family='"Liberation Sans", sans-serif' font-weight="bold" font-size="31" fill="#111">50</text>
<text text-anchor="end" transform="translate(1055.0,1836.0) rotate(-45)" font-family='"Liberation Sans", sans-serif' font-weight="bold" font-size="31" fill="#111">100</text>
<text text-anchor="end" transform="translate(1157.0,1836.0) rotate(-45)" font-family='"Liberation Sans", sans-serif' font-weight="bold" font-size="31" fill="#111">200</text>
<text transform="translate(509,1749) rotate(-90)" font-family='"Liberation Serif", serif' font-weight="bold" font-size="31" textLength="345" lengthAdjust="spacingAndGlyphs" fill="#333">Titer(-logTCID<tspan font-size="21" dy="6">50</tspan><tspan dy="-6">/ml)</tspan></text>
<rect x="461.2" y="2175.0" width="85.0" height="388.0" fill="#a09fa4" />
<rect x="579.4" y="2325.5" width="85.0" height="237.5" fill="#818181" />
<rect x="697.6" y="2542.0" width="85.0" height="21.0" fill="#d6d6d6" />
<rect x="815.8" y="2559.0" width="85.0" height="4.0" fill="#636363" />
<line x1="482.7" y1="2168.0" x2="523.7" y2="2168.0" stroke="#111" stroke-width="5"/>
<line x1="503.2" y1="2168.0" x2="503.2" y2="2177.0" stroke="#111" stroke-width="4"/>
<line x1="600.9" y1="2312.0" x2="641.9" y2="2312.0" stroke="#111" stroke-width="5"/>
<line x1="621.4" y1="2312.0" x2="621.4" y2="2327.5" stroke="#111" stroke-width="4"/>
<line x1="727.6" y1="2543.0" x2="749.6" y2="2543.0" stroke="#111" stroke-width="3.5"/>
<line x1="841.8" y1="2561.0" x2="873.8" y2="2561.0" stroke="#333" stroke-width="3"/>
<line x1="324.5" y1="2117.0" x2="324.5" y2="2565.0" stroke="#555" stroke-width="4"/>
<line x1="311.0" y1="2563.5" x2="1036.0" y2="2563.5" stroke="#000" stroke-width="4.5"/>
<line x1="311.0" y1="2120.0" x2="324.5" y2="2120.0" stroke="#333" stroke-width="3.5"/>
<line x1="311.0" y1="2268.9" x2="324.5" y2="2268.9" stroke="#333" stroke-width="3.5"/>
<line x1="311.0" y1="2417.8" x2="324.5" y2="2417.8" stroke="#333" stroke-width="3.5"/>
<line x1="384.0" y1="2564.0" x2="384.0" y2="2577.0" stroke="#000" stroke-width="4"/>
<line x1="502.2" y1="2564.0" x2="502.2" y2="2577.0" stroke="#000" stroke-width="4"/>
<line x1="620.4" y1="2564.0" x2="620.4" y2="2577.0" stroke="#000" stroke-width="4"/>
<line x1="738.6" y1="2564.0" x2="738.6" y2="2577.0" stroke="#000" stroke-width="4"/>
<line x1="856.8" y1="2564.0" x2="856.8" y2="2577.0" stroke="#000" stroke-width="4"/>
<line x1="975.0" y1="2564.0" x2="975.0" y2="2577.0" stroke="#000" stroke-width="4"/>
<text x="287.6" y="2119.3" font-family='"Liberation Sans", sans-serif' font-weight="normal" font-size="22.60" textLength="24.9" lengthAdjust="spacingAndGlyphs" fill="#333" >06</text>
<text x="242.7" y="2131.2" font-family='"Liberation Sans", sans-serif' font-weight="bold" font-size="33.90" textLength="40.0" lengthAdjust="spacingAndGlyphs" fill="#111" >10</text>
<text x="223.4" y="2132.2" font-family='"Liberation Sans", sans-serif' font-weight="normal" font-size="29.13" textLength="16.5" lengthAdjust="spacingAndGlyphs" fill="#444" >×</text>
<text x="202.4" y="2131.2" font-family='"Liberation Sans", sans-serif' font-weight="bold" font-size="33.90" textLength="18.6" lengthAdjust="spacingAndGlyphs" fill="#111" >6</text>
<text x="287.6" y="2268.2" font-family='"Liberation Sans", sans-serif' font-weight="normal" font-size="22.60" textLength="24.9" lengthAdjust="spacingAndGlyphs" fill="#333" >06</text>
<text x="242.7" y="2280.1" font-family='"Liberation Sans", sans-serif' font-weight="bold" font-size="33.90" textLength="40.0" lengthAdjust="spacingAndGlyphs" fill="#111" >10</text>
<text x="223.4" y="2281.1" font-family='"Liberation Sans", sans-serif' font-weight="normal" font-size="29.13" textLength="16.5" lengthAdjust="spacingAndGlyphs" fill="#444" >×</text>
<text x="201.3" y="2280.4" font-family='"Liberation Sans", sans-serif' font-weight="bold" font-size="34.88" textLength="18.6" lengthAdjust="spacingAndGlyphs" fill="#111" >4</text>
<text x="287.6" y="2417.1" font-family='"Liberation Sans", sans-serif' font-weight="normal" font-size="22.60" textLength="24.9" lengthAdjust="spacingAndGlyphs" fill="#333" >06</text>
<text x="242.7" y="2429.0" font-family='"Liberation Sans", sans-serif' font-weight="bold" font-size="33.90" textLength="40.0" lengthAdjust="spacingAndGlyphs" fill="#111" >10</text>
<text x="223.4" y="2430.0" font-family='"Liberation Sans", sans-serif' font-weight="normal" font-size="29.13" textLength="16.5" lengthAdjust="spacingAndGlyphs" fill="#444" >×</text>
<text x="202.5" y="2429.3" font-family='"Liberation Sans", sans-serif' font-weight="bold" font-size="34.37" textLength="18.6" lengthAdjust="spacingAndGlyphs" fill="#111" >2</text>
<text x="288.6" y="2575.7" font-family='"Liberation Sans", sans-serif' font-weight="bold" font-size="33.90" textLength="19.9" lengthAdjust="spacingAndGlyphs" fill="#000" >0</text>
<text x="589.4" y="2311.1" font-family='"Liberation Sans", sans-serif' font-weight="normal" font-size="41.27" textLength="62.3" lengthAdjust="spacingAndGlyphs" fill="#3a3a3a" >****</text>
<text x="706.3" y="2523.5" font-family='"Liberation Sans", sans-serif' font-weight="normal" font-size="41.94" textLength="63.3" lengthAdjust="spacingAndGlyphs" fill="#3a3a3a" >****</text>
<text x="823.4" y="2546.1" font-family='"Liberation Sans", sans-serif' font-weight="normal" font-size="41.27" textLength="62.3" lengthAdjust="spacingAndGlyphs" fill="#3a3a3a" >****</text>
<text x="933.4" y="2561.1" font-family='"Liberation Sans", sans-serif' font-weight="normal" font-size="41.27" textLength="62.3" lengthAdjust="spacingAndGlyphs" fill="#3a3a3a" >****</text>
<text text-anchor="end" transform="translate(396.0,2608.0) rotate(-45)" font-family='"Liberation Sans", sans-serif' font-weight="bold" font-size="34" fill="#111">mock</text>
<text text-anchor="end" transform="translate(514.2,2608.0) rotate(-45)" font-family='"Liberation Sans", sans-serif' font-weight="bold" font-size="34" fill="#111">0</text>
<text text-anchor="end" transform="translate(632.4,2608.0) rotate(-45)" font-family='"Liberation Sans", sans-serif' font-weight="bold" font-size="34" fill="#111">25</text>
<text text-anchor="end" transform="translate(750.6,2608.0) rotate(-45)" font-family='"Liberation Sans", sans-serif' font-weight="bold" font-size="34" fill="#111">50</text>
<text text-anchor="end" transform="translate(868.8,2608.0) rotate(-45)" font-family='"Liberation Sans", sans-serif' font-weight="bold" font-size="34" fill="#111">100</text>
<text text-anchor="end" transform="translate(987.0,2608.0) rotate(-45)" font-family='"Liberation Sans", sans-serif' font-weight="bold" font-size="34" fill="#111">200</text>
<text x="290.3" y="2724.2" font-family='"Liberation Serif", serif' font-weight="bold" font-size="30.62" textLength="780.5" lengthAdjust="spacingAndGlyphs" fill="#000" >Huaier polysaccharide concentration(µg/ml)</text>
<text transform="rotate(-90)" x="-2428.0" y="176.5" font-family='"Liberation Sans", sans-serif' font-weight="bold" font-size="31.11" textLength="171.5" lengthAdjust="spacingAndGlyphs" fill="#000">Copies/ml</text>
<rect x="1581.3" y="2240.5" width="82.0" height="319.5" fill="#a09fa4" />
<rect x="1695.6" y="2511.5" width="82.0" height="48.5" fill="#818181" />
<rect x="1809.9" y="2551.0" width="82.0" height="9.0" fill="#d6d6d6" />
<rect x="1924.2" y="2558.0" width="82.0" height="2.0" fill="#636363" />
<line x1="1604.3" y1="2218.0" x2="1642.3" y2="2218.0" stroke="#111" stroke-width="5"/>
<line x1="1623.3" y1="2218.0" x2="1623.3" y2="2242.5" stroke="#111" stroke-width="4"/>
<line x1="1719.6" y1="2501.0" x2="1755.6" y2="2501.0" stroke="#111" stroke-width="5"/>
<line x1="1737.6" y1="2501.0" x2="1737.6" y2="2513.5" stroke="#111" stroke-width="4"/>
<line x1="1840.9" y1="2552.0" x2="1862.9" y2="2552.0" stroke="#111" stroke-width="5"/>
<line x1="1950.2" y1="2558.0" x2="1982.2" y2="2558.0" stroke="#333" stroke-width="3"/>
<line x1="1451.0" y1="2117.0" x2="1451.0" y2="2562.0" stroke="#333" stroke-width="4"/>
<line x1="1443.0" y1="2561.0" x2="2139.0" y2="2561.0" stroke="#000" stroke-width="4.5"/>
<line x1="1440.0" y1="2118.0" x2="1451.0" y2="2118.0" stroke="#333" stroke-width="3.5"/>
<line x1="1440.0" y1="2266.0" x2="1451.0" y2="2266.0" stroke="#333" stroke-width="3.5"/>
<line x1="1440.0" y1="2414.0" x2="1451.0" y2="2414.0" stroke="#333" stroke-width="3.5"/>
<line x1="1440.0" y1="2562.0" x2="1451.0" y2="2562.0" stroke="#333" stroke-width="3.5"/>
<line x1="1508.0" y1="2562.0" x2="1508.0" y2="2575.0" stroke="#000" stroke-width="4"/>
<line x1="1622.3" y1="2562.0" x2="1622.3" y2="2575.0" stroke="#000" stroke-width="4"/>
<line x1="1736.6" y1="2562.0" x2="1736.6" y2="2575.0" stroke="#000" stroke-width="4"/>
<line x1="1850.9" y1="2562.0" x2="1850.9" y2="2575.0" stroke="#000" stroke-width="4"/>
<line x1="1965.2" y1="2562.0" x2="1965.2" y2="2575.0" stroke="#000" stroke-width="4"/>
<line x1="2079.5" y1="2562.0" x2="2079.5" y2="2575.0" stroke="#000" stroke-width="4"/>
<text x="1414.5" y="2118.8" font-family='"Liberation Sans", sans-serif' font-weight="normal" font-size="22.60" textLength="25.0" lengthAdjust="spacingAndGlyphs" fill="#333" >07</text>
<text x="1374.3" y="2130.7" font-family='"Liberation Sans", sans-serif' font-weight="bold" font-size="33.90" textLength="37.1" lengthAdjust="spacingAndGlyphs" fill="#111" >10</text>
<text x="1352.5" y="2131.7" font-family='"Liberation Sans", sans-serif' font-weight="normal" font-size="29.13" textLength="18.3" lengthAdjust="spacingAndGlyphs" fill="#444" >×</text>
<text x="1304.6" y="2130.7" font-family='"Liberation Sans", sans-serif' font-weight="bold" font-size="34.40" textLength="46.6" lengthAdjust="spacingAndGlyphs" fill="#111" >1.5</text>
<text x="1414.5" y="2266.8" font-family='"Liberation Sans", sans-serif' font-weight="normal" font-size="22.60" textLength="25.0" lengthAdjust="spacingAndGlyphs" fill="#333" >07</text>
<text x="1374.3" y="2278.7" font-family='"Liberation Sans", sans-serif' font-weight="bold" font-size="33.90" textLength="37.1" lengthAdjust="spacingAndGlyphs" fill="#111" >10</text>
<text x="1352.5" y="2279.7" font-family='"Liberation Sans", sans-serif' font-weight="normal" font-size="29.13" textLength="18.3" lengthAdjust="spacingAndGlyphs" fill="#444" >×</text>
<text x="1305.1" y="2278.7" font-family='"Liberation Sans", sans-serif' font-weight="bold" font-size="33.90" textLength="46.6" lengthAdjust="spacingAndGlyphs" fill="#111" >1.0</text>
<text x="1414.5" y="2414.8" font-family='"Liberation Sans", sans-serif' font-weight="normal" font-size="22.60" textLength="24.9" lengthAdjust="spacingAndGlyphs" fill="#333" >06</text>
<text x="1374.3" y="2426.7" font-family='"Liberation Sans", sans-serif' font-weight="bold" font-size="33.90" textLength="37.1" lengthAdjust="spacingAndGlyphs" fill="#111" >10</text>
<text x="1352.5" y="2427.7" font-family='"Liberation Sans", sans-serif' font-weight="normal" font-size="29.13" textLength="18.3" lengthAdjust="spacingAndGlyphs" fill="#444" >×</text>
<text x="1305.1" y="2426.7" font-family='"Liberation Sans", sans-serif' font-weight="bold" font-size="33.90" textLength="46.6" lengthAdjust="spacingAndGlyphs" fill="#111" >5.0</text>
<text x="1416.6" y="2573.7" font-family='"Liberation Sans", sans-serif' font-weight="bold" font-size="33.90" textLength="19.9" lengthAdjust="spacingAndGlyphs" fill="#000" >0</text>
<text x="1711.4" y="2485.8" font-family='"Liberation Sans", sans-serif' font-weight="normal" font-size="40.59" textLength="61.2" lengthAdjust="spacingAndGlyphs" fill="#3a3a3a" >****</text>
<text x="1819.4" y="2542.1" font-family='"Liberation Sans", sans-serif' font-weight="normal" font-size="41.27" textLength="62.3" lengthAdjust="spacingAndGlyphs" fill="#3a3a3a" >****</text>
<text x="1931.4" y="2555.1" font-family='"Liberation Sans", sans-serif' font-weight="normal" font-size="41.27" textLength="62.3" lengthAdjust="spacingAndGlyphs" fill="#3a3a3a" >****</text>
<text x="2037.4" y="2555.8" font-family='"Liberation Sans", sans-serif' font-weight="normal" font-size="40.59" textLength="61.2" lengthAdjust="spacingAndGlyphs" fill="#3a3a3a" >****</text>
<text text-anchor="end" transform="translate(1520.0,2605.0) rotate(-45)" font-family='"Liberation Sans", sans-serif' font-weight="bold" font-size="33" fill="#111">mock</text>
<text text-anchor="end" transform="translate(1634.3,2605.0) rotate(-45)" font-family='"Liberation Sans", sans-serif' font-weight="bold" font-size="33" fill="#111">0</text>
<text text-anchor="end" transform="translate(1748.6,2605.0) rotate(-45)" font-family='"Liberation Sans", sans-serif' font-weight="bold" font-size="33" fill="#111">25</text>
<text text-anchor="end" transform="translate(1862.9,2605.0) rotate(-45)" font-family='"Liberation Sans", sans-serif' font-weight="bold" font-size="33" fill="#111">50</text>
<text text-anchor="end" transform="translate(1977.2,2605.0) rotate(-45)" font-family='"Liberation Sans", sans-serif' font-weight="bold" font-size="33" fill="#111">100</text>
<text text-anchor="end" transform="translate(2091.5,2605.0) rotate(-45)" font-family='"Liberation Sans", sans-serif' font-weight="bold" font-size="33" fill="#111">200</text>
<text x="1418.3" y="2724.2" font-family='"Liberation Serif", serif' font-weight="bold" font-size="30.62" textLength="752.4" lengthAdjust="spacingAndGlyphs" fill="#000" >Huaier polysaccharide concentration(µg/ml)</text>
<text transform="rotate(-90)" x="-2426.5" y="1288.9" font-family='"Liberation Sans", sans-serif' font-weight="bold" font-size="31.65" textLength="170.0" lengthAdjust="spacingAndGlyphs" fill="#000">Copies/ml</text>
<rect x="2606.8" y="2182.0" width="76.0" height="382.0" fill="#a09fa4" />
<rect x="2710.6" y="2536.5" width="76.0" height="27.5" fill="#818181" />
<rect x="2814.4" y="2562.0" width="76.0" height="2.0" fill="#d6d6d6" />
<rect x="2918.2" y="2558.0" width="76.0" height="6.0" fill="#636363" />
<line x1="2627.3" y1="2146.0" x2="2662.3" y2="2146.0" stroke="#111" stroke-width="5"/>
<line x1="2644.8" y1="2146.0" x2="2644.8" y2="2184.0" stroke="#111" stroke-width="4"/>
<line x1="2731.1" y1="2520.6" x2="2766.1" y2="2520.6" stroke="#111" stroke-width="5"/>
<line x1="2748.6" y1="2520.6" x2="2748.6" y2="2538.5" stroke="#111" stroke-width="4"/>
<line x1="2839.4" y1="2562.0" x2="2865.4" y2="2562.0" stroke="#111" stroke-width="4"/>
<line x1="2940.2" y1="2558.0" x2="2972.2" y2="2558.0" stroke="#333" stroke-width="3"/>
<line x1="2489.0" y1="2119.0" x2="2489.0" y2="2566.0" stroke="#111" stroke-width="4"/>
<line x1="2480.0" y1="2565.0" x2="3112.0" y2="2565.0" stroke="#000" stroke-width="5"/>
<line x1="2480.0" y1="2120.0" x2="2489.0" y2="2120.0" stroke="#333" stroke-width="3"/>
<line x1="2480.0" y1="2209.2" x2="2489.0" y2="2209.2" stroke="#333" stroke-width="3"/>
<line x1="2480.0" y1="2298.4" x2="2489.0" y2="2298.4" stroke="#333" stroke-width="3"/>
<line x1="2480.0" y1="2387.6" x2="2489.0" y2="2387.6" stroke="#333" stroke-width="3"/>
<line x1="2480.0" y1="2476.8" x2="2489.0" y2="2476.8" stroke="#333" stroke-width="3"/>
<line x1="2480.0" y1="2566.0" x2="2489.0" y2="2566.0" stroke="#333" stroke-width="3"/>
<line x1="2540.0" y1="2566.0" x2="2540.0" y2="2579.0" stroke="#000" stroke-width="4.5"/>
<line x1="2643.8" y1="2566.0" x2="2643.8" y2="2579.0" stroke="#000" stroke-width="4.5"/>
<line x1="2747.6" y1="2566.0" x2="2747.6" y2="2579.0" stroke="#000" stroke-width="4.5"/>
<line x1="2851.4" y1="2566.0" x2="2851.4" y2="2579.0" stroke="#000" stroke-width="4.5"/>
<line x1="2955.2" y1="2566.0" x2="2955.2" y2="2579.0" stroke="#000" stroke-width="4.5"/>
<line x1="3059.0" y1="2566.0" x2="3059.0" y2="2579.0" stroke="#000" stroke-width="4.5"/>
<text x="2453.8" y="2120.3" font-family='"Liberation Sans", sans-serif' font-weight="normal" font-size="22.60" textLength="25.0" lengthAdjust="spacingAndGlyphs" fill="#333" >07</text>
<text x="2418.8" y="2132.2" font-family='"Liberation Sans", sans-serif' font-weight="bold" font-size="33.90" textLength="32.9" lengthAdjust="spacingAndGlyphs" fill="#111" >10</text>
<text x="2396.6" y="2133.2" font-family='"Liberation Sans", sans-serif' font-weight="normal" font-size="29.13" textLength="20.0" lengthAdjust="spacingAndGlyphs" fill="#444" >×</text>
<text x="2378.6" y="2132.5" font-family='"Liberation Sans", sans-serif' font-weight="bold" font-size="34.88" textLength="15.8" lengthAdjust="spacingAndGlyphs" fill="#111" >1</text>
<text x="2453.8" y="2209.5" font-family='"Liberation Sans", sans-serif' font-weight="normal" font-size="22.60" textLength="24.9" lengthAdjust="spacingAndGlyphs" fill="#333" >06</text>
<text x="2418.8" y="2221.4" font-family='"Liberation Sans", sans-serif' font-weight="bold" font-size="33.90" textLength="32.9" lengthAdjust="spacingAndGlyphs" fill="#111" >10</text>
<text x="2396.6" y="2222.4" font-family='"Liberation Sans", sans-serif' font-weight="normal" font-size="29.13" textLength="20.0" lengthAdjust="spacingAndGlyphs" fill="#444" >×</text>
<text x="2378.7" y="2221.4" font-family='"Liberation Sans", sans-serif' font-weight="bold" font-size="33.90" textLength="15.8" lengthAdjust="spacingAndGlyphs" fill="#111" >8</text>
<text x="2453.8" y="2298.7" font-family='"Liberation Sans", sans-serif' font-weight="normal" font-size="22.60" textLength="24.9" lengthAdjust="spacingAndGlyphs" fill="#333" >06</text>
<text x="2418.8" y="2310.6" font-family='"Liberation Sans", sans-serif' font-weight="bold" font-size="33.90" textLength="32.9" lengthAdjust="spacingAndGlyphs" fill="#111" >10</text>
<text x="2396.6" y="2311.6" font-family='"Liberation Sans", sans-serif' font-weight="normal" font-size="29.13" textLength="20.0" lengthAdjust="spacingAndGlyphs" fill="#444" >×</text>
<text x="2378.9" y="2310.6" font-family='"Liberation Sans", sans-serif' font-weight="bold" font-size="33.90" textLength="15.8" lengthAdjust="spacingAndGlyphs" fill="#111" >6</text>
<text x="2453.8" y="2387.9" font-family='"Liberation Sans", sans-serif' font-weight="normal" font-size="22.60" textLength="24.9" lengthAdjust="spacingAndGlyphs" fill="#333" >06</text>
<text x="2418.8" y="2399.8" font-family='"Liberation Sans", sans-serif' font-weight="bold" font-size="33.90" textLength="32.9" lengthAdjust="spacingAndGlyphs" fill="#111" >10</text>
<text x="2396.6" y="2400.8" font-family='"Liberation Sans", sans-serif' font-weight="normal" font-size="29.13" textLength="20.0" lengthAdjust="spacingAndGlyphs" fill="#444" >×</text>
<text x="2378.0" y="2400.1" font-family='"Liberation Sans", sans-serif' font-weight="bold" font-size="34.88" textLength="15.8" lengthAdjust="spacingAndGlyphs" fill="#111" >4</text>
<text x="2453.8" y="2477.1" font-family='"Liberation Sans", sans-serif' font-weight="normal" font-size="22.60" textLength="24.9" lengthAdjust="spacingAndGlyphs" fill="#333" >06</text>
<text x="2418.8" y="2489.0" font-family='"Liberation Sans", sans-serif' font-weight="bold" font-size="33.90" textLength="32.9" lengthAdjust="spacingAndGlyphs" fill="#111" >10</text>
<text x="2396.6" y="2490.0" font-family='"Liberation Sans", sans-serif' font-weight="normal" font-size="29.13" textLength="20.0" lengthAdjust="spacingAndGlyphs" fill="#444" >×</text>
<text x="2379.0" y="2489.3" font-family='"Liberation Sans", sans-serif' font-weight="bold" font-size="34.37" textLength="15.8" lengthAdjust="spacingAndGlyphs" fill="#111" >2</text>
<text x="2454.7" y="2577.7" font-family='"Liberation Sans", sans-serif' font-weight="bold" font-size="32.49" textLength="18.7" lengthAdjust="spacingAndGlyphs" fill="#000" >0</text>
<text x="2718.4" y="2513.1" font-family='"Liberation Sans", sans-serif' font-weight="normal" font-size="39.24" textLength="59.2" lengthAdjust="spacingAndGlyphs" fill="#3a3a3a" >****</text>
<text x="2823.4" y="2545.4" font-family='"Liberation Sans", sans-serif' font-weight="normal" font-size="37.88" textLength="57.2" lengthAdjust="spacingAndGlyphs" fill="#3a3a3a" >****</text>
<text x="2932.4" y="2559.1" font-family='"Liberation Sans", sans-serif' font-weight="normal" font-size="37.21" textLength="56.1" lengthAdjust="spacingAndGlyphs" fill="#3a3a3a" >****</text>
<text x="3034.4" y="2559.1" font-family='"Liberation Sans", sans-serif' font-weight="normal" font-size="37.21" textLength="56.1" lengthAdjust="spacingAndGlyphs" fill="#3a3a3a" >****</text>
<text text-anchor="end" transform="translate(2551.0,2611.0) rotate(-45)" font-family='"Liberation Sans", sans-serif' font-weight="bold" font-size="32" fill="#111">mock</text>
<text text-anchor="end" transform="translate(2654.8,2611.0) rotate(-45)" font-family='"Liberation Sans", sans-serif' font-weight="bold" font-size="32" fill="#111">0</text>
<text text-anchor="end" transform="translate(2758.6,2611.0) rotate(-45)" font-family='"Liberation Sans", sans-serif' font-weight="bold" font-size="32" fill="#111">25</text>
<text text-anchor="end" transform="translate(2862.4,2611.0) rotate(-45)" font-family='"Liberation Sans", sans-serif' font-weight="bold" font-size="32" fill="#111">50</text>
<text text-anchor="end" transform="translate(2966.2,2611.0) rotate(-45)" font-family='"Liberation Sans", sans-serif' font-weight="bold" font-size="32" fill="#111">100</text>
<text text-anchor="end" transform="translate(3070.0,2611.0) rotate(-45)" font-family='"Liberation Sans", sans-serif' font-weight="bold" font-size="32" fill="#111">200</text>
<text x="2458.4" y="2726.0" font-family='"Liberation Serif", serif' font-weight="bold" font-size="31.71" textLength="684.2" lengthAdjust="spacingAndGlyphs" fill="#000" >Huaier polysaccharide concentration(µg/ml)</text>
<text transform="rotate(-90)" x="-2430.5" y="2360.1" font-family='"Liberation Sans", sans-serif' font-weight="bold" font-size="28.43" textLength="175.1" lengthAdjust="spacingAndGlyphs" fill="#000">Copies/ml</text>
</svg></body></html>
